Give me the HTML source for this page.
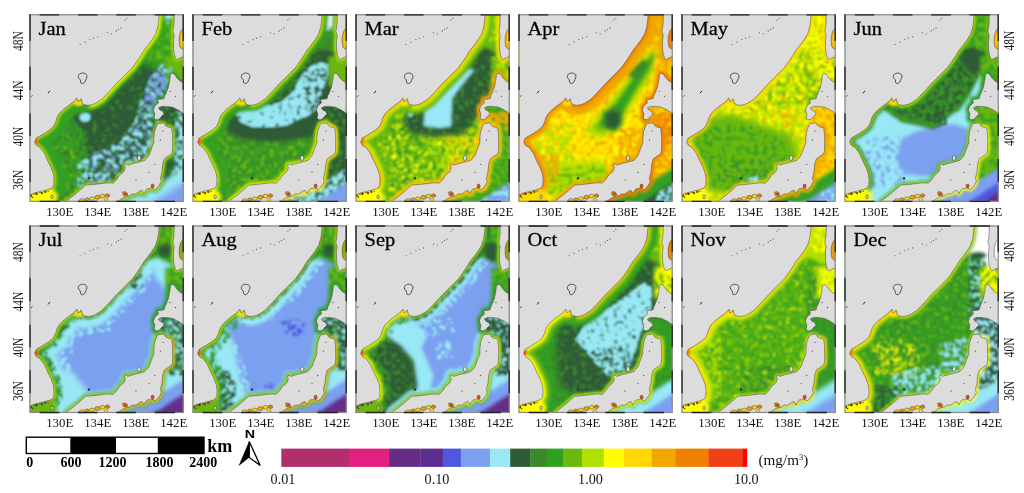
<!DOCTYPE html>
<html><head><meta charset="utf-8"><style>
html,body{margin:0;padding:0;background:#fff;}
svg{display:block;}
.ttl{font-family:"Liberation Serif",serif;font-size:19px;fill:#000;stroke:#000;stroke-width:0.25px;}
.lon{font-family:"Liberation Serif",serif;font-size:12.8px;fill:#111;text-anchor:middle;}
.lat{font-family:"Liberation Serif",serif;font-size:13px;fill:#111;text-anchor:middle;}
.cb{font-family:"Liberation Serif",serif;font-size:14.2px;fill:#111;text-anchor:middle;}
.unit{font-family:"Liberation Serif",serif;font-size:15.2px;fill:#111;}
.km{font-family:"Liberation Serif",serif;font-size:18px;font-weight:bold;fill:#000;}
.sb{font-family:"Liberation Serif",serif;font-size:14px;font-weight:bold;fill:#000;}
.nn{font-family:"Liberation Sans",sans-serif;font-size:11px;font-weight:bold;fill:#000;text-anchor:middle;}
</style></head><body>
<svg width="1024" height="493" viewBox="0 0 1024 493">
<defs><clipPath id="clp"><rect x="0" y="0" width="154.2" height="187.5"/></clipPath>
<filter id="s15_1" x="-5%" y="-5%" width="110%" height="110%"><feTurbulence type="fractalNoise" baseFrequency="0.22" numOctaves="3" seed="1" result="t"/><feColorMatrix in="t" type="matrix" values="0 0 0 0 0  0 0 0 0 0  0 0 0 0 0  14 0 0 0 -8.377" result="m"/><feComposite in="SourceGraphic" in2="m" operator="in"/></filter><filter id="s60_2" x="-5%" y="-5%" width="110%" height="110%"><feTurbulence type="fractalNoise" baseFrequency="0.22" numOctaves="3" seed="2" result="t"/><feColorMatrix in="t" type="matrix" values="0 0 0 0 0  0 0 0 0 0  0 0 0 0 0  14 0 0 0 -6.045" result="m"/><feComposite in="SourceGraphic" in2="m" operator="in"/></filter><filter id="s55_3" x="-5%" y="-5%" width="110%" height="110%"><feTurbulence type="fractalNoise" baseFrequency="0.22" numOctaves="3" seed="3" result="t"/><feColorMatrix in="t" type="matrix" values="0 0 0 0 0  0 0 0 0 0  0 0 0 0 0  14 0 0 0 -6.258" result="m"/><feComposite in="SourceGraphic" in2="m" operator="in"/></filter><filter id="s15_13" x="-5%" y="-5%" width="110%" height="110%"><feTurbulence type="fractalNoise" baseFrequency="0.22" numOctaves="3" seed="13" result="t"/><feColorMatrix in="t" type="matrix" values="0 0 0 0 0  0 0 0 0 0  0 0 0 0 0  14 0 0 0 -8.377" result="m"/><feComposite in="SourceGraphic" in2="m" operator="in"/></filter><filter id="b30" x="-20%" y="-20%" width="140%" height="140%"><feGaussianBlur stdDeviation="3"/></filter><filter id="s30_4" x="-5%" y="-5%" width="110%" height="110%"><feTurbulence type="fractalNoise" baseFrequency="0.22" numOctaves="3" seed="4" result="t"/><feColorMatrix in="t" type="matrix" values="0 0 0 0 0  0 0 0 0 0  0 0 0 0 0  14 0 0 0 -7.414" result="m"/><feComposite in="SourceGraphic" in2="m" operator="in"/></filter><filter id="s60_10" x="-5%" y="-5%" width="110%" height="110%"><feTurbulence type="fractalNoise" baseFrequency="0.22" numOctaves="3" seed="10" result="t"/><feColorMatrix in="t" type="matrix" values="0 0 0 0 0  0 0 0 0 0  0 0 0 0 0  14 0 0 0 -6.045" result="m"/><feComposite in="SourceGraphic" in2="m" operator="in"/></filter><filter id="s30_9" x="-5%" y="-5%" width="110%" height="110%"><feTurbulence type="fractalNoise" baseFrequency="0.22" numOctaves="3" seed="9" result="t"/><feColorMatrix in="t" type="matrix" values="0 0 0 0 0  0 0 0 0 0  0 0 0 0 0  14 0 0 0 -7.414" result="m"/><feComposite in="SourceGraphic" in2="m" operator="in"/></filter><filter id="b14" x="-20%" y="-20%" width="140%" height="140%"><feGaussianBlur stdDeviation="1.4"/></filter><filter id="s32_5" x="-5%" y="-5%" width="110%" height="110%"><feTurbulence type="fractalNoise" baseFrequency="0.22" numOctaves="3" seed="5" result="t"/><feColorMatrix in="t" type="matrix" values="0 0 0 0 0  0 0 0 0 0  0 0 0 0 0  14 0 0 0 -7.319" result="m"/><feComposite in="SourceGraphic" in2="m" operator="in"/></filter><filter id="s7_6" x="-5%" y="-5%" width="110%" height="110%"><feTurbulence type="fractalNoise" baseFrequency="0.22" numOctaves="3" seed="6" result="t"/><feColorMatrix in="t" type="matrix" values="0 0 0 0 0  0 0 0 0 0  0 0 0 0 0  14 0 0 0 -8.986" result="m"/><feComposite in="SourceGraphic" in2="m" operator="in"/></filter><filter id="s45_7" x="-5%" y="-5%" width="110%" height="110%"><feTurbulence type="fractalNoise" baseFrequency="0.22" numOctaves="3" seed="7" result="t"/><feColorMatrix in="t" type="matrix" values="0 0 0 0 0  0 0 0 0 0  0 0 0 0 0  14 0 0 0 -6.712" result="m"/><feComposite in="SourceGraphic" in2="m" operator="in"/></filter><filter id="s20_12" x="-5%" y="-5%" width="110%" height="110%"><feTurbulence type="fractalNoise" baseFrequency="0.22" numOctaves="3" seed="12" result="t"/><feColorMatrix in="t" type="matrix" values="0 0 0 0 0  0 0 0 0 0  0 0 0 0 0  14 0 0 0 -8.001" result="m"/><feComposite in="SourceGraphic" in2="m" operator="in"/></filter><filter id="s45_8" x="-5%" y="-5%" width="110%" height="110%"><feTurbulence type="fractalNoise" baseFrequency="0.22" numOctaves="3" seed="8" result="t"/><feColorMatrix in="t" type="matrix" values="0 0 0 0 0  0 0 0 0 0  0 0 0 0 0  14 0 0 0 -6.712" result="m"/><feComposite in="SourceGraphic" in2="m" operator="in"/></filter><filter id="b20" x="-20%" y="-20%" width="140%" height="140%"><feGaussianBlur stdDeviation="2"/></filter><filter id="b8" x="-20%" y="-20%" width="140%" height="140%"><feGaussianBlur stdDeviation="0.8"/></filter><filter id="b15" x="-20%" y="-20%" width="140%" height="140%"><feGaussianBlur stdDeviation="1.5"/></filter><filter id="s50_11" x="-5%" y="-5%" width="110%" height="110%"><feTurbulence type="fractalNoise" baseFrequency="0.22" numOctaves="3" seed="11" result="t"/><feColorMatrix in="t" type="matrix" values="0 0 0 0 0  0 0 0 0 0  0 0 0 0 0  14 0 0 0 -6.483" result="m"/><feComposite in="SourceGraphic" in2="m" operator="in"/></filter><filter id="s22_12" x="-5%" y="-5%" width="110%" height="110%"><feTurbulence type="fractalNoise" baseFrequency="0.22" numOctaves="3" seed="12" result="t"/><feColorMatrix in="t" type="matrix" values="0 0 0 0 0  0 0 0 0 0  0 0 0 0 0  14 0 0 0 -7.851" result="m"/><feComposite in="SourceGraphic" in2="m" operator="in"/></filter><filter id="s30_18" x="-5%" y="-5%" width="110%" height="110%"><feTurbulence type="fractalNoise" baseFrequency="0.22" numOctaves="3" seed="18" result="t"/><feColorMatrix in="t" type="matrix" values="0 0 0 0 0  0 0 0 0 0  0 0 0 0 0  14 0 0 0 -7.414" result="m"/><feComposite in="SourceGraphic" in2="m" operator="in"/></filter><filter id="s90_13" x="-5%" y="-5%" width="110%" height="110%"><feTurbulence type="fractalNoise" baseFrequency="0.22" numOctaves="3" seed="13" result="t"/><feColorMatrix in="t" type="matrix" values="0 0 0 0 0  0 0 0 0 0  0 0 0 0 0  14 0 0 0 -4.248" result="m"/><feComposite in="SourceGraphic" in2="m" operator="in"/></filter><filter id="s30_19" x="-5%" y="-5%" width="110%" height="110%"><feTurbulence type="fractalNoise" baseFrequency="0.22" numOctaves="3" seed="19" result="t"/><feColorMatrix in="t" type="matrix" values="0 0 0 0 0  0 0 0 0 0  0 0 0 0 0  14 0 0 0 -7.414" result="m"/><feComposite in="SourceGraphic" in2="m" operator="in"/></filter><filter id="b10" x="-20%" y="-20%" width="140%" height="140%"><feGaussianBlur stdDeviation="1"/></filter><filter id="s40_14" x="-5%" y="-5%" width="110%" height="110%"><feTurbulence type="fractalNoise" baseFrequency="0.22" numOctaves="3" seed="14" result="t"/><feColorMatrix in="t" type="matrix" values="0 0 0 0 0  0 0 0 0 0  0 0 0 0 0  14 0 0 0 -6.941" result="m"/><feComposite in="SourceGraphic" in2="m" operator="in"/></filter><filter id="s40_20" x="-5%" y="-5%" width="110%" height="110%"><feTurbulence type="fractalNoise" baseFrequency="0.22" numOctaves="3" seed="20" result="t"/><feColorMatrix in="t" type="matrix" values="0 0 0 0 0  0 0 0 0 0  0 0 0 0 0  14 0 0 0 -6.941" result="m"/><feComposite in="SourceGraphic" in2="m" operator="in"/></filter><filter id="s30_15" x="-5%" y="-5%" width="110%" height="110%"><feTurbulence type="fractalNoise" baseFrequency="0.22" numOctaves="3" seed="15" result="t"/><feColorMatrix in="t" type="matrix" values="0 0 0 0 0  0 0 0 0 0  0 0 0 0 0  14 0 0 0 -7.414" result="m"/><feComposite in="SourceGraphic" in2="m" operator="in"/></filter><filter id="s60_16" x="-5%" y="-5%" width="110%" height="110%"><feTurbulence type="fractalNoise" baseFrequency="0.22" numOctaves="3" seed="16" result="t"/><feColorMatrix in="t" type="matrix" values="0 0 0 0 0  0 0 0 0 0  0 0 0 0 0  14 0 0 0 -6.045" result="m"/><feComposite in="SourceGraphic" in2="m" operator="in"/></filter><filter id="s50_21" x="-5%" y="-5%" width="110%" height="110%"><feTurbulence type="fractalNoise" baseFrequency="0.22" numOctaves="3" seed="21" result="t"/><feColorMatrix in="t" type="matrix" values="0 0 0 0 0  0 0 0 0 0  0 0 0 0 0  14 0 0 0 -6.483" result="m"/><feComposite in="SourceGraphic" in2="m" operator="in"/></filter><filter id="s25_22" x="-5%" y="-5%" width="110%" height="110%"><feTurbulence type="fractalNoise" baseFrequency="0.22" numOctaves="3" seed="22" result="t"/><feColorMatrix in="t" type="matrix" values="0 0 0 0 0  0 0 0 0 0  0 0 0 0 0  14 0 0 0 -7.652" result="m"/><feComposite in="SourceGraphic" in2="m" operator="in"/></filter><filter id="s10_32" x="-5%" y="-5%" width="110%" height="110%"><feTurbulence type="fractalNoise" baseFrequency="0.22" numOctaves="3" seed="32" result="t"/><feColorMatrix in="t" type="matrix" values="0 0 0 0 0  0 0 0 0 0  0 0 0 0 0  14 0 0 0 -8.758" result="m"/><feComposite in="SourceGraphic" in2="m" operator="in"/></filter><filter id="s35_23" x="-5%" y="-5%" width="110%" height="110%"><feTurbulence type="fractalNoise" baseFrequency="0.22" numOctaves="3" seed="23" result="t"/><feColorMatrix in="t" type="matrix" values="0 0 0 0 0  0 0 0 0 0  0 0 0 0 0  14 0 0 0 -7.176" result="m"/><feComposite in="SourceGraphic" in2="m" operator="in"/></filter><filter id="s25_24" x="-5%" y="-5%" width="110%" height="110%"><feTurbulence type="fractalNoise" baseFrequency="0.22" numOctaves="3" seed="24" result="t"/><feColorMatrix in="t" type="matrix" values="0 0 0 0 0  0 0 0 0 0  0 0 0 0 0  14 0 0 0 -7.652" result="m"/><feComposite in="SourceGraphic" in2="m" operator="in"/></filter><filter id="b22" x="-20%" y="-20%" width="140%" height="140%"><feGaussianBlur stdDeviation="2.2"/></filter><filter id="s20_30" x="-5%" y="-5%" width="110%" height="110%"><feTurbulence type="fractalNoise" baseFrequency="0.22" numOctaves="3" seed="30" result="t"/><feColorMatrix in="t" type="matrix" values="0 0 0 0 0  0 0 0 0 0  0 0 0 0 0  14 0 0 0 -8.001" result="m"/><feComposite in="SourceGraphic" in2="m" operator="in"/></filter><filter id="s60_26" x="-5%" y="-5%" width="110%" height="110%"><feTurbulence type="fractalNoise" baseFrequency="0.22" numOctaves="3" seed="26" result="t"/><feColorMatrix in="t" type="matrix" values="0 0 0 0 0  0 0 0 0 0  0 0 0 0 0  14 0 0 0 -6.045" result="m"/><feComposite in="SourceGraphic" in2="m" operator="in"/></filter><filter id="s40_31" x="-5%" y="-5%" width="110%" height="110%"><feTurbulence type="fractalNoise" baseFrequency="0.22" numOctaves="3" seed="31" result="t"/><feColorMatrix in="t" type="matrix" values="0 0 0 0 0  0 0 0 0 0  0 0 0 0 0  14 0 0 0 -6.941" result="m"/><feComposite in="SourceGraphic" in2="m" operator="in"/></filter><filter id="s40_27" x="-5%" y="-5%" width="110%" height="110%"><feTurbulence type="fractalNoise" baseFrequency="0.22" numOctaves="3" seed="27" result="t"/><feColorMatrix in="t" type="matrix" values="0 0 0 0 0  0 0 0 0 0  0 0 0 0 0  14 0 0 0 -6.941" result="m"/><feComposite in="SourceGraphic" in2="m" operator="in"/></filter><filter id="s60_28" x="-5%" y="-5%" width="110%" height="110%"><feTurbulence type="fractalNoise" baseFrequency="0.22" numOctaves="3" seed="28" result="t"/><feColorMatrix in="t" type="matrix" values="0 0 0 0 0  0 0 0 0 0  0 0 0 0 0  14 0 0 0 -6.045" result="m"/><feComposite in="SourceGraphic" in2="m" operator="in"/></filter><filter id="s40_29" x="-5%" y="-5%" width="110%" height="110%"><feTurbulence type="fractalNoise" baseFrequency="0.22" numOctaves="3" seed="29" result="t"/><feColorMatrix in="t" type="matrix" values="0 0 0 0 0  0 0 0 0 0  0 0 0 0 0  14 0 0 0 -6.941" result="m"/><feComposite in="SourceGraphic" in2="m" operator="in"/></filter><filter id="s20_32" x="-5%" y="-5%" width="110%" height="110%"><feTurbulence type="fractalNoise" baseFrequency="0.22" numOctaves="3" seed="32" result="t"/><feColorMatrix in="t" type="matrix" values="0 0 0 0 0  0 0 0 0 0  0 0 0 0 0  14 0 0 0 -8.001" result="m"/><feComposite in="SourceGraphic" in2="m" operator="in"/></filter><filter id="s45_33" x="-5%" y="-5%" width="110%" height="110%"><feTurbulence type="fractalNoise" baseFrequency="0.22" numOctaves="3" seed="33" result="t"/><feColorMatrix in="t" type="matrix" values="0 0 0 0 0  0 0 0 0 0  0 0 0 0 0  14 0 0 0 -6.712" result="m"/><feComposite in="SourceGraphic" in2="m" operator="in"/></filter><filter id="s35_34" x="-5%" y="-5%" width="110%" height="110%"><feTurbulence type="fractalNoise" baseFrequency="0.22" numOctaves="3" seed="34" result="t"/><feColorMatrix in="t" type="matrix" values="0 0 0 0 0  0 0 0 0 0  0 0 0 0 0  14 0 0 0 -7.176" result="m"/><feComposite in="SourceGraphic" in2="m" operator="in"/></filter><filter id="s50_35" x="-5%" y="-5%" width="110%" height="110%"><feTurbulence type="fractalNoise" baseFrequency="0.22" numOctaves="3" seed="35" result="t"/><feColorMatrix in="t" type="matrix" values="0 0 0 0 0  0 0 0 0 0  0 0 0 0 0  14 0 0 0 -6.483" result="m"/><feComposite in="SourceGraphic" in2="m" operator="in"/></filter><filter id="s55_36" x="-5%" y="-5%" width="110%" height="110%"><feTurbulence type="fractalNoise" baseFrequency="0.22" numOctaves="3" seed="36" result="t"/><feColorMatrix in="t" type="matrix" values="0 0 0 0 0  0 0 0 0 0  0 0 0 0 0  14 0 0 0 -6.258" result="m"/><feComposite in="SourceGraphic" in2="m" operator="in"/></filter><filter id="b25" x="-20%" y="-20%" width="140%" height="140%"><feGaussianBlur stdDeviation="2.5"/></filter><filter id="b12" x="-20%" y="-20%" width="140%" height="140%"><feGaussianBlur stdDeviation="1.2"/></filter><filter id="s40_37" x="-5%" y="-5%" width="110%" height="110%"><feTurbulence type="fractalNoise" baseFrequency="0.22" numOctaves="3" seed="37" result="t"/><feColorMatrix in="t" type="matrix" values="0 0 0 0 0  0 0 0 0 0  0 0 0 0 0  14 0 0 0 -6.941" result="m"/><feComposite in="SourceGraphic" in2="m" operator="in"/></filter><filter id="s40_42" x="-5%" y="-5%" width="110%" height="110%"><feTurbulence type="fractalNoise" baseFrequency="0.22" numOctaves="3" seed="42" result="t"/><feColorMatrix in="t" type="matrix" values="0 0 0 0 0  0 0 0 0 0  0 0 0 0 0  14 0 0 0 -6.941" result="m"/><feComposite in="SourceGraphic" in2="m" operator="in"/></filter><filter id="s40_38" x="-5%" y="-5%" width="110%" height="110%"><feTurbulence type="fractalNoise" baseFrequency="0.22" numOctaves="3" seed="38" result="t"/><feColorMatrix in="t" type="matrix" values="0 0 0 0 0  0 0 0 0 0  0 0 0 0 0  14 0 0 0 -6.941" result="m"/><feComposite in="SourceGraphic" in2="m" operator="in"/></filter><filter id="s60_39" x="-5%" y="-5%" width="110%" height="110%"><feTurbulence type="fractalNoise" baseFrequency="0.22" numOctaves="3" seed="39" result="t"/><feColorMatrix in="t" type="matrix" values="0 0 0 0 0  0 0 0 0 0  0 0 0 0 0  14 0 0 0 -6.045" result="m"/><feComposite in="SourceGraphic" in2="m" operator="in"/></filter><filter id="s60_40" x="-5%" y="-5%" width="110%" height="110%"><feTurbulence type="fractalNoise" baseFrequency="0.22" numOctaves="3" seed="40" result="t"/><feColorMatrix in="t" type="matrix" values="0 0 0 0 0  0 0 0 0 0  0 0 0 0 0  14 0 0 0 -6.045" result="m"/><feComposite in="SourceGraphic" in2="m" operator="in"/></filter><filter id="s40_41" x="-5%" y="-5%" width="110%" height="110%"><feTurbulence type="fractalNoise" baseFrequency="0.22" numOctaves="3" seed="41" result="t"/><feColorMatrix in="t" type="matrix" values="0 0 0 0 0  0 0 0 0 0  0 0 0 0 0  14 0 0 0 -6.941" result="m"/><feComposite in="SourceGraphic" in2="m" operator="in"/></filter><filter id="s10_42" x="-5%" y="-5%" width="110%" height="110%"><feTurbulence type="fractalNoise" baseFrequency="0.22" numOctaves="3" seed="42" result="t"/><feColorMatrix in="t" type="matrix" values="0 0 0 0 0  0 0 0 0 0  0 0 0 0 0  14 0 0 0 -8.758" result="m"/><feComposite in="SourceGraphic" in2="m" operator="in"/></filter><filter id="s25_51" x="-5%" y="-5%" width="110%" height="110%"><feTurbulence type="fractalNoise" baseFrequency="0.22" numOctaves="3" seed="51" result="t"/><feColorMatrix in="t" type="matrix" values="0 0 0 0 0  0 0 0 0 0  0 0 0 0 0  14 0 0 0 -7.652" result="m"/><feComposite in="SourceGraphic" in2="m" operator="in"/></filter><filter id="s30_43" x="-5%" y="-5%" width="110%" height="110%"><feTurbulence type="fractalNoise" baseFrequency="0.22" numOctaves="3" seed="43" result="t"/><feColorMatrix in="t" type="matrix" values="0 0 0 0 0  0 0 0 0 0  0 0 0 0 0  14 0 0 0 -7.414" result="m"/><feComposite in="SourceGraphic" in2="m" operator="in"/></filter><filter id="s25_45" x="-5%" y="-5%" width="110%" height="110%"><feTurbulence type="fractalNoise" baseFrequency="0.22" numOctaves="3" seed="45" result="t"/><feColorMatrix in="t" type="matrix" values="0 0 0 0 0  0 0 0 0 0  0 0 0 0 0  14 0 0 0 -7.652" result="m"/><feComposite in="SourceGraphic" in2="m" operator="in"/></filter><filter id="s25_46" x="-5%" y="-5%" width="110%" height="110%"><feTurbulence type="fractalNoise" baseFrequency="0.22" numOctaves="3" seed="46" result="t"/><feColorMatrix in="t" type="matrix" values="0 0 0 0 0  0 0 0 0 0  0 0 0 0 0  14 0 0 0 -7.652" result="m"/><feComposite in="SourceGraphic" in2="m" operator="in"/></filter><filter id="s50_47" x="-5%" y="-5%" width="110%" height="110%"><feTurbulence type="fractalNoise" baseFrequency="0.22" numOctaves="3" seed="47" result="t"/><feColorMatrix in="t" type="matrix" values="0 0 0 0 0  0 0 0 0 0  0 0 0 0 0  14 0 0 0 -6.483" result="m"/><feComposite in="SourceGraphic" in2="m" operator="in"/></filter><filter id="s30_44" x="-5%" y="-5%" width="110%" height="110%"><feTurbulence type="fractalNoise" baseFrequency="0.22" numOctaves="3" seed="44" result="t"/><feColorMatrix in="t" type="matrix" values="0 0 0 0 0  0 0 0 0 0  0 0 0 0 0  14 0 0 0 -7.414" result="m"/><feComposite in="SourceGraphic" in2="m" operator="in"/></filter><filter id="s50_48" x="-5%" y="-5%" width="110%" height="110%"><feTurbulence type="fractalNoise" baseFrequency="0.22" numOctaves="3" seed="48" result="t"/><feColorMatrix in="t" type="matrix" values="0 0 0 0 0  0 0 0 0 0  0 0 0 0 0  14 0 0 0 -6.483" result="m"/><feComposite in="SourceGraphic" in2="m" operator="in"/></filter><filter id="s30_52" x="-5%" y="-5%" width="110%" height="110%"><feTurbulence type="fractalNoise" baseFrequency="0.22" numOctaves="3" seed="52" result="t"/><feColorMatrix in="t" type="matrix" values="0 0 0 0 0  0 0 0 0 0  0 0 0 0 0  14 0 0 0 -7.414" result="m"/><feComposite in="SourceGraphic" in2="m" operator="in"/></filter><filter id="s40_49" x="-5%" y="-5%" width="110%" height="110%"><feTurbulence type="fractalNoise" baseFrequency="0.22" numOctaves="3" seed="49" result="t"/><feColorMatrix in="t" type="matrix" values="0 0 0 0 0  0 0 0 0 0  0 0 0 0 0  14 0 0 0 -6.941" result="m"/><feComposite in="SourceGraphic" in2="m" operator="in"/></filter><filter id="s50_50" x="-5%" y="-5%" width="110%" height="110%"><feTurbulence type="fractalNoise" baseFrequency="0.22" numOctaves="3" seed="50" result="t"/><feColorMatrix in="t" type="matrix" values="0 0 0 0 0  0 0 0 0 0  0 0 0 0 0  14 0 0 0 -6.483" result="m"/><feComposite in="SourceGraphic" in2="m" operator="in"/></filter><filter id="s30_56" x="-5%" y="-5%" width="110%" height="110%"><feTurbulence type="fractalNoise" baseFrequency="0.22" numOctaves="3" seed="56" result="t"/><feColorMatrix in="t" type="matrix" values="0 0 0 0 0  0 0 0 0 0  0 0 0 0 0  14 0 0 0 -7.414" result="m"/><feComposite in="SourceGraphic" in2="m" operator="in"/></filter><filter id="s45_57" x="-5%" y="-5%" width="110%" height="110%"><feTurbulence type="fractalNoise" baseFrequency="0.22" numOctaves="3" seed="57" result="t"/><feColorMatrix in="t" type="matrix" values="0 0 0 0 0  0 0 0 0 0  0 0 0 0 0  14 0 0 0 -6.712" result="m"/><feComposite in="SourceGraphic" in2="m" operator="in"/></filter><filter id="s60_58" x="-5%" y="-5%" width="110%" height="110%"><feTurbulence type="fractalNoise" baseFrequency="0.22" numOctaves="3" seed="58" result="t"/><feColorMatrix in="t" type="matrix" values="0 0 0 0 0  0 0 0 0 0  0 0 0 0 0  14 0 0 0 -6.045" result="m"/><feComposite in="SourceGraphic" in2="m" operator="in"/></filter><filter id="s40_53" x="-5%" y="-5%" width="110%" height="110%"><feTurbulence type="fractalNoise" baseFrequency="0.22" numOctaves="3" seed="53" result="t"/><feColorMatrix in="t" type="matrix" values="0 0 0 0 0  0 0 0 0 0  0 0 0 0 0  14 0 0 0 -6.941" result="m"/><feComposite in="SourceGraphic" in2="m" operator="in"/></filter><filter id="s40_59" x="-5%" y="-5%" width="110%" height="110%"><feTurbulence type="fractalNoise" baseFrequency="0.22" numOctaves="3" seed="59" result="t"/><feColorMatrix in="t" type="matrix" values="0 0 0 0 0  0 0 0 0 0  0 0 0 0 0  14 0 0 0 -6.941" result="m"/><feComposite in="SourceGraphic" in2="m" operator="in"/></filter><filter id="s40_55" x="-5%" y="-5%" width="110%" height="110%"><feTurbulence type="fractalNoise" baseFrequency="0.22" numOctaves="3" seed="55" result="t"/><feColorMatrix in="t" type="matrix" values="0 0 0 0 0  0 0 0 0 0  0 0 0 0 0  14 0 0 0 -6.941" result="m"/><feComposite in="SourceGraphic" in2="m" operator="in"/></filter><filter id="s30_67" x="-5%" y="-5%" width="110%" height="110%"><feTurbulence type="fractalNoise" baseFrequency="0.22" numOctaves="3" seed="67" result="t"/><feColorMatrix in="t" type="matrix" values="0 0 0 0 0  0 0 0 0 0  0 0 0 0 0  14 0 0 0 -7.414" result="m"/><feComposite in="SourceGraphic" in2="m" operator="in"/></filter><filter id="s30_68" x="-5%" y="-5%" width="110%" height="110%"><feTurbulence type="fractalNoise" baseFrequency="0.22" numOctaves="3" seed="68" result="t"/><feColorMatrix in="t" type="matrix" values="0 0 0 0 0  0 0 0 0 0  0 0 0 0 0  14 0 0 0 -7.414" result="m"/><feComposite in="SourceGraphic" in2="m" operator="in"/></filter><filter id="s40_60" x="-5%" y="-5%" width="110%" height="110%"><feTurbulence type="fractalNoise" baseFrequency="0.22" numOctaves="3" seed="60" result="t"/><feColorMatrix in="t" type="matrix" values="0 0 0 0 0  0 0 0 0 0  0 0 0 0 0  14 0 0 0 -6.941" result="m"/><feComposite in="SourceGraphic" in2="m" operator="in"/></filter><filter id="s50_61" x="-5%" y="-5%" width="110%" height="110%"><feTurbulence type="fractalNoise" baseFrequency="0.22" numOctaves="3" seed="61" result="t"/><feColorMatrix in="t" type="matrix" values="0 0 0 0 0  0 0 0 0 0  0 0 0 0 0  14 0 0 0 -6.483" result="m"/><feComposite in="SourceGraphic" in2="m" operator="in"/></filter><filter id="s50_64" x="-5%" y="-5%" width="110%" height="110%"><feTurbulence type="fractalNoise" baseFrequency="0.22" numOctaves="3" seed="64" result="t"/><feColorMatrix in="t" type="matrix" values="0 0 0 0 0  0 0 0 0 0  0 0 0 0 0  14 0 0 0 -6.483" result="m"/><feComposite in="SourceGraphic" in2="m" operator="in"/></filter><filter id="s45_63" x="-5%" y="-5%" width="110%" height="110%"><feTurbulence type="fractalNoise" baseFrequency="0.22" numOctaves="3" seed="63" result="t"/><feColorMatrix in="t" type="matrix" values="0 0 0 0 0  0 0 0 0 0  0 0 0 0 0  14 0 0 0 -6.712" result="m"/><feComposite in="SourceGraphic" in2="m" operator="in"/></filter><filter id="s30_66" x="-5%" y="-5%" width="110%" height="110%"><feTurbulence type="fractalNoise" baseFrequency="0.22" numOctaves="3" seed="66" result="t"/><feColorMatrix in="t" type="matrix" values="0 0 0 0 0  0 0 0 0 0  0 0 0 0 0  14 0 0 0 -7.414" result="m"/><feComposite in="SourceGraphic" in2="m" operator="in"/></filter><filter id="s60_65" x="-5%" y="-5%" width="110%" height="110%"><feTurbulence type="fractalNoise" baseFrequency="0.22" numOctaves="3" seed="65" result="t"/><feColorMatrix in="t" type="matrix" values="0 0 0 0 0  0 0 0 0 0  0 0 0 0 0  14 0 0 0 -6.045" result="m"/><feComposite in="SourceGraphic" in2="m" operator="in"/></filter><filter id="s25_69" x="-5%" y="-5%" width="110%" height="110%"><feTurbulence type="fractalNoise" baseFrequency="0.22" numOctaves="3" seed="69" result="t"/><feColorMatrix in="t" type="matrix" values="0 0 0 0 0  0 0 0 0 0  0 0 0 0 0  14 0 0 0 -7.652" result="m"/><feComposite in="SourceGraphic" in2="m" operator="in"/></filter><filter id="s40_70" x="-5%" y="-5%" width="110%" height="110%"><feTurbulence type="fractalNoise" baseFrequency="0.22" numOctaves="3" seed="70" result="t"/><feColorMatrix in="t" type="matrix" values="0 0 0 0 0  0 0 0 0 0  0 0 0 0 0  14 0 0 0 -6.941" result="m"/><feComposite in="SourceGraphic" in2="m" operator="in"/></filter><filter id="s60_62" x="-5%" y="-5%" width="110%" height="110%"><feTurbulence type="fractalNoise" baseFrequency="0.22" numOctaves="3" seed="62" result="t"/><feColorMatrix in="t" type="matrix" values="0 0 0 0 0  0 0 0 0 0  0 0 0 0 0  14 0 0 0 -6.045" result="m"/><feComposite in="SourceGraphic" in2="m" operator="in"/></filter><filter id="s42_71" x="-5%" y="-5%" width="110%" height="110%"><feTurbulence type="fractalNoise" baseFrequency="0.22" numOctaves="3" seed="71" result="t"/><feColorMatrix in="t" type="matrix" values="0 0 0 0 0  0 0 0 0 0  0 0 0 0 0  14 0 0 0 -6.849" result="m"/><feComposite in="SourceGraphic" in2="m" operator="in"/></filter><filter id="s40_72" x="-5%" y="-5%" width="110%" height="110%"><feTurbulence type="fractalNoise" baseFrequency="0.22" numOctaves="3" seed="72" result="t"/><feColorMatrix in="t" type="matrix" values="0 0 0 0 0  0 0 0 0 0  0 0 0 0 0  14 0 0 0 -6.941" result="m"/><feComposite in="SourceGraphic" in2="m" operator="in"/></filter><filter id="s30_77" x="-5%" y="-5%" width="110%" height="110%"><feTurbulence type="fractalNoise" baseFrequency="0.22" numOctaves="3" seed="77" result="t"/><feColorMatrix in="t" type="matrix" values="0 0 0 0 0  0 0 0 0 0  0 0 0 0 0  14 0 0 0 -7.414" result="m"/><feComposite in="SourceGraphic" in2="m" operator="in"/></filter><filter id="s35_78" x="-5%" y="-5%" width="110%" height="110%"><feTurbulence type="fractalNoise" baseFrequency="0.22" numOctaves="3" seed="78" result="t"/><feColorMatrix in="t" type="matrix" values="0 0 0 0 0  0 0 0 0 0  0 0 0 0 0  14 0 0 0 -7.176" result="m"/><feComposite in="SourceGraphic" in2="m" operator="in"/></filter><filter id="s50_74" x="-5%" y="-5%" width="110%" height="110%"><feTurbulence type="fractalNoise" baseFrequency="0.22" numOctaves="3" seed="74" result="t"/><feColorMatrix in="t" type="matrix" values="0 0 0 0 0  0 0 0 0 0  0 0 0 0 0  14 0 0 0 -6.483" result="m"/><feComposite in="SourceGraphic" in2="m" operator="in"/></filter><filter id="s55_73" x="-5%" y="-5%" width="110%" height="110%"><feTurbulence type="fractalNoise" baseFrequency="0.22" numOctaves="3" seed="73" result="t"/><feColorMatrix in="t" type="matrix" values="0 0 0 0 0  0 0 0 0 0  0 0 0 0 0  14 0 0 0 -6.258" result="m"/><feComposite in="SourceGraphic" in2="m" operator="in"/></filter><filter id="s40_75" x="-5%" y="-5%" width="110%" height="110%"><feTurbulence type="fractalNoise" baseFrequency="0.22" numOctaves="3" seed="75" result="t"/><feColorMatrix in="t" type="matrix" values="0 0 0 0 0  0 0 0 0 0  0 0 0 0 0  14 0 0 0 -6.941" result="m"/><feComposite in="SourceGraphic" in2="m" operator="in"/></filter><filter id="s70_76" x="-5%" y="-5%" width="110%" height="110%"><feTurbulence type="fractalNoise" baseFrequency="0.22" numOctaves="3" seed="76" result="t"/><feColorMatrix in="t" type="matrix" values="0 0 0 0 0  0 0 0 0 0  0 0 0 0 0  14 0 0 0 -5.621" result="m"/><feComposite in="SourceGraphic" in2="m" operator="in"/></filter><filter id="s20_79" x="-5%" y="-5%" width="110%" height="110%"><feTurbulence type="fractalNoise" baseFrequency="0.22" numOctaves="3" seed="79" result="t"/><feColorMatrix in="t" type="matrix" values="0 0 0 0 0  0 0 0 0 0  0 0 0 0 0  14 0 0 0 -8.001" result="m"/><feComposite in="SourceGraphic" in2="m" operator="in"/></filter><filter id="s40_80" x="-5%" y="-5%" width="110%" height="110%"><feTurbulence type="fractalNoise" baseFrequency="0.22" numOctaves="3" seed="80" result="t"/><feColorMatrix in="t" type="matrix" values="0 0 0 0 0  0 0 0 0 0  0 0 0 0 0  14 0 0 0 -6.941" result="m"/><feComposite in="SourceGraphic" in2="m" operator="in"/></filter><filter id="s60_81" x="-5%" y="-5%" width="110%" height="110%"><feTurbulence type="fractalNoise" baseFrequency="0.22" numOctaves="3" seed="81" result="t"/><feColorMatrix in="t" type="matrix" values="0 0 0 0 0  0 0 0 0 0  0 0 0 0 0  14 0 0 0 -6.045" result="m"/><feComposite in="SourceGraphic" in2="m" operator="in"/></filter><filter id="s30_87" x="-5%" y="-5%" width="110%" height="110%"><feTurbulence type="fractalNoise" baseFrequency="0.22" numOctaves="3" seed="87" result="t"/><feColorMatrix in="t" type="matrix" values="0 0 0 0 0  0 0 0 0 0  0 0 0 0 0  14 0 0 0 -7.414" result="m"/><feComposite in="SourceGraphic" in2="m" operator="in"/></filter><filter id="b18" x="-20%" y="-20%" width="140%" height="140%"><feGaussianBlur stdDeviation="1.8"/></filter><filter id="s45_81" x="-5%" y="-5%" width="110%" height="110%"><feTurbulence type="fractalNoise" baseFrequency="0.22" numOctaves="3" seed="81" result="t"/><feColorMatrix in="t" type="matrix" values="0 0 0 0 0  0 0 0 0 0  0 0 0 0 0  14 0 0 0 -6.712" result="m"/><feComposite in="SourceGraphic" in2="m" operator="in"/></filter><filter id="s30_88" x="-5%" y="-5%" width="110%" height="110%"><feTurbulence type="fractalNoise" baseFrequency="0.22" numOctaves="3" seed="88" result="t"/><feColorMatrix in="t" type="matrix" values="0 0 0 0 0  0 0 0 0 0  0 0 0 0 0  14 0 0 0 -7.414" result="m"/><feComposite in="SourceGraphic" in2="m" operator="in"/></filter><filter id="s25_91" x="-5%" y="-5%" width="110%" height="110%"><feTurbulence type="fractalNoise" baseFrequency="0.22" numOctaves="3" seed="91" result="t"/><feColorMatrix in="t" type="matrix" values="0 0 0 0 0  0 0 0 0 0  0 0 0 0 0  14 0 0 0 -7.652" result="m"/><feComposite in="SourceGraphic" in2="m" operator="in"/></filter><filter id="s50_82" x="-5%" y="-5%" width="110%" height="110%"><feTurbulence type="fractalNoise" baseFrequency="0.22" numOctaves="3" seed="82" result="t"/><feColorMatrix in="t" type="matrix" values="0 0 0 0 0  0 0 0 0 0  0 0 0 0 0  14 0 0 0 -6.483" result="m"/><feComposite in="SourceGraphic" in2="m" operator="in"/></filter><filter id="s50_89" x="-5%" y="-5%" width="110%" height="110%"><feTurbulence type="fractalNoise" baseFrequency="0.22" numOctaves="3" seed="89" result="t"/><feColorMatrix in="t" type="matrix" values="0 0 0 0 0  0 0 0 0 0  0 0 0 0 0  14 0 0 0 -6.483" result="m"/><feComposite in="SourceGraphic" in2="m" operator="in"/></filter><filter id="s30_90" x="-5%" y="-5%" width="110%" height="110%"><feTurbulence type="fractalNoise" baseFrequency="0.22" numOctaves="3" seed="90" result="t"/><feColorMatrix in="t" type="matrix" values="0 0 0 0 0  0 0 0 0 0  0 0 0 0 0  14 0 0 0 -7.414" result="m"/><feComposite in="SourceGraphic" in2="m" operator="in"/></filter><filter id="s75_83" x="-5%" y="-5%" width="110%" height="110%"><feTurbulence type="fractalNoise" baseFrequency="0.22" numOctaves="3" seed="83" result="t"/><feColorMatrix in="t" type="matrix" values="0 0 0 0 0  0 0 0 0 0  0 0 0 0 0  14 0 0 0 -5.321" result="m"/><feComposite in="SourceGraphic" in2="m" operator="in"/></filter><filter id="s40_84" x="-5%" y="-5%" width="110%" height="110%"><feTurbulence type="fractalNoise" baseFrequency="0.22" numOctaves="3" seed="84" result="t"/><feColorMatrix in="t" type="matrix" values="0 0 0 0 0  0 0 0 0 0  0 0 0 0 0  14 0 0 0 -6.941" result="m"/><feComposite in="SourceGraphic" in2="m" operator="in"/></filter><filter id="s70_85" x="-5%" y="-5%" width="110%" height="110%"><feTurbulence type="fractalNoise" baseFrequency="0.22" numOctaves="3" seed="85" result="t"/><feColorMatrix in="t" type="matrix" values="0 0 0 0 0  0 0 0 0 0  0 0 0 0 0  14 0 0 0 -5.621" result="m"/><feComposite in="SourceGraphic" in2="m" operator="in"/></filter><filter id="s40_93" x="-5%" y="-5%" width="110%" height="110%"><feTurbulence type="fractalNoise" baseFrequency="0.22" numOctaves="3" seed="93" result="t"/><feColorMatrix in="t" type="matrix" values="0 0 0 0 0  0 0 0 0 0  0 0 0 0 0  14 0 0 0 -6.941" result="m"/><feComposite in="SourceGraphic" in2="m" operator="in"/></filter><filter id="s40_91" x="-5%" y="-5%" width="110%" height="110%"><feTurbulence type="fractalNoise" baseFrequency="0.22" numOctaves="3" seed="91" result="t"/><feColorMatrix in="t" type="matrix" values="0 0 0 0 0  0 0 0 0 0  0 0 0 0 0  14 0 0 0 -6.941" result="m"/><feComposite in="SourceGraphic" in2="m" operator="in"/></filter><filter id="s20_94" x="-5%" y="-5%" width="110%" height="110%"><feTurbulence type="fractalNoise" baseFrequency="0.22" numOctaves="3" seed="94" result="t"/><feColorMatrix in="t" type="matrix" values="0 0 0 0 0  0 0 0 0 0  0 0 0 0 0  14 0 0 0 -8.001" result="m"/><feComposite in="SourceGraphic" in2="m" operator="in"/></filter><filter id="s94_92" x="-5%" y="-5%" width="110%" height="110%"><feTurbulence type="fractalNoise" baseFrequency="0.22" numOctaves="3" seed="92" result="t"/><feColorMatrix in="t" type="matrix" values="0 0 0 0 0  0 0 0 0 0  0 0 0 0 0  14 0 0 0 -4.200" result="m"/><feComposite in="SourceGraphic" in2="m" operator="in"/></filter><filter id="s35_95" x="-5%" y="-5%" width="110%" height="110%"><feTurbulence type="fractalNoise" baseFrequency="0.22" numOctaves="3" seed="95" result="t"/><feColorMatrix in="t" type="matrix" values="0 0 0 0 0  0 0 0 0 0  0 0 0 0 0  14 0 0 0 -7.176" result="m"/><feComposite in="SourceGraphic" in2="m" operator="in"/></filter><filter id="s30_96" x="-5%" y="-5%" width="110%" height="110%"><feTurbulence type="fractalNoise" baseFrequency="0.22" numOctaves="3" seed="96" result="t"/><feColorMatrix in="t" type="matrix" values="0 0 0 0 0  0 0 0 0 0  0 0 0 0 0  14 0 0 0 -7.414" result="m"/><feComposite in="SourceGraphic" in2="m" operator="in"/></filter><filter id="s40_97" x="-5%" y="-5%" width="110%" height="110%"><feTurbulence type="fractalNoise" baseFrequency="0.22" numOctaves="3" seed="97" result="t"/><feColorMatrix in="t" type="matrix" values="0 0 0 0 0  0 0 0 0 0  0 0 0 0 0  14 0 0 0 -6.941" result="m"/><feComposite in="SourceGraphic" in2="m" operator="in"/></filter><filter id="s30_98" x="-5%" y="-5%" width="110%" height="110%"><feTurbulence type="fractalNoise" baseFrequency="0.22" numOctaves="3" seed="98" result="t"/><feColorMatrix in="t" type="matrix" values="0 0 0 0 0  0 0 0 0 0  0 0 0 0 0  14 0 0 0 -7.414" result="m"/><feComposite in="SourceGraphic" in2="m" operator="in"/></filter><filter id="s35_101" x="-5%" y="-5%" width="110%" height="110%"><feTurbulence type="fractalNoise" baseFrequency="0.22" numOctaves="3" seed="101" result="t"/><feColorMatrix in="t" type="matrix" values="0 0 0 0 0  0 0 0 0 0  0 0 0 0 0  14 0 0 0 -7.176" result="m"/><feComposite in="SourceGraphic" in2="m" operator="in"/></filter><filter id="s8_102" x="-5%" y="-5%" width="110%" height="110%"><feTurbulence type="fractalNoise" baseFrequency="0.22" numOctaves="3" seed="102" result="t"/><feColorMatrix in="t" type="matrix" values="0 0 0 0 0  0 0 0 0 0  0 0 0 0 0  14 0 0 0 -8.910" result="m"/><feComposite in="SourceGraphic" in2="m" operator="in"/></filter><filter id="s40_103" x="-5%" y="-5%" width="110%" height="110%"><feTurbulence type="fractalNoise" baseFrequency="0.22" numOctaves="3" seed="103" result="t"/><feColorMatrix in="t" type="matrix" values="0 0 0 0 0  0 0 0 0 0  0 0 0 0 0  14 0 0 0 -6.941" result="m"/><feComposite in="SourceGraphic" in2="m" operator="in"/></filter><filter id="s35_104" x="-5%" y="-5%" width="110%" height="110%"><feTurbulence type="fractalNoise" baseFrequency="0.22" numOctaves="3" seed="104" result="t"/><feColorMatrix in="t" type="matrix" values="0 0 0 0 0  0 0 0 0 0  0 0 0 0 0  14 0 0 0 -7.176" result="m"/><feComposite in="SourceGraphic" in2="m" operator="in"/></filter><filter id="s40_105" x="-5%" y="-5%" width="110%" height="110%"><feTurbulence type="fractalNoise" baseFrequency="0.22" numOctaves="3" seed="105" result="t"/><feColorMatrix in="t" type="matrix" values="0 0 0 0 0  0 0 0 0 0  0 0 0 0 0  14 0 0 0 -6.941" result="m"/><feComposite in="SourceGraphic" in2="m" operator="in"/></filter><filter id="s50_106" x="-5%" y="-5%" width="110%" height="110%"><feTurbulence type="fractalNoise" baseFrequency="0.22" numOctaves="3" seed="106" result="t"/><feColorMatrix in="t" type="matrix" values="0 0 0 0 0  0 0 0 0 0  0 0 0 0 0  14 0 0 0 -6.483" result="m"/><feComposite in="SourceGraphic" in2="m" operator="in"/></filter><filter id="s40_107" x="-5%" y="-5%" width="110%" height="110%"><feTurbulence type="fractalNoise" baseFrequency="0.22" numOctaves="3" seed="107" result="t"/><feColorMatrix in="t" type="matrix" values="0 0 0 0 0  0 0 0 0 0  0 0 0 0 0  14 0 0 0 -6.941" result="m"/><feComposite in="SourceGraphic" in2="m" operator="in"/></filter><filter id="s30_108" x="-5%" y="-5%" width="110%" height="110%"><feTurbulence type="fractalNoise" baseFrequency="0.22" numOctaves="3" seed="108" result="t"/><feColorMatrix in="t" type="matrix" values="0 0 0 0 0  0 0 0 0 0  0 0 0 0 0  14 0 0 0 -7.414" result="m"/><feComposite in="SourceGraphic" in2="m" operator="in"/></filter><filter id="s35_111" x="-5%" y="-5%" width="110%" height="110%"><feTurbulence type="fractalNoise" baseFrequency="0.22" numOctaves="3" seed="111" result="t"/><feColorMatrix in="t" type="matrix" values="0 0 0 0 0  0 0 0 0 0  0 0 0 0 0  14 0 0 0 -7.176" result="m"/><feComposite in="SourceGraphic" in2="m" operator="in"/></filter><filter id="s15_112" x="-5%" y="-5%" width="110%" height="110%"><feTurbulence type="fractalNoise" baseFrequency="0.22" numOctaves="3" seed="112" result="t"/><feColorMatrix in="t" type="matrix" values="0 0 0 0 0  0 0 0 0 0  0 0 0 0 0  14 0 0 0 -8.377" result="m"/><feComposite in="SourceGraphic" in2="m" operator="in"/></filter><filter id="s25_113" x="-5%" y="-5%" width="110%" height="110%"><feTurbulence type="fractalNoise" baseFrequency="0.22" numOctaves="3" seed="113" result="t"/><feColorMatrix in="t" type="matrix" values="0 0 0 0 0  0 0 0 0 0  0 0 0 0 0  14 0 0 0 -7.652" result="m"/><feComposite in="SourceGraphic" in2="m" operator="in"/></filter><filter id="s7_121" x="-5%" y="-5%" width="110%" height="110%"><feTurbulence type="fractalNoise" baseFrequency="0.22" numOctaves="3" seed="121" result="t"/><feColorMatrix in="t" type="matrix" values="0 0 0 0 0  0 0 0 0 0  0 0 0 0 0  14 0 0 0 -8.986" result="m"/><feComposite in="SourceGraphic" in2="m" operator="in"/></filter><filter id="s4_114" x="-5%" y="-5%" width="110%" height="110%"><feTurbulence type="fractalNoise" baseFrequency="0.22" numOctaves="3" seed="114" result="t"/><feColorMatrix in="t" type="matrix" values="0 0 0 0 0  0 0 0 0 0  0 0 0 0 0  14 0 0 0 -9.504" result="m"/><feComposite in="SourceGraphic" in2="m" operator="in"/></filter><filter id="s42_115" x="-5%" y="-5%" width="110%" height="110%"><feTurbulence type="fractalNoise" baseFrequency="0.22" numOctaves="3" seed="115" result="t"/><feColorMatrix in="t" type="matrix" values="0 0 0 0 0  0 0 0 0 0  0 0 0 0 0  14 0 0 0 -6.849" result="m"/><feComposite in="SourceGraphic" in2="m" operator="in"/></filter><filter id="s35_116" x="-5%" y="-5%" width="110%" height="110%"><feTurbulence type="fractalNoise" baseFrequency="0.22" numOctaves="3" seed="116" result="t"/><feColorMatrix in="t" type="matrix" values="0 0 0 0 0  0 0 0 0 0  0 0 0 0 0  14 0 0 0 -7.176" result="m"/><feComposite in="SourceGraphic" in2="m" operator="in"/></filter><filter id="s55_117" x="-5%" y="-5%" width="110%" height="110%"><feTurbulence type="fractalNoise" baseFrequency="0.22" numOctaves="3" seed="117" result="t"/><feColorMatrix in="t" type="matrix" values="0 0 0 0 0  0 0 0 0 0  0 0 0 0 0  14 0 0 0 -6.258" result="m"/><feComposite in="SourceGraphic" in2="m" operator="in"/></filter><filter id="s35_118" x="-5%" y="-5%" width="110%" height="110%"><feTurbulence type="fractalNoise" baseFrequency="0.22" numOctaves="3" seed="118" result="t"/><feColorMatrix in="t" type="matrix" values="0 0 0 0 0  0 0 0 0 0  0 0 0 0 0  14 0 0 0 -7.176" result="m"/><feComposite in="SourceGraphic" in2="m" operator="in"/></filter><filter id="s40_119" x="-5%" y="-5%" width="110%" height="110%"><feTurbulence type="fractalNoise" baseFrequency="0.22" numOctaves="3" seed="119" result="t"/><feColorMatrix in="t" type="matrix" values="0 0 0 0 0  0 0 0 0 0  0 0 0 0 0  14 0 0 0 -6.941" result="m"/><feComposite in="SourceGraphic" in2="m" operator="in"/></filter><filter id="s40_122" x="-5%" y="-5%" width="110%" height="110%"><feTurbulence type="fractalNoise" baseFrequency="0.22" numOctaves="3" seed="122" result="t"/><feColorMatrix in="t" type="matrix" values="0 0 0 0 0  0 0 0 0 0  0 0 0 0 0  14 0 0 0 -6.941" result="m"/><feComposite in="SourceGraphic" in2="m" operator="in"/></filter><filter id="s40_120" x="-5%" y="-5%" width="110%" height="110%"><feTurbulence type="fractalNoise" baseFrequency="0.22" numOctaves="3" seed="120" result="t"/><feColorMatrix in="t" type="matrix" values="0 0 0 0 0  0 0 0 0 0  0 0 0 0 0  14 0 0 0 -6.941" result="m"/><feComposite in="SourceGraphic" in2="m" operator="in"/></filter><filter id="soft" x="0" y="0" width="100%" height="100%"><feGaussianBlur stdDeviation="0.9"/></filter></defs>
<rect width="1024" height="493" fill="#fff"/>
<g transform="translate(29.50,14.30)">
<g clip-path="url(#clp)">
<g filter="url(#soft)">
<path d="M-5.0,-5.0 L160.0,-5.0 L160.0,195.0 L-5.0,195.0 Z" fill="#2e5a35"/>
<path d="M-5.0,-5.0 L160.0,-5.0 L160.0,195.0 L-5.0,195.0 Z" fill="#3a8a2a" filter="url(#s15_1)"/>
<path d="M-5.0,110.0 L40.0,100.0 L55.0,120.0 L60.0,150.0 L50.0,195.0 L-5.0,195.0 Z" fill="#3a8a2a" filter="url(#s60_2)"/>
<path d="M-5.0,110.0 L40.0,100.0 L55.0,120.0 L60.0,150.0 L50.0,195.0 L-5.0,195.0 Z" fill="#30a020" filter="url(#s55_3)"/>
<path d="M-5.0,120.0 L35.0,115.0 L50.0,130.0 L52.0,160.0 L45.0,195.0 L-5.0,195.0 Z" fill="#6ab810" filter="url(#s15_13)"/>
<path d="M110.0,-3.0 L147.0,-3.0 L147.0,52.0 L132.0,56.0 L108.0,48.0 Z" fill="#30a020" filter="url(#b30)"/>
<path d="M110.0,-3.0 L147.0,-3.0 L147.0,45.0 L132.0,50.0 L108.0,42.0 Z" fill="#6ab810" filter="url(#s30_4)"/>
<path d="M128.0,-3.0 L146.0,-3.0 L145.0,7.0 L131.0,7.0 Z" fill="#f2f6f6" filter="url(#s60_10)"/>
<path d="M128.0,-3.0 L146.0,-3.0 L145.0,9.0 L131.0,9.0 Z" fill="#98e8f5" filter="url(#s30_9)"/>
<path d="M147.0,8.0 L160.0,8.0 L160.0,38.0 L147.0,38.0 Z" fill="#ffd800" filter="url(#b14)"/>
<path d="M136.0,42.0 L160.0,42.0 L160.0,72.0 L136.0,72.0 Z" fill="#6ab810" filter="url(#b14)"/>
<path d="M48.0,150.0 L60.0,140.0 L90.0,128.0 L105.0,108.0 L112.0,85.0 L120.0,65.0 L132.0,50.0 L142.0,50.0 L142.0,100.0 L128.0,112.0 L124.0,150.0 L110.0,170.0 L80.0,175.0 L48.0,172.0 Z" fill="#98e8f5" filter="url(#s32_5)"/>
<path d="M48.0,150.0 L60.0,140.0 L90.0,128.0 L105.0,108.0 L112.0,85.0 L120.0,65.0 L132.0,50.0 L142.0,50.0 L142.0,100.0 L128.0,112.0 L124.0,150.0 L110.0,170.0 L80.0,175.0 L48.0,172.0 Z" fill="#7ba0f0" filter="url(#s7_6)"/>
<path d="M120.0,62.0 L134.0,58.0 L140.0,80.0 L130.0,100.0 L118.0,104.0 L115.0,85.0 Z" fill="#7ba0f0" filter="url(#s45_7)"/>
<ellipse cx="55.5" cy="103" rx="5.5" ry="4.5" fill="#98e8f5"/>
<path d="M128.0,91.0 L160.0,91.0 L160.0,195.0 L85.0,195.0 L95.0,182.0 L112.0,176.0 L126.0,168.0 L129.0,150.0 L131.0,130.0 L130.0,112.0 L129.0,104.0 Z" fill="#2e5a35" filter="url(#b14)"/>
<path d="M128.0,91.0 L160.0,91.0 L160.0,195.0 L85.0,195.0 L95.0,182.0 L112.0,176.0 L126.0,168.0 L129.0,150.0 L131.0,130.0 L130.0,112.0 L129.0,104.0 Z" fill="#30a020" filter="url(#s20_12)"/>
<path d="M146.0,98.0 L160.0,98.0 L160.0,195.0 L130.0,195.0 L140.0,170.0 L145.0,150.0 Z" fill="#98e8f5" filter="url(#s45_8)"/>
<path d="M85.0,195.0 L95.0,184.0 L110.0,178.0 L125.0,174.0 L135.0,166.0 L160.0,150.0 L160.0,195.0 Z" fill="#98e8f5" filter="url(#b20)"/>
<path d="M110.0,195.0 L130.0,184.0 L145.0,174.0 L160.0,165.0 L160.0,195.0 Z" fill="#7ba0f0" filter="url(#b30)"/>
<path d="M129.7,-10.0 L129.7,0.2 L129.0,7.0 L128.3,12.7 L126.1,19.8 L122.6,25.5 L118.3,31.2 L114.1,36.5 L111.5,41.0 L108.5,45.5 L103.0,53.3 L94.8,61.5 L86.7,69.5 L79.5,77.5 L72.6,84.8 L66.1,88.9 L63.0,90.2 L58.9,91.0 L55.5,90.6 L53.0,89.5 L52.4,86.8 L51.6,84.4 L50.2,86.2 L48.8,87.6" fill="none" stroke="#30a020" stroke-width="12" stroke-linejoin="round" stroke-linecap="round" filter="url(#b8)"/>
<path d="M129.7,-10.0 L129.7,0.2 L129.0,7.0 L128.3,12.7 L126.1,19.8 L122.6,25.5 L118.3,31.2 L114.1,36.5 L111.5,41.0 L108.5,45.5 L103.0,53.3 L94.8,61.5 L86.7,69.5 L79.5,77.5 L72.6,84.8 L66.1,88.9 L63.0,90.2 L58.9,91.0 L55.5,90.6 L53.0,89.5 L52.4,86.8 L51.6,84.4 L50.2,86.2 L48.8,87.6" fill="none" stroke="#b0e000" stroke-width="6.4" stroke-linejoin="round" stroke-linecap="round" filter="url(#b8)"/>
<path d="M129.7,-10.0 L129.7,0.2 L129.0,7.0 L128.3,12.7 L126.1,19.8 L122.6,25.5 L118.3,31.2 L114.1,36.5 L111.5,41.0 L108.5,45.5 L103.0,53.3 L94.8,61.5 L86.7,69.5 L79.5,77.5 L72.6,84.8 L66.1,88.9 L63.0,90.2 L58.9,91.0 L55.5,90.6 L53.0,89.5 L52.4,86.8 L51.6,84.4 L50.2,86.2 L48.8,87.6" fill="none" stroke="#ffff00" stroke-width="2.2" stroke-linejoin="round" stroke-linecap="round" filter="url(#b8)"/>
<path d="M48.8,87.6 L48.2,85.5 L47.2,83.6 L45.5,86.2 L42.5,88.6 L37.7,92.1 L33.6,95.4 L29.5,99.4 L27.1,104.0 L26.3,107.5 L23.8,112.4 L19.0,116.4 L12.5,120.5 L6.8,123.7 L5.2,127.8 L6.8,131.0 L10.8,133.4 L14.9,139.1 L18.1,146.4 L21.4,152.9 L23.8,159.4 L24.6,165.8 L24.2,171.0 L22.2,174.0 L17.3,175.6 L10.8,177.2 L4.4,178.8 L1.1,180.4 L-10.0,181.0" fill="none" stroke="#30a020" stroke-width="24" stroke-linejoin="round" stroke-linecap="round" filter="url(#b15)"/>
<path d="M48.8,87.6 L48.2,85.5 L47.2,83.6 L45.5,86.2 L42.5,88.6 L37.7,92.1 L33.6,95.4 L29.5,99.4 L27.1,104.0 L26.3,107.5 L23.8,112.4 L19.0,116.4 L12.5,120.5 L6.8,123.7 L5.2,127.8 L6.8,131.0 L10.8,133.4 L14.9,139.1 L18.1,146.4 L21.4,152.9 L23.8,159.4 L24.6,165.8 L24.2,171.0 L22.2,174.0 L17.3,175.6 L10.8,177.2 L4.4,178.8 L1.1,180.4 L-10.0,181.0" fill="none" stroke="#6ab810" stroke-width="6" stroke-linejoin="round" stroke-linecap="round" filter="url(#b8)"/>
<path d="M48.8,87.6 L48.2,85.5 L47.2,83.6 L45.5,86.2 L42.5,88.6 L37.7,92.1 L33.6,95.4 L29.5,99.4 L27.1,104.0 L26.3,107.5 L23.8,112.4 L19.0,116.4 L12.5,120.5 L6.8,123.7 L5.2,127.8 L6.8,131.0 L10.8,133.4 L14.9,139.1 L18.1,146.4 L21.4,152.9 L23.8,159.4 L24.6,165.8 L24.2,171.0 L22.2,174.0 L17.3,175.6 L10.8,177.2 L4.4,178.8 L1.1,180.4 L-10.0,181.0" fill="none" stroke="#ffff00" stroke-width="1.6" stroke-linejoin="round" stroke-linecap="round" filter="url(#b8)"/>
<ellipse cx="6" cy="127" rx="2.5" ry="4" fill="#f08000"/>
<ellipse cx="5.5" cy="127" rx="1.2" ry="2.5" fill="#f04018"/>
<path d="M144.7,-5.0 L144.7,7.0 L144.0,14.1 L143.3,17.0 L144.7,21.2 L144.0,26.9 L144.0,34.0 L144.7,39.7 L146.1,44.0 L147.5,45.4 L149.7,44.0 L151.8,43.2 L153.2,42.5 L160.0,42.5" fill="none" stroke="#6ab810" stroke-width="5.0" stroke-linejoin="round" stroke-linecap="round" filter="url(#b8)"/>
<path d="M144.7,-5.0 L144.7,7.0 L144.0,14.1 L143.3,17.0 L144.7,21.2 L144.0,26.9 L144.0,34.0 L144.7,39.7 L146.1,44.0 L147.5,45.4 L149.7,44.0 L151.8,43.2 L153.2,42.5 L160.0,42.5" fill="none" stroke="#ffff00" stroke-width="1.6" stroke-linejoin="round" stroke-linecap="round" filter="url(#b8)"/>
<path d="M160.0,14.1 L153.2,14.1 L151.1,17.0 L149.7,22.6 L149.7,28.3 L150.4,32.6 L152.5,34.7 L160.0,35.4" fill="none" stroke="#f08000" stroke-width="2" stroke-linejoin="round" stroke-linecap="round" filter="url(#b8)"/>
<path d="M160.0,68.1 L153.2,68.1 L150.4,66.7 L147.5,63.8 L144.7,59.6 L142.6,58.9 L141.0,60.2 L140.3,65.9 L138.9,73.0 L136.7,78.6 L135.3,81.5 L134.6,84.3 L131.0,85.0 L128.2,85.0 L128.9,88.6 L125.4,91.4 L123.9,95.7 L125.4,100.0 L124.6,104.2 L127.5,105.6" fill="none" stroke="#30a020" stroke-width="4" stroke-linejoin="round" stroke-linecap="round" filter="url(#b8)"/>
<path d="M138.1,112.5 L136.0,111.3 L134.6,108.5 L128.9,109.2 L127.7,110.3 L125.2,116.8 L124.4,123.3 L124.4,128.2 L121.9,134.7 L119.5,141.2 L115.4,146.1 L109.7,147.7 L103.2,149.3 L98.4,150.9 L97.2,150.0 L95.6,149.8 L95.0,151.6 L95.9,153.4 L94.3,157.4 L90.2,160.7 L87.0,165.6 L83.7,168.8 L78.5,168.5 L72.9,169.1 L64.0,170.2 L56.2,170.8 L50.6,175.8 L43.9,181.4 L37.2,186.4 L36.0,192.0" fill="none" stroke="#6ab810" stroke-width="3.0" stroke-linejoin="round" stroke-linecap="round" filter="url(#b8)"/>
<path d="M138.1,112.5 L136.0,111.3 L134.6,108.5 L128.9,109.2 L127.7,110.3 L125.2,116.8 L124.4,123.3 L124.4,128.2 L121.9,134.7 L119.5,141.2 L115.4,146.1 L109.7,147.7 L103.2,149.3 L98.4,150.9 L97.2,150.0 L95.6,149.8 L95.0,151.6 L95.9,153.4 L94.3,157.4 L90.2,160.7 L87.0,165.6 L83.7,168.8 L78.5,168.5 L72.9,169.1 L64.0,170.2 L56.2,170.8 L50.6,175.8 L43.9,181.4 L37.2,186.4 L36.0,192.0" fill="none" stroke="#ffff00" stroke-width="1.4" stroke-linejoin="round" stroke-linecap="round" filter="url(#b8)"/>
<path d="M138.1,112.5 L142.2,113.6 L143.0,120.1 L143.2,128.0 L143.0,136.3 L142.2,139.5 L137.3,142.8 L134.9,144.4 L133.3,149.3 L132.5,157.4 L130.9,163.9 L131.8,167.1 L130.5,169.8 L128.7,172.5 L126.0,175.1 L123.3,174.2 L122.4,172.5 L120.6,174.2 L118.0,174.2 L116.2,176.0 L114.4,179.6 L112.6,176.0 L109.9,176.9 L106.4,179.6 L102.8,179.6 L100.1,181.4 L96.6,182.3 L93.9,183.2 L91.2,185.0 L88.5,186.8 L88.0,192.0" fill="none" stroke="#30a020" stroke-width="6" stroke-linejoin="round" stroke-linecap="round" filter="url(#b8)"/>
<path d="M138.1,112.5 L142.2,113.6 L143.0,120.1 L143.2,128.0 L143.0,136.3 L142.2,139.5 L137.3,142.8 L134.9,144.4 L133.3,149.3 L132.5,157.4 L130.9,163.9 L131.8,167.1 L130.5,169.8 L128.7,172.5 L126.0,175.1 L123.3,174.2 L122.4,172.5 L120.6,174.2 L118.0,174.2 L116.2,176.0 L114.4,179.6 L112.6,176.0 L109.9,176.9 L106.4,179.6 L102.8,179.6 L100.1,181.4 L96.6,182.3 L93.9,183.2 L91.2,185.0 L88.5,186.8 L88.0,192.0" fill="none" stroke="#ffff00" stroke-width="2.4" stroke-linejoin="round" stroke-linecap="round" filter="url(#b8)"/>
<path d="M-5.0,177.0 L10.0,176.0 L22.0,174.0 L28.0,180.0 L26.0,195.0 L-5.0,195.0 Z" fill="#ffff00" filter="url(#b14)"/>
<path d="M44,89.5 L47.2,83 L49,88.5 L51.6,83.8 L53.8,90.5 L48,91.5 Z" fill="#ffe000"/>
<path d="M46.5,86 L47.2,83 L48.2,86 Z M51,86 L51.6,83.8 L52.5,86.5 Z" fill="#f08000"/>
</g>
<path d="M-10.0,-10.0 L129.7,-10.0 L129.7,0.2 L129.0,7.0 L128.3,12.7 L126.1,19.8 L122.6,25.5 L118.3,31.2 L114.1,36.5 L111.5,41.0 L108.5,45.5 L103.0,53.3 L94.8,61.5 L86.7,69.5 L79.5,77.5 L72.6,84.8 L66.1,88.9 L63.0,90.2 L58.9,91.0 L55.5,90.6 L53.0,89.5 L52.4,86.8 L51.6,84.4 L50.2,86.2 L48.8,87.6 L48.2,85.5 L47.2,83.6 L45.5,86.2 L42.5,88.6 L37.7,92.1 L33.6,95.4 L29.5,99.4 L27.1,104.0 L26.3,107.5 L23.8,112.4 L19.0,116.4 L12.5,120.5 L6.8,123.7 L5.2,127.8 L6.8,131.0 L10.8,133.4 L14.9,139.1 L18.1,146.4 L21.4,152.9 L23.8,159.4 L24.6,165.8 L24.2,171.0 L22.2,174.0 L17.3,175.6 L10.8,177.2 L4.4,178.8 L1.1,180.4 L-10.0,181.0 Z M144.7,-10.0 L164.0,-10.0 L164.0,14.1 L153.2,14.1 L151.1,17.0 L149.7,22.6 L149.7,28.3 L150.4,32.6 L152.5,34.7 L164.0,35.4 L164.0,42.5 L153.2,42.5 L151.8,43.2 L149.7,44.0 L147.5,45.4 L146.1,44.0 L144.7,39.7 L144.0,34.0 L144.0,26.9 L144.7,21.2 L143.3,17.0 L144.0,14.1 L144.7,7.0 Z M141.0,60.2 L142.6,58.9 L144.7,59.6 L147.5,63.8 L150.4,66.7 L153.2,68.1 L164.0,68.1 L164.0,98.5 L153.0,98.5 L148.8,95.7 L143.1,92.9 L137.4,92.1 L131.8,92.1 L128.9,93.6 L130.3,95.7 L133.2,97.1 L134.6,100.0 L132.5,101.4 L130.3,104.2 L127.5,105.6 L124.6,104.2 L125.4,100.0 L123.9,95.7 L125.4,91.4 L128.9,88.6 L128.2,85.0 L131.0,85.0 L134.6,84.3 L135.3,81.5 L136.7,78.6 L138.9,73.0 L140.3,65.9 Z M127.7,110.3 L128.9,109.2 L134.6,108.5 L136.0,111.3 L138.1,112.5 L142.2,113.6 L143.0,120.1 L143.2,128.0 L143.0,136.3 L142.2,139.5 L137.3,142.8 L134.9,144.4 L133.3,149.3 L132.5,157.4 L130.9,163.9 L131.8,167.1 L130.5,169.8 L128.7,172.5 L126.0,175.1 L123.3,174.2 L122.4,172.5 L120.6,174.2 L118.0,174.2 L116.2,176.0 L114.4,179.6 L112.6,176.0 L109.9,176.9 L106.4,179.6 L102.8,179.6 L100.1,181.4 L96.6,182.3 L93.9,183.2 L91.2,185.0 L88.5,186.8 L88.0,197.0 L36.0,197.0 L37.2,186.4 L43.9,181.4 L50.6,175.8 L56.2,170.8 L64.0,170.2 L72.9,169.1 L78.5,168.5 L83.7,168.8 L87.0,165.6 L90.2,160.7 L94.3,157.4 L95.9,153.4 L95.0,151.6 L95.6,149.8 L97.2,150.0 L98.4,150.9 L103.2,149.3 L109.7,147.7 L115.4,146.1 L119.5,141.2 L121.9,134.7 L124.4,128.2 L124.4,123.3 L125.2,116.8 Z" fill="#dcdcdc" stroke="#444" stroke-width="0.5"/>
<ellipse cx="52.5" cy="186" rx="2.6" ry="1.6" fill="#ffd800" stroke="#3a2a20" stroke-width="0.45"/>
<ellipse cx="57.5" cy="185" rx="2" ry="1.4" fill="#f0a800" stroke="#3a2a20" stroke-width="0.45"/>
<ellipse cx="62.5" cy="184.3" rx="2.4" ry="1.7" fill="#ffe000" stroke="#3a2a20" stroke-width="0.45"/>
<ellipse cx="68" cy="183" rx="2.6" ry="2" fill="#f0a800" stroke="#3a2a20" stroke-width="0.45"/>
<ellipse cx="73" cy="181.8" rx="2.4" ry="1.9" fill="#ffd800" stroke="#3a2a20" stroke-width="0.45"/>
<ellipse cx="78" cy="181.3" rx="2.2" ry="1.7" fill="#f08000" stroke="#3a2a20" stroke-width="0.45"/>
<ellipse cx="76.5" cy="185.6" rx="1.8" ry="1.4" fill="#ffff00" stroke="#3a2a20" stroke-width="0.45"/>
<path d="M93,177.8 L95.5,177.2 L97.8,178.8 L98.2,181.2 L95.8,181.8 L93.6,181 Z" fill="#f08000" stroke="#3a2a20" stroke-width="0.4"/>
<ellipse cx="95.8" cy="179.6" rx="1.1" ry="0.9" fill="#652d88"/>
<path d="M121.6,170.4 L123.8,169.6 L124.8,172 L123.4,174 L122,173.2 Z" fill="#f04018" stroke="#3a2a20" stroke-width="0.4"/>
<path d="M50,59.8 C52,58.2 56,58.4 57.2,60.8 C58.2,63 56.2,64.8 55.8,66.6 C55.3,68.6 53.2,69.8 51.6,68.8 C50.4,67.8 51.6,65.6 50,64.6 C48.4,63.4 48.4,61 50,59.8 Z" fill="#dcdcdc" stroke="#222" stroke-width="0.75"/>
<ellipse cx="109.6" cy="143.7" rx="1.8" ry="2.6" fill="#dcdcdc" stroke="#333" stroke-width="0.5"/>
<circle cx="59.5" cy="164" r="1.2" fill="#333"/>
<ellipse cx="22.6" cy="182.5" rx="1.3" ry="2" fill="#cfcfcf" stroke="#333" stroke-width="0.5"/>
<circle cx="1.5" cy="181.5" r="1.2" fill="#5a3a2a"/>
<circle cx="4.5" cy="179.8" r="0.9" fill="#c04020"/>
<circle cx="7" cy="179.5" r="1.3" fill="#4a3a30"/>
<circle cx="10.5" cy="178.2" r="0.8" fill="#7a4a3a"/>
<circle cx="12.5" cy="178.8" r="1.1" fill="#4a3a30"/>
<circle cx="15.8" cy="177.4" r="1.2" fill="#5a4a40"/>
<circle cx="18.6" cy="177" r="0.8" fill="#c05030"/>
<circle cx="3" cy="183" r="0.8" fill="#4a3a30"/>
<path d="M18.5,79 L20.5,76.5" stroke="#222" stroke-width="1"/>
<path d="M1.5,82.5 L3,81" stroke="#222" stroke-width="0.8"/>
<circle cx="133.5" cy="116.8" r="0.65" fill="#555"/>
<circle cx="130.9" cy="125.7" r="0.65" fill="#555"/>
<circle cx="125.2" cy="150" r="0.65" fill="#555"/>
<circle cx="119.5" cy="158.1" r="0.65" fill="#555"/>
<circle cx="106.5" cy="165.5" r="0.65" fill="#555"/>
<circle cx="140.5" cy="77" r="0.65" fill="#555"/>
<circle cx="146" cy="82" r="0.65" fill="#555"/>
<circle cx="50.6" cy="30.2" r="0.55" fill="#444"/>
<circle cx="55.5" cy="27.8" r="0.55" fill="#444"/>
<circle cx="60.4" cy="25.3" r="0.55" fill="#444"/>
<circle cx="64" cy="23.8" r="0.55" fill="#444"/>
<circle cx="68.2" cy="22.4" r="0.55" fill="#444"/>
<circle cx="77.9" cy="18.5" r="0.55" fill="#444"/>
<circle cx="81.8" cy="19.5" r="0.55" fill="#444"/>
<circle cx="86.7" cy="16.6" r="0.55" fill="#444"/>
<circle cx="89" cy="15" r="0.55" fill="#444"/>
<circle cx="91.5" cy="13.6" r="0.55" fill="#444"/>
<circle cx="95.4" cy="5.8" r="0.55" fill="#444"/>
<circle cx="97.4" cy="3.9" r="0.55" fill="#444"/>
</g>
<rect x="0.5" y="0.5" width="153.2" height="186.5" fill="none" stroke="#8a8a8a" stroke-width="1.2"/>
<path d="M10.2,0.5 H29.8 M10.2,187.0 H29.8" stroke="#222" stroke-width="1.3"/>
<path d="M48.5,0.5 H68 M48.5,187.0 H68" stroke="#222" stroke-width="1.3"/>
<path d="M86.8,0.5 H106.3 M86.8,187.0 H106.3" stroke="#222" stroke-width="1.3"/>
<path d="M125.1,0.5 H145.4 M125.1,187.0 H145.4" stroke="#222" stroke-width="1.3"/>
<path d="M0.5,0 V26.7 M153.7,0 V26.7" stroke="#222" stroke-width="1.3"/>
<path d="M0.5,52.2 V75.7 M153.7,52.2 V75.7" stroke="#222" stroke-width="1.3"/>
<path d="M0.5,99.2 V121.7 M153.7,99.2 V121.7" stroke="#222" stroke-width="1.3"/>
<path d="M0.5,144.7 V167.7 M153.7,144.7 V167.7" stroke="#222" stroke-width="1.3"/>
<text transform="translate(9.0,20.4) scale(1.078,1)" class="ttl">Jan</text>
<text x="30.2" y="201.5" class="lon">130E</text>
<text x="68.2" y="201.5" class="lon">134E</text>
<text x="106.2" y="201.5" class="lon">138E</text>
<text x="144.2" y="201.5" class="lon">142E</text>
</g><g transform="translate(192.50,14.30)">
<g clip-path="url(#clp)">
<g filter="url(#soft)">
<path d="M-5.0,-5.0 L160.0,-5.0 L160.0,195.0 L-5.0,195.0 Z" fill="#3a8a2a"/>
<path d="M-5.0,-5.0 L160.0,-5.0 L160.0,195.0 L-5.0,195.0 Z" fill="#30a020" filter="url(#s50_11)"/>
<path d="M-5.0,-5.0 L160.0,-5.0 L160.0,195.0 L-5.0,195.0 Z" fill="#6ab810" filter="url(#s22_12)"/>
<path d="M32.0,98.0 L55.0,88.0 L75.0,80.0 L95.0,65.0 L110.0,45.0 L125.0,35.0 L140.0,30.0 L146.0,30.0 L146.0,60.0 L135.0,95.0 L125.0,122.0 L90.0,128.0 L50.0,126.0 L30.0,115.0 Z" fill="#2e5a35" filter="url(#b20)"/>
<path d="M60.0,70.0 L100.0,50.0 L120.0,35.0 L135.0,30.0 L120.0,60.0 L90.0,85.0 L60.0,90.0 Z" fill="#3a8a2a" filter="url(#s30_18)"/>
<path d="M43.0,100.0 L48.0,95.0 L60.0,92.0 L75.0,91.0 L88.0,88.0 L98.0,80.0 L104.0,70.0 L110.0,60.0 L118.0,52.0 L128.0,48.0 L136.0,50.0 L136.0,60.0 L132.0,70.0 L128.0,82.0 L124.0,95.0 L115.0,102.0 L104.0,106.0 L96.0,111.0 L80.0,113.0 L60.0,113.0 L48.0,108.0 Z" fill="#98e8f5" filter="url(#s90_13)"/>
<path d="M110.0,62.0 L134.0,50.0 L134.0,68.0 L125.0,95.0 L110.0,100.0 Z" fill="#2e5a35" filter="url(#s30_19)"/>
<path d="M124.0,-3.0 L147.0,-3.0 L147.0,40.0 L140.0,38.0 L128.0,32.0 L115.0,36.0 Z" fill="#3a8a2a" filter="url(#b10)"/>
<path d="M124.0,-3.0 L147.0,-3.0 L147.0,40.0 L140.0,38.0 L128.0,32.0 L115.0,36.0 Z" fill="#30a020" filter="url(#s40_14)"/>
<path d="M129.0,-3.0 L141.0,-3.0 L140.0,14.0 L131.0,14.0 Z" fill="#f2f6f6" filter="url(#b14)"/>
<path d="M129.0,-3.0 L141.0,-3.0 L140.0,16.0 L131.0,16.0 Z" fill="#98e8f5" filter="url(#s40_20)"/>
<path d="M147.0,8.0 L160.0,8.0 L160.0,38.0 L147.0,38.0 Z" fill="#ffd800" filter="url(#b14)"/>
<path d="M136.0,42.0 L160.0,42.0 L160.0,72.0 L136.0,72.0 Z" fill="#6ab810" filter="url(#b14)"/>
<path d="M128.0,91.0 L160.0,91.0 L160.0,195.0 L85.0,195.0 L95.0,182.0 L112.0,176.0 L126.0,168.0 L129.0,150.0 L131.0,130.0 L130.0,112.0 L129.0,104.0 Z" fill="#2e5a35" filter="url(#b14)"/>
<path d="M128.0,91.0 L160.0,91.0 L160.0,195.0 L85.0,195.0 L95.0,182.0 L112.0,176.0 L126.0,168.0 L129.0,150.0 L131.0,130.0 L130.0,112.0 L129.0,104.0 Z" fill="#3a8a2a" filter="url(#s30_15)"/>
<path d="M85.0,195.0 L95.0,184.0 L110.0,178.0 L125.0,174.0 L135.0,166.0 L160.0,150.0 L160.0,195.0 Z" fill="#98e8f5" filter="url(#s60_16)"/>
<path d="M110.0,195.0 L130.0,184.0 L145.0,174.0 L160.0,165.0 L160.0,195.0 Z" fill="#7ba0f0" filter="url(#b14)"/>
<path d="M129.7,-10.0 L129.7,0.2 L129.0,7.0 L128.3,12.7 L126.1,19.8 L122.6,25.5 L118.3,31.2 L114.1,36.5 L111.5,41.0 L108.5,45.5 L103.0,53.3 L94.8,61.5 L86.7,69.5 L79.5,77.5 L72.6,84.8 L66.1,88.9 L63.0,90.2 L58.9,91.0 L55.5,90.6 L53.0,89.5 L52.4,86.8 L51.6,84.4 L50.2,86.2 L48.8,87.6" fill="none" stroke="#30a020" stroke-width="12" stroke-linejoin="round" stroke-linecap="round" filter="url(#b8)"/>
<path d="M129.7,-10.0 L129.7,0.2 L129.0,7.0 L128.3,12.7 L126.1,19.8 L122.6,25.5 L118.3,31.2 L114.1,36.5 L111.5,41.0 L108.5,45.5 L103.0,53.3 L94.8,61.5 L86.7,69.5 L79.5,77.5 L72.6,84.8 L66.1,88.9 L63.0,90.2 L58.9,91.0 L55.5,90.6 L53.0,89.5 L52.4,86.8 L51.6,84.4 L50.2,86.2 L48.8,87.6" fill="none" stroke="#6ab810" stroke-width="6" stroke-linejoin="round" stroke-linecap="round" filter="url(#b8)"/>
<path d="M129.7,-10.0 L129.7,0.2 L129.0,7.0 L128.3,12.7 L126.1,19.8 L122.6,25.5 L118.3,31.2 L114.1,36.5 L111.5,41.0 L108.5,45.5 L103.0,53.3 L94.8,61.5 L86.7,69.5 L79.5,77.5 L72.6,84.8 L66.1,88.9 L63.0,90.2 L58.9,91.0 L55.5,90.6 L53.0,89.5 L52.4,86.8 L51.6,84.4 L50.2,86.2 L48.8,87.6" fill="none" stroke="#ffff00" stroke-width="2" stroke-linejoin="round" stroke-linecap="round" filter="url(#b8)"/>
<path d="M48.8,87.6 L48.2,85.5 L47.2,83.6 L45.5,86.2 L42.5,88.6 L37.7,92.1 L33.6,95.4 L29.5,99.4 L27.1,104.0 L26.3,107.5 L23.8,112.4 L19.0,116.4 L12.5,120.5 L6.8,123.7 L5.2,127.8 L6.8,131.0 L10.8,133.4 L14.9,139.1 L18.1,146.4 L21.4,152.9 L23.8,159.4 L24.6,165.8 L24.2,171.0 L22.2,174.0 L17.3,175.6 L10.8,177.2 L4.4,178.8 L1.1,180.4 L-10.0,181.0" fill="none" stroke="#30a020" stroke-width="20" stroke-linejoin="round" stroke-linecap="round" filter="url(#b8)"/>
<path d="M48.8,87.6 L48.2,85.5 L47.2,83.6 L45.5,86.2 L42.5,88.6 L37.7,92.1 L33.6,95.4 L29.5,99.4 L27.1,104.0 L26.3,107.5 L23.8,112.4 L19.0,116.4 L12.5,120.5 L6.8,123.7 L5.2,127.8 L6.8,131.0 L10.8,133.4 L14.9,139.1 L18.1,146.4 L21.4,152.9 L23.8,159.4 L24.6,165.8 L24.2,171.0 L22.2,174.0 L17.3,175.6 L10.8,177.2 L4.4,178.8 L1.1,180.4 L-10.0,181.0" fill="none" stroke="#6ab810" stroke-width="7.0" stroke-linejoin="round" stroke-linecap="round" filter="url(#b8)"/>
<path d="M48.8,87.6 L48.2,85.5 L47.2,83.6 L45.5,86.2 L42.5,88.6 L37.7,92.1 L33.6,95.4 L29.5,99.4 L27.1,104.0 L26.3,107.5 L23.8,112.4 L19.0,116.4 L12.5,120.5 L6.8,123.7 L5.2,127.8 L6.8,131.0 L10.8,133.4 L14.9,139.1 L18.1,146.4 L21.4,152.9 L23.8,159.4 L24.6,165.8 L24.2,171.0 L22.2,174.0 L17.3,175.6 L10.8,177.2 L4.4,178.8 L1.1,180.4 L-10.0,181.0" fill="none" stroke="#ffff00" stroke-width="2.4" stroke-linejoin="round" stroke-linecap="round" filter="url(#b8)"/>
<ellipse cx="6" cy="127" rx="3" ry="5" fill="#f08000"/>
<ellipse cx="5.5" cy="127" rx="1.5" ry="3" fill="#f04018"/>
<path d="M144.7,-5.0 L144.7,7.0 L144.0,14.1 L143.3,17.0 L144.7,21.2 L144.0,26.9 L144.0,34.0 L144.7,39.7 L146.1,44.0 L147.5,45.4 L149.7,44.0 L151.8,43.2 L153.2,42.5 L160.0,42.5" fill="none" stroke="#6ab810" stroke-width="6" stroke-linejoin="round" stroke-linecap="round" filter="url(#b8)"/>
<path d="M144.7,-5.0 L144.7,7.0 L144.0,14.1 L143.3,17.0 L144.7,21.2 L144.0,26.9 L144.0,34.0 L144.7,39.7 L146.1,44.0 L147.5,45.4 L149.7,44.0 L151.8,43.2 L153.2,42.5 L160.0,42.5" fill="none" stroke="#ffff00" stroke-width="2" stroke-linejoin="round" stroke-linecap="round" filter="url(#b8)"/>
<path d="M160.0,14.1 L153.2,14.1 L151.1,17.0 L149.7,22.6 L149.7,28.3 L150.4,32.6 L152.5,34.7 L160.0,35.4" fill="none" stroke="#f08000" stroke-width="2" stroke-linejoin="round" stroke-linecap="round" filter="url(#b8)"/>
<path d="M138.1,112.5 L136.0,111.3 L134.6,108.5 L128.9,109.2 L127.7,110.3 L125.2,116.8 L124.4,123.3 L124.4,128.2 L121.9,134.7 L119.5,141.2 L115.4,146.1 L109.7,147.7 L103.2,149.3 L98.4,150.9 L97.2,150.0 L95.6,149.8 L95.0,151.6 L95.9,153.4 L94.3,157.4 L90.2,160.7 L87.0,165.6 L83.7,168.8 L78.5,168.5 L72.9,169.1 L64.0,170.2 L56.2,170.8 L50.6,175.8 L43.9,181.4 L37.2,186.4 L36.0,192.0" fill="none" stroke="#6ab810" stroke-width="6" stroke-linejoin="round" stroke-linecap="round" filter="url(#b8)"/>
<path d="M138.1,112.5 L136.0,111.3 L134.6,108.5 L128.9,109.2 L127.7,110.3 L125.2,116.8 L124.4,123.3 L124.4,128.2 L121.9,134.7 L119.5,141.2 L115.4,146.1 L109.7,147.7 L103.2,149.3 L98.4,150.9 L97.2,150.0 L95.6,149.8 L95.0,151.6 L95.9,153.4 L94.3,157.4 L90.2,160.7 L87.0,165.6 L83.7,168.8 L78.5,168.5 L72.9,169.1 L64.0,170.2 L56.2,170.8 L50.6,175.8 L43.9,181.4 L37.2,186.4 L36.0,192.0" fill="none" stroke="#ffff00" stroke-width="3.0" stroke-linejoin="round" stroke-linecap="round" filter="url(#b8)"/>
<path d="M138.1,112.5 L142.2,113.6 L143.0,120.1 L143.2,128.0 L143.0,136.3 L142.2,139.5 L137.3,142.8 L134.9,144.4 L133.3,149.3 L132.5,157.4 L130.9,163.9 L131.8,167.1 L130.5,169.8 L128.7,172.5 L126.0,175.1 L123.3,174.2 L122.4,172.5 L120.6,174.2 L118.0,174.2 L116.2,176.0 L114.4,179.6 L112.6,176.0 L109.9,176.9 L106.4,179.6 L102.8,179.6 L100.1,181.4 L96.6,182.3 L93.9,183.2 L91.2,185.0 L88.5,186.8 L88.0,192.0" fill="none" stroke="#ffff00" stroke-width="4" stroke-linejoin="round" stroke-linecap="round" filter="url(#b8)"/>
<path d="M138.1,112.5 L142.2,113.6 L143.0,120.1 L143.2,128.0 L143.0,136.3 L142.2,139.5 L137.3,142.8 L134.9,144.4 L133.3,149.3 L132.5,157.4 L130.9,163.9 L131.8,167.1 L130.5,169.8 L128.7,172.5 L126.0,175.1 L123.3,174.2 L122.4,172.5 L120.6,174.2 L118.0,174.2 L116.2,176.0 L114.4,179.6 L112.6,176.0 L109.9,176.9 L106.4,179.6 L102.8,179.6 L100.1,181.4 L96.6,182.3 L93.9,183.2 L91.2,185.0 L88.5,186.8 L88.0,192.0" fill="none" stroke="#ffd800" stroke-width="2" stroke-linejoin="round" stroke-linecap="round" filter="url(#b8)"/>
<path d="M-5.0,177.0 L10.0,176.0 L22.0,174.0 L28.0,180.0 L26.0,195.0 L-5.0,195.0 Z" fill="#ffff00" filter="url(#b14)"/>
<path d="M44,89.5 L47.2,83 L49,88.5 L51.6,83.8 L53.8,90.5 L48,91.5 Z" fill="#ffe000"/>
<path d="M46.5,86 L47.2,83 L48.2,86 Z M51,86 L51.6,83.8 L52.5,86.5 Z" fill="#f08000"/>
</g>
<path d="M-10.0,-10.0 L129.7,-10.0 L129.7,0.2 L129.0,7.0 L128.3,12.7 L126.1,19.8 L122.6,25.5 L118.3,31.2 L114.1,36.5 L111.5,41.0 L108.5,45.5 L103.0,53.3 L94.8,61.5 L86.7,69.5 L79.5,77.5 L72.6,84.8 L66.1,88.9 L63.0,90.2 L58.9,91.0 L55.5,90.6 L53.0,89.5 L52.4,86.8 L51.6,84.4 L50.2,86.2 L48.8,87.6 L48.2,85.5 L47.2,83.6 L45.5,86.2 L42.5,88.6 L37.7,92.1 L33.6,95.4 L29.5,99.4 L27.1,104.0 L26.3,107.5 L23.8,112.4 L19.0,116.4 L12.5,120.5 L6.8,123.7 L5.2,127.8 L6.8,131.0 L10.8,133.4 L14.9,139.1 L18.1,146.4 L21.4,152.9 L23.8,159.4 L24.6,165.8 L24.2,171.0 L22.2,174.0 L17.3,175.6 L10.8,177.2 L4.4,178.8 L1.1,180.4 L-10.0,181.0 Z M144.7,-10.0 L164.0,-10.0 L164.0,14.1 L153.2,14.1 L151.1,17.0 L149.7,22.6 L149.7,28.3 L150.4,32.6 L152.5,34.7 L164.0,35.4 L164.0,42.5 L153.2,42.5 L151.8,43.2 L149.7,44.0 L147.5,45.4 L146.1,44.0 L144.7,39.7 L144.0,34.0 L144.0,26.9 L144.7,21.2 L143.3,17.0 L144.0,14.1 L144.7,7.0 Z M141.0,60.2 L142.6,58.9 L144.7,59.6 L147.5,63.8 L150.4,66.7 L153.2,68.1 L164.0,68.1 L164.0,98.5 L153.0,98.5 L148.8,95.7 L143.1,92.9 L137.4,92.1 L131.8,92.1 L128.9,93.6 L130.3,95.7 L133.2,97.1 L134.6,100.0 L132.5,101.4 L130.3,104.2 L127.5,105.6 L124.6,104.2 L125.4,100.0 L123.9,95.7 L125.4,91.4 L128.9,88.6 L128.2,85.0 L131.0,85.0 L134.6,84.3 L135.3,81.5 L136.7,78.6 L138.9,73.0 L140.3,65.9 Z M127.7,110.3 L128.9,109.2 L134.6,108.5 L136.0,111.3 L138.1,112.5 L142.2,113.6 L143.0,120.1 L143.2,128.0 L143.0,136.3 L142.2,139.5 L137.3,142.8 L134.9,144.4 L133.3,149.3 L132.5,157.4 L130.9,163.9 L131.8,167.1 L130.5,169.8 L128.7,172.5 L126.0,175.1 L123.3,174.2 L122.4,172.5 L120.6,174.2 L118.0,174.2 L116.2,176.0 L114.4,179.6 L112.6,176.0 L109.9,176.9 L106.4,179.6 L102.8,179.6 L100.1,181.4 L96.6,182.3 L93.9,183.2 L91.2,185.0 L88.5,186.8 L88.0,197.0 L36.0,197.0 L37.2,186.4 L43.9,181.4 L50.6,175.8 L56.2,170.8 L64.0,170.2 L72.9,169.1 L78.5,168.5 L83.7,168.8 L87.0,165.6 L90.2,160.7 L94.3,157.4 L95.9,153.4 L95.0,151.6 L95.6,149.8 L97.2,150.0 L98.4,150.9 L103.2,149.3 L109.7,147.7 L115.4,146.1 L119.5,141.2 L121.9,134.7 L124.4,128.2 L124.4,123.3 L125.2,116.8 Z" fill="#dcdcdc" stroke="#444" stroke-width="0.5"/>
<ellipse cx="52.5" cy="186" rx="2.6" ry="1.6" fill="#ffd800" stroke="#3a2a20" stroke-width="0.45"/>
<ellipse cx="57.5" cy="185" rx="2" ry="1.4" fill="#f0a800" stroke="#3a2a20" stroke-width="0.45"/>
<ellipse cx="62.5" cy="184.3" rx="2.4" ry="1.7" fill="#ffe000" stroke="#3a2a20" stroke-width="0.45"/>
<ellipse cx="68" cy="183" rx="2.6" ry="2" fill="#f0a800" stroke="#3a2a20" stroke-width="0.45"/>
<ellipse cx="73" cy="181.8" rx="2.4" ry="1.9" fill="#ffd800" stroke="#3a2a20" stroke-width="0.45"/>
<ellipse cx="78" cy="181.3" rx="2.2" ry="1.7" fill="#f08000" stroke="#3a2a20" stroke-width="0.45"/>
<ellipse cx="76.5" cy="185.6" rx="1.8" ry="1.4" fill="#ffff00" stroke="#3a2a20" stroke-width="0.45"/>
<path d="M93,177.8 L95.5,177.2 L97.8,178.8 L98.2,181.2 L95.8,181.8 L93.6,181 Z" fill="#f08000" stroke="#3a2a20" stroke-width="0.4"/>
<ellipse cx="95.8" cy="179.6" rx="1.1" ry="0.9" fill="#652d88"/>
<path d="M121.6,170.4 L123.8,169.6 L124.8,172 L123.4,174 L122,173.2 Z" fill="#f04018" stroke="#3a2a20" stroke-width="0.4"/>
<path d="M50,59.8 C52,58.2 56,58.4 57.2,60.8 C58.2,63 56.2,64.8 55.8,66.6 C55.3,68.6 53.2,69.8 51.6,68.8 C50.4,67.8 51.6,65.6 50,64.6 C48.4,63.4 48.4,61 50,59.8 Z" fill="#dcdcdc" stroke="#222" stroke-width="0.75"/>
<ellipse cx="109.6" cy="143.7" rx="1.8" ry="2.6" fill="#dcdcdc" stroke="#333" stroke-width="0.5"/>
<circle cx="59.5" cy="164" r="1.2" fill="#333"/>
<ellipse cx="22.6" cy="182.5" rx="1.3" ry="2" fill="#cfcfcf" stroke="#333" stroke-width="0.5"/>
<circle cx="1.5" cy="181.5" r="1.2" fill="#5a3a2a"/>
<circle cx="4.5" cy="179.8" r="0.9" fill="#c04020"/>
<circle cx="7" cy="179.5" r="1.3" fill="#4a3a30"/>
<circle cx="10.5" cy="178.2" r="0.8" fill="#7a4a3a"/>
<circle cx="12.5" cy="178.8" r="1.1" fill="#4a3a30"/>
<circle cx="15.8" cy="177.4" r="1.2" fill="#5a4a40"/>
<circle cx="18.6" cy="177" r="0.8" fill="#c05030"/>
<circle cx="3" cy="183" r="0.8" fill="#4a3a30"/>
<path d="M18.5,79 L20.5,76.5" stroke="#222" stroke-width="1"/>
<path d="M1.5,82.5 L3,81" stroke="#222" stroke-width="0.8"/>
<circle cx="133.5" cy="116.8" r="0.65" fill="#555"/>
<circle cx="130.9" cy="125.7" r="0.65" fill="#555"/>
<circle cx="125.2" cy="150" r="0.65" fill="#555"/>
<circle cx="119.5" cy="158.1" r="0.65" fill="#555"/>
<circle cx="106.5" cy="165.5" r="0.65" fill="#555"/>
<circle cx="140.5" cy="77" r="0.65" fill="#555"/>
<circle cx="146" cy="82" r="0.65" fill="#555"/>
<circle cx="50.6" cy="30.2" r="0.55" fill="#444"/>
<circle cx="55.5" cy="27.8" r="0.55" fill="#444"/>
<circle cx="60.4" cy="25.3" r="0.55" fill="#444"/>
<circle cx="64" cy="23.8" r="0.55" fill="#444"/>
<circle cx="68.2" cy="22.4" r="0.55" fill="#444"/>
<circle cx="77.9" cy="18.5" r="0.55" fill="#444"/>
<circle cx="81.8" cy="19.5" r="0.55" fill="#444"/>
<circle cx="86.7" cy="16.6" r="0.55" fill="#444"/>
<circle cx="89" cy="15" r="0.55" fill="#444"/>
<circle cx="91.5" cy="13.6" r="0.55" fill="#444"/>
<circle cx="95.4" cy="5.8" r="0.55" fill="#444"/>
<circle cx="97.4" cy="3.9" r="0.55" fill="#444"/>
</g>
<rect x="0.5" y="0.5" width="153.2" height="186.5" fill="none" stroke="#8a8a8a" stroke-width="1.2"/>
<path d="M10.2,0.5 H29.8 M10.2,187.0 H29.8" stroke="#222" stroke-width="1.3"/>
<path d="M48.5,0.5 H68 M48.5,187.0 H68" stroke="#222" stroke-width="1.3"/>
<path d="M86.8,0.5 H106.3 M86.8,187.0 H106.3" stroke="#222" stroke-width="1.3"/>
<path d="M125.1,0.5 H145.4 M125.1,187.0 H145.4" stroke="#222" stroke-width="1.3"/>
<path d="M0.5,0 V26.7 M153.7,0 V26.7" stroke="#222" stroke-width="1.3"/>
<path d="M0.5,52.2 V75.7 M153.7,52.2 V75.7" stroke="#222" stroke-width="1.3"/>
<path d="M0.5,99.2 V121.7 M153.7,99.2 V121.7" stroke="#222" stroke-width="1.3"/>
<path d="M0.5,144.7 V167.7 M153.7,144.7 V167.7" stroke="#222" stroke-width="1.3"/>
<text transform="translate(9.0,20.4) scale(1.078,1)" class="ttl">Feb</text>
<text x="30.2" y="201.5" class="lon">130E</text>
<text x="68.2" y="201.5" class="lon">134E</text>
<text x="106.2" y="201.5" class="lon">138E</text>
<text x="144.2" y="201.5" class="lon">142E</text>
</g><g transform="translate(355.50,14.30)">
<g clip-path="url(#clp)">
<g filter="url(#soft)">
<path d="M-5.0,-5.0 L160.0,-5.0 L160.0,195.0 L-5.0,195.0 Z" fill="#30a020"/>
<path d="M-5.0,-5.0 L160.0,-5.0 L160.0,195.0 L-5.0,195.0 Z" fill="#6ab810" filter="url(#s50_21)"/>
<path d="M-5.0,-5.0 L160.0,-5.0 L160.0,195.0 L-5.0,195.0 Z" fill="#b0e000" filter="url(#s25_22)"/>
<path d="M-5.0,-5.0 L160.0,-5.0 L160.0,195.0 L-5.0,195.0 Z" fill="#ffff00" filter="url(#s10_32)"/>
<path d="M60.0,120.0 L100.0,100.0 L125.0,110.0 L125.0,160.0 L95.0,165.0 Z" fill="#b0e000" filter="url(#s35_23)"/>
<path d="M85.0,115.0 L110.0,110.0 L122.0,125.0 L118.0,155.0 L100.0,160.0 Z" fill="#ffd800" filter="url(#s25_24)"/>
<path d="M50.0,95.0 L70.0,88.0 L85.0,84.0 L95.0,75.0 L100.0,62.0 L108.0,46.0 L118.0,35.0 L132.0,30.0 L140.0,35.0 L142.0,60.0 L136.0,90.0 L120.0,105.0 L108.0,120.0 L80.0,123.0 L55.0,120.0 L48.0,108.0 Z" fill="#2e5a35" filter="url(#b22)"/>
<path d="M50.0,95.0 L70.0,88.0 L85.0,84.0 L95.0,75.0 L100.0,62.0 L108.0,46.0 L118.0,35.0 L132.0,30.0 L140.0,35.0 L142.0,60.0 L136.0,90.0 L120.0,105.0 L108.0,120.0 L80.0,123.0 L55.0,120.0 L48.0,108.0 Z" fill="#3a8a2a" filter="url(#s20_30)"/>
<path d="M68.0,112.0 L69.0,96.0 L74.0,88.0 L82.0,84.0 L90.0,78.0 L98.0,68.0 L106.0,60.0 L114.0,54.0 L119.0,56.0 L112.0,64.0 L104.0,74.0 L97.0,84.0 L96.0,100.0 L96.0,112.0 L85.0,114.0 Z" fill="#98e8f5" filter="url(#b8)"/>
<ellipse cx="55" cy="100.5" rx="2.5" ry="2" fill="#98e8f5"/>
<path d="M124.0,-3.0 L147.0,-3.0 L147.0,40.0 L140.0,38.0 L128.0,32.0 L115.0,36.0 Z" fill="#6ab810" filter="url(#b14)"/>
<path d="M127.0,-3.0 L147.0,-3.0 L146.0,22.0 L138.0,30.0 L126.0,22.0 Z" fill="#b0e000" filter="url(#s60_26)"/>
<path d="M147.0,8.0 L160.0,8.0 L160.0,38.0 L147.0,38.0 Z" fill="#ffd800" filter="url(#b14)"/>
<path d="M136.0,42.0 L160.0,42.0 L160.0,72.0 L136.0,72.0 Z" fill="#6ab810" filter="url(#b14)"/>
<path d="M136.0,42.0 L160.0,42.0 L160.0,72.0 L136.0,72.0 Z" fill="#b0e000" filter="url(#s40_31)"/>
<path d="M128.0,91.0 L160.0,91.0 L160.0,195.0 L85.0,195.0 L95.0,182.0 L112.0,176.0 L126.0,168.0 L129.0,150.0 L131.0,130.0 L130.0,112.0 L129.0,104.0 Z" fill="#30a020" filter="url(#b14)"/>
<path d="M128.0,91.0 L160.0,91.0 L160.0,195.0 L85.0,195.0 L95.0,182.0 L112.0,176.0 L126.0,168.0 L129.0,150.0 L131.0,130.0 L130.0,112.0 L129.0,104.0 Z" fill="#6ab810" filter="url(#s40_27)"/>
<path d="M126.0,98.0 L155.0,98.0 L155.0,115.0 L130.0,115.0 Z" fill="#f0a800" filter="url(#s60_28)"/>
<path d="M110.0,195.0 L130.0,184.0 L145.0,174.0 L160.0,165.0 L160.0,195.0 Z" fill="#7ba0f0" filter="url(#b14)"/>
<path d="M110.0,195.0 L130.0,184.0 L145.0,174.0 L160.0,165.0 L160.0,195.0 Z" fill="#98e8f5" filter="url(#s40_29)"/>
<path d="M129.7,-10.0 L129.7,0.2 L129.0,7.0 L128.3,12.7 L126.1,19.8 L122.6,25.5 L118.3,31.2 L114.1,36.5 L111.5,41.0 L108.5,45.5 L103.0,53.3 L94.8,61.5 L86.7,69.5 L79.5,77.5 L72.6,84.8 L66.1,88.9 L63.0,90.2 L58.9,91.0 L55.5,90.6 L53.0,89.5 L52.4,86.8 L51.6,84.4 L50.2,86.2 L48.8,87.6" fill="none" stroke="#6ab810" stroke-width="18" stroke-linejoin="round" stroke-linecap="round" filter="url(#b8)"/>
<path d="M129.7,-10.0 L129.7,0.2 L129.0,7.0 L128.3,12.7 L126.1,19.8 L122.6,25.5 L118.3,31.2 L114.1,36.5 L111.5,41.0 L108.5,45.5 L103.0,53.3 L94.8,61.5 L86.7,69.5 L79.5,77.5 L72.6,84.8 L66.1,88.9 L63.0,90.2 L58.9,91.0 L55.5,90.6 L53.0,89.5 L52.4,86.8 L51.6,84.4 L50.2,86.2 L48.8,87.6" fill="none" stroke="#b0e000" stroke-width="10" stroke-linejoin="round" stroke-linecap="round" filter="url(#b8)"/>
<path d="M129.7,-10.0 L129.7,0.2 L129.0,7.0 L128.3,12.7 L126.1,19.8 L122.6,25.5 L118.3,31.2 L114.1,36.5 L111.5,41.0 L108.5,45.5 L103.0,53.3 L94.8,61.5 L86.7,69.5 L79.5,77.5 L72.6,84.8 L66.1,88.9 L63.0,90.2 L58.9,91.0 L55.5,90.6 L53.0,89.5 L52.4,86.8 L51.6,84.4 L50.2,86.2 L48.8,87.6" fill="none" stroke="#ffff00" stroke-width="4" stroke-linejoin="round" stroke-linecap="round" filter="url(#b8)"/>
<path d="M129.7,-10.0 L129.7,0.2 L129.0,7.0 L128.3,12.7 L126.1,19.8 L122.6,25.5 L118.3,31.2 L114.1,36.5 L111.5,41.0 L108.5,45.5 L103.0,53.3 L94.8,61.5 L86.7,69.5 L79.5,77.5 L72.6,84.8 L66.1,88.9 L63.0,90.2 L58.9,91.0 L55.5,90.6 L53.0,89.5 L52.4,86.8 L51.6,84.4 L50.2,86.2 L48.8,87.6" fill="none" stroke="#f08000" stroke-width="1.6" stroke-linejoin="round" stroke-linecap="round" filter="url(#b8)"/>
<path d="M48.8,87.6 L48.2,85.5 L47.2,83.6 L45.5,86.2 L42.5,88.6 L37.7,92.1 L33.6,95.4 L29.5,99.4 L27.1,104.0 L26.3,107.5 L23.8,112.4 L19.0,116.4 L12.5,120.5 L6.8,123.7 L5.2,127.8 L6.8,131.0 L10.8,133.4 L14.9,139.1 L18.1,146.4 L21.4,152.9 L23.8,159.4 L24.6,165.8 L24.2,171.0 L22.2,174.0 L17.3,175.6 L10.8,177.2 L4.4,178.8 L1.1,180.4 L-10.0,181.0" fill="none" stroke="#6ab810" stroke-width="18" stroke-linejoin="round" stroke-linecap="round" filter="url(#b8)"/>
<path d="M48.8,87.6 L48.2,85.5 L47.2,83.6 L45.5,86.2 L42.5,88.6 L37.7,92.1 L33.6,95.4 L29.5,99.4 L27.1,104.0 L26.3,107.5 L23.8,112.4 L19.0,116.4 L12.5,120.5 L6.8,123.7 L5.2,127.8 L6.8,131.0 L10.8,133.4 L14.9,139.1 L18.1,146.4 L21.4,152.9 L23.8,159.4 L24.6,165.8 L24.2,171.0 L22.2,174.0 L17.3,175.6 L10.8,177.2 L4.4,178.8 L1.1,180.4 L-10.0,181.0" fill="none" stroke="#b0e000" stroke-width="10" stroke-linejoin="round" stroke-linecap="round" filter="url(#b8)"/>
<path d="M48.8,87.6 L48.2,85.5 L47.2,83.6 L45.5,86.2 L42.5,88.6 L37.7,92.1 L33.6,95.4 L29.5,99.4 L27.1,104.0 L26.3,107.5 L23.8,112.4 L19.0,116.4 L12.5,120.5 L6.8,123.7 L5.2,127.8 L6.8,131.0 L10.8,133.4 L14.9,139.1 L18.1,146.4 L21.4,152.9 L23.8,159.4 L24.6,165.8 L24.2,171.0 L22.2,174.0 L17.3,175.6 L10.8,177.2 L4.4,178.8 L1.1,180.4 L-10.0,181.0" fill="none" stroke="#ffff00" stroke-width="5.0" stroke-linejoin="round" stroke-linecap="round" filter="url(#b8)"/>
<path d="M48.8,87.6 L48.2,85.5 L47.2,83.6 L45.5,86.2 L42.5,88.6 L37.7,92.1 L33.6,95.4 L29.5,99.4 L27.1,104.0 L26.3,107.5 L23.8,112.4 L19.0,116.4 L12.5,120.5 L6.8,123.7 L5.2,127.8 L6.8,131.0 L10.8,133.4 L14.9,139.1 L18.1,146.4 L21.4,152.9 L23.8,159.4 L24.6,165.8 L24.2,171.0 L22.2,174.0 L17.3,175.6 L10.8,177.2 L4.4,178.8 L1.1,180.4 L-10.0,181.0" fill="none" stroke="#f08000" stroke-width="2" stroke-linejoin="round" stroke-linecap="round" filter="url(#b8)"/>
<ellipse cx="6" cy="127" rx="3" ry="5" fill="#f08000"/>
<path d="M144.7,-5.0 L144.7,7.0 L144.0,14.1 L143.3,17.0 L144.7,21.2 L144.0,26.9 L144.0,34.0 L144.7,39.7 L146.1,44.0 L147.5,45.4 L149.7,44.0 L151.8,43.2 L153.2,42.5 L160.0,42.5" fill="none" stroke="#ffff00" stroke-width="6" stroke-linejoin="round" stroke-linecap="round" filter="url(#b8)"/>
<path d="M144.7,-5.0 L144.7,7.0 L144.0,14.1 L143.3,17.0 L144.7,21.2 L144.0,26.9 L144.0,34.0 L144.7,39.7 L146.1,44.0 L147.5,45.4 L149.7,44.0 L151.8,43.2 L153.2,42.5 L160.0,42.5" fill="none" stroke="#f0a800" stroke-width="2" stroke-linejoin="round" stroke-linecap="round" filter="url(#b8)"/>
<path d="M160.0,14.1 L153.2,14.1 L151.1,17.0 L149.7,22.6 L149.7,28.3 L150.4,32.6 L152.5,34.7 L160.0,35.4" fill="none" stroke="#f08000" stroke-width="2" stroke-linejoin="round" stroke-linecap="round" filter="url(#b8)"/>
<path d="M138.1,112.5 L136.0,111.3 L134.6,108.5 L128.9,109.2 L127.7,110.3 L125.2,116.8 L124.4,123.3 L124.4,128.2 L121.9,134.7 L119.5,141.2 L115.4,146.1 L109.7,147.7 L103.2,149.3 L98.4,150.9 L97.2,150.0 L95.6,149.8 L95.0,151.6 L95.9,153.4 L94.3,157.4 L90.2,160.7 L87.0,165.6 L83.7,168.8 L78.5,168.5 L72.9,169.1 L64.0,170.2 L56.2,170.8 L50.6,175.8 L43.9,181.4 L37.2,186.4 L36.0,192.0" fill="none" stroke="#ffd800" stroke-width="6" stroke-linejoin="round" stroke-linecap="round" filter="url(#b8)"/>
<path d="M138.1,112.5 L136.0,111.3 L134.6,108.5 L128.9,109.2 L127.7,110.3 L125.2,116.8 L124.4,123.3 L124.4,128.2 L121.9,134.7 L119.5,141.2 L115.4,146.1 L109.7,147.7 L103.2,149.3 L98.4,150.9 L97.2,150.0 L95.6,149.8 L95.0,151.6 L95.9,153.4 L94.3,157.4 L90.2,160.7 L87.0,165.6 L83.7,168.8 L78.5,168.5 L72.9,169.1 L64.0,170.2 L56.2,170.8 L50.6,175.8 L43.9,181.4 L37.2,186.4 L36.0,192.0" fill="none" stroke="#f0a800" stroke-width="2.4" stroke-linejoin="round" stroke-linecap="round" filter="url(#b8)"/>
<path d="M138.1,112.5 L142.2,113.6 L143.0,120.1 L143.2,128.0 L143.0,136.3 L142.2,139.5 L137.3,142.8 L134.9,144.4 L133.3,149.3 L132.5,157.4 L130.9,163.9 L131.8,167.1 L130.5,169.8 L128.7,172.5 L126.0,175.1 L123.3,174.2 L122.4,172.5 L120.6,174.2 L118.0,174.2 L116.2,176.0 L114.4,179.6 L112.6,176.0 L109.9,176.9 L106.4,179.6 L102.8,179.6 L100.1,181.4 L96.6,182.3 L93.9,183.2 L91.2,185.0 L88.5,186.8 L88.0,192.0" fill="none" stroke="#ffd800" stroke-width="6" stroke-linejoin="round" stroke-linecap="round" filter="url(#b8)"/>
<path d="M138.1,112.5 L142.2,113.6 L143.0,120.1 L143.2,128.0 L143.0,136.3 L142.2,139.5 L137.3,142.8 L134.9,144.4 L133.3,149.3 L132.5,157.4 L130.9,163.9 L131.8,167.1 L130.5,169.8 L128.7,172.5 L126.0,175.1 L123.3,174.2 L122.4,172.5 L120.6,174.2 L118.0,174.2 L116.2,176.0 L114.4,179.6 L112.6,176.0 L109.9,176.9 L106.4,179.6 L102.8,179.6 L100.1,181.4 L96.6,182.3 L93.9,183.2 L91.2,185.0 L88.5,186.8 L88.0,192.0" fill="none" stroke="#f0a800" stroke-width="2.4" stroke-linejoin="round" stroke-linecap="round" filter="url(#b8)"/>
<path d="M160.0,68.1 L153.2,68.1 L150.4,66.7 L147.5,63.8 L144.7,59.6 L142.6,58.9 L141.0,60.2 L140.3,65.9 L138.9,73.0 L136.7,78.6 L135.3,81.5 L134.6,84.3 L131.0,85.0 L128.2,85.0 L128.9,88.6 L125.4,91.4 L123.9,95.7 L125.4,100.0 L124.6,104.2 L127.5,105.6" fill="none" stroke="#f0a800" stroke-width="6" stroke-linejoin="round" stroke-linecap="round" filter="url(#b8)"/>
<path d="M-5.0,177.0 L10.0,176.0 L22.0,174.0 L28.0,180.0 L26.0,195.0 L-5.0,195.0 Z" fill="#ffff00" filter="url(#b14)"/>
<path d="M44,89.5 L47.2,83 L49,88.5 L51.6,83.8 L53.8,90.5 L48,91.5 Z" fill="#ffe000"/>
<path d="M46.5,86 L47.2,83 L48.2,86 Z M51,86 L51.6,83.8 L52.5,86.5 Z" fill="#f08000"/>
</g>
<path d="M-10.0,-10.0 L129.7,-10.0 L129.7,0.2 L129.0,7.0 L128.3,12.7 L126.1,19.8 L122.6,25.5 L118.3,31.2 L114.1,36.5 L111.5,41.0 L108.5,45.5 L103.0,53.3 L94.8,61.5 L86.7,69.5 L79.5,77.5 L72.6,84.8 L66.1,88.9 L63.0,90.2 L58.9,91.0 L55.5,90.6 L53.0,89.5 L52.4,86.8 L51.6,84.4 L50.2,86.2 L48.8,87.6 L48.2,85.5 L47.2,83.6 L45.5,86.2 L42.5,88.6 L37.7,92.1 L33.6,95.4 L29.5,99.4 L27.1,104.0 L26.3,107.5 L23.8,112.4 L19.0,116.4 L12.5,120.5 L6.8,123.7 L5.2,127.8 L6.8,131.0 L10.8,133.4 L14.9,139.1 L18.1,146.4 L21.4,152.9 L23.8,159.4 L24.6,165.8 L24.2,171.0 L22.2,174.0 L17.3,175.6 L10.8,177.2 L4.4,178.8 L1.1,180.4 L-10.0,181.0 Z M144.7,-10.0 L164.0,-10.0 L164.0,14.1 L153.2,14.1 L151.1,17.0 L149.7,22.6 L149.7,28.3 L150.4,32.6 L152.5,34.7 L164.0,35.4 L164.0,42.5 L153.2,42.5 L151.8,43.2 L149.7,44.0 L147.5,45.4 L146.1,44.0 L144.7,39.7 L144.0,34.0 L144.0,26.9 L144.7,21.2 L143.3,17.0 L144.0,14.1 L144.7,7.0 Z M141.0,60.2 L142.6,58.9 L144.7,59.6 L147.5,63.8 L150.4,66.7 L153.2,68.1 L164.0,68.1 L164.0,98.5 L153.0,98.5 L148.8,95.7 L143.1,92.9 L137.4,92.1 L131.8,92.1 L128.9,93.6 L130.3,95.7 L133.2,97.1 L134.6,100.0 L132.5,101.4 L130.3,104.2 L127.5,105.6 L124.6,104.2 L125.4,100.0 L123.9,95.7 L125.4,91.4 L128.9,88.6 L128.2,85.0 L131.0,85.0 L134.6,84.3 L135.3,81.5 L136.7,78.6 L138.9,73.0 L140.3,65.9 Z M127.7,110.3 L128.9,109.2 L134.6,108.5 L136.0,111.3 L138.1,112.5 L142.2,113.6 L143.0,120.1 L143.2,128.0 L143.0,136.3 L142.2,139.5 L137.3,142.8 L134.9,144.4 L133.3,149.3 L132.5,157.4 L130.9,163.9 L131.8,167.1 L130.5,169.8 L128.7,172.5 L126.0,175.1 L123.3,174.2 L122.4,172.5 L120.6,174.2 L118.0,174.2 L116.2,176.0 L114.4,179.6 L112.6,176.0 L109.9,176.9 L106.4,179.6 L102.8,179.6 L100.1,181.4 L96.6,182.3 L93.9,183.2 L91.2,185.0 L88.5,186.8 L88.0,197.0 L36.0,197.0 L37.2,186.4 L43.9,181.4 L50.6,175.8 L56.2,170.8 L64.0,170.2 L72.9,169.1 L78.5,168.5 L83.7,168.8 L87.0,165.6 L90.2,160.7 L94.3,157.4 L95.9,153.4 L95.0,151.6 L95.6,149.8 L97.2,150.0 L98.4,150.9 L103.2,149.3 L109.7,147.7 L115.4,146.1 L119.5,141.2 L121.9,134.7 L124.4,128.2 L124.4,123.3 L125.2,116.8 Z" fill="#dcdcdc" stroke="#444" stroke-width="0.5"/>
<ellipse cx="52.5" cy="186" rx="2.6" ry="1.6" fill="#ffd800" stroke="#3a2a20" stroke-width="0.45"/>
<ellipse cx="57.5" cy="185" rx="2" ry="1.4" fill="#f0a800" stroke="#3a2a20" stroke-width="0.45"/>
<ellipse cx="62.5" cy="184.3" rx="2.4" ry="1.7" fill="#ffe000" stroke="#3a2a20" stroke-width="0.45"/>
<ellipse cx="68" cy="183" rx="2.6" ry="2" fill="#f0a800" stroke="#3a2a20" stroke-width="0.45"/>
<ellipse cx="73" cy="181.8" rx="2.4" ry="1.9" fill="#ffd800" stroke="#3a2a20" stroke-width="0.45"/>
<ellipse cx="78" cy="181.3" rx="2.2" ry="1.7" fill="#f08000" stroke="#3a2a20" stroke-width="0.45"/>
<ellipse cx="76.5" cy="185.6" rx="1.8" ry="1.4" fill="#ffff00" stroke="#3a2a20" stroke-width="0.45"/>
<path d="M93,177.8 L95.5,177.2 L97.8,178.8 L98.2,181.2 L95.8,181.8 L93.6,181 Z" fill="#f08000" stroke="#3a2a20" stroke-width="0.4"/>
<ellipse cx="95.8" cy="179.6" rx="1.1" ry="0.9" fill="#652d88"/>
<path d="M121.6,170.4 L123.8,169.6 L124.8,172 L123.4,174 L122,173.2 Z" fill="#f04018" stroke="#3a2a20" stroke-width="0.4"/>
<path d="M50,59.8 C52,58.2 56,58.4 57.2,60.8 C58.2,63 56.2,64.8 55.8,66.6 C55.3,68.6 53.2,69.8 51.6,68.8 C50.4,67.8 51.6,65.6 50,64.6 C48.4,63.4 48.4,61 50,59.8 Z" fill="#dcdcdc" stroke="#222" stroke-width="0.75"/>
<ellipse cx="109.6" cy="143.7" rx="1.8" ry="2.6" fill="#dcdcdc" stroke="#333" stroke-width="0.5"/>
<circle cx="59.5" cy="164" r="1.2" fill="#333"/>
<ellipse cx="22.6" cy="182.5" rx="1.3" ry="2" fill="#cfcfcf" stroke="#333" stroke-width="0.5"/>
<circle cx="1.5" cy="181.5" r="1.2" fill="#5a3a2a"/>
<circle cx="4.5" cy="179.8" r="0.9" fill="#c04020"/>
<circle cx="7" cy="179.5" r="1.3" fill="#4a3a30"/>
<circle cx="10.5" cy="178.2" r="0.8" fill="#7a4a3a"/>
<circle cx="12.5" cy="178.8" r="1.1" fill="#4a3a30"/>
<circle cx="15.8" cy="177.4" r="1.2" fill="#5a4a40"/>
<circle cx="18.6" cy="177" r="0.8" fill="#c05030"/>
<circle cx="3" cy="183" r="0.8" fill="#4a3a30"/>
<path d="M18.5,79 L20.5,76.5" stroke="#222" stroke-width="1"/>
<path d="M1.5,82.5 L3,81" stroke="#222" stroke-width="0.8"/>
<circle cx="133.5" cy="116.8" r="0.65" fill="#555"/>
<circle cx="130.9" cy="125.7" r="0.65" fill="#555"/>
<circle cx="125.2" cy="150" r="0.65" fill="#555"/>
<circle cx="119.5" cy="158.1" r="0.65" fill="#555"/>
<circle cx="106.5" cy="165.5" r="0.65" fill="#555"/>
<circle cx="140.5" cy="77" r="0.65" fill="#555"/>
<circle cx="146" cy="82" r="0.65" fill="#555"/>
<circle cx="50.6" cy="30.2" r="0.55" fill="#444"/>
<circle cx="55.5" cy="27.8" r="0.55" fill="#444"/>
<circle cx="60.4" cy="25.3" r="0.55" fill="#444"/>
<circle cx="64" cy="23.8" r="0.55" fill="#444"/>
<circle cx="68.2" cy="22.4" r="0.55" fill="#444"/>
<circle cx="77.9" cy="18.5" r="0.55" fill="#444"/>
<circle cx="81.8" cy="19.5" r="0.55" fill="#444"/>
<circle cx="86.7" cy="16.6" r="0.55" fill="#444"/>
<circle cx="89" cy="15" r="0.55" fill="#444"/>
<circle cx="91.5" cy="13.6" r="0.55" fill="#444"/>
<circle cx="95.4" cy="5.8" r="0.55" fill="#444"/>
<circle cx="97.4" cy="3.9" r="0.55" fill="#444"/>
</g>
<rect x="0.5" y="0.5" width="153.2" height="186.5" fill="none" stroke="#8a8a8a" stroke-width="1.2"/>
<path d="M10.2,0.5 H29.8 M10.2,187.0 H29.8" stroke="#222" stroke-width="1.3"/>
<path d="M48.5,0.5 H68 M48.5,187.0 H68" stroke="#222" stroke-width="1.3"/>
<path d="M86.8,0.5 H106.3 M86.8,187.0 H106.3" stroke="#222" stroke-width="1.3"/>
<path d="M125.1,0.5 H145.4 M125.1,187.0 H145.4" stroke="#222" stroke-width="1.3"/>
<path d="M0.5,0 V26.7 M153.7,0 V26.7" stroke="#222" stroke-width="1.3"/>
<path d="M0.5,52.2 V75.7 M153.7,52.2 V75.7" stroke="#222" stroke-width="1.3"/>
<path d="M0.5,99.2 V121.7 M153.7,99.2 V121.7" stroke="#222" stroke-width="1.3"/>
<path d="M0.5,144.7 V167.7 M153.7,144.7 V167.7" stroke="#222" stroke-width="1.3"/>
<text transform="translate(9.0,20.4) scale(1.078,1)" class="ttl">Mar</text>
<text x="30.2" y="201.5" class="lon">130E</text>
<text x="68.2" y="201.5" class="lon">134E</text>
<text x="106.2" y="201.5" class="lon">138E</text>
<text x="144.2" y="201.5" class="lon">142E</text>
</g><g transform="translate(518.50,14.30)">
<g clip-path="url(#clp)">
<g filter="url(#soft)">
<path d="M-5.0,-5.0 L160.0,-5.0 L160.0,195.0 L-5.0,195.0 Z" fill="#ffd800"/>
<path d="M-5.0,-5.0 L160.0,-5.0 L160.0,195.0 L-5.0,195.0 Z" fill="#ffff00" filter="url(#s40_31)"/>
<path d="M-5.0,-5.0 L160.0,-5.0 L160.0,195.0 L-5.0,195.0 Z" fill="#f0a800" filter="url(#s20_32)"/>
<path d="M10.0,110.0 L55.0,110.0 L55.0,150.0 L10.0,150.0 Z" fill="#b0e000" filter="url(#s45_33)"/>
<path d="M25.0,150.0 L85.0,146.0 L95.0,175.0 L30.0,182.0 Z" fill="#b0e000" filter="url(#b30)"/>
<path d="M25.0,155.0 L85.0,150.0 L95.0,175.0 L30.0,180.0 Z" fill="#6ab810" filter="url(#s35_34)"/>
<path d="M15.0,140.0 L40.0,140.0 L40.0,170.0 L20.0,170.0 Z" fill="#f0a800" filter="url(#s50_35)"/>
<path d="M100.0,115.0 L122.0,115.0 L122.0,150.0 L100.0,150.0 Z" fill="#f0a800" filter="url(#s55_36)"/>
<path d="M66.0,118.0 L76.0,106.0 L88.0,92.0 L102.0,74.0 L116.0,56.0 L128.0,42.0 L138.0,34.0 L142.0,42.0 L134.0,60.0 L120.0,80.0 L108.0,100.0 L98.0,116.0 L80.0,124.0 Z" fill="#b0e000" filter="url(#b25)"/>
<path d="M74.0,114.0 L84.0,104.0 L96.0,88.0 L110.0,70.0 L122.0,52.0 L134.0,38.0 L139.0,42.0 L130.0,58.0 L118.0,76.0 L106.0,96.0 L98.0,112.0 L86.0,118.0 Z" fill="#6ab810" filter="url(#b20)"/>
<path d="M80.0,110.0 L90.0,100.0 L102.0,84.0 L114.0,66.0 L126.0,50.0 L135.0,42.0 L128.0,58.0 L116.0,76.0 L104.0,98.0 L96.0,112.0 Z" fill="#30a020" filter="url(#b15)"/>
<path d="M84.0,98.0 L96.0,92.0 L104.0,96.0 L104.0,110.0 L96.0,118.0 L84.0,112.0 Z" fill="#3a8a2a" filter="url(#b15)"/>
<path d="M87.0,101.0 L93.0,97.0 L100.0,98.0 L101.0,107.0 L97.0,114.0 L89.0,113.0 Z" fill="#2e5a35" filter="url(#b12)"/>
<path d="M108.0,60.0 L124.0,45.0 L130.0,48.0 L118.0,66.0 Z" fill="#3a8a2a" filter="url(#b15)"/>
<path d="M124.0,-3.0 L147.0,-3.0 L147.0,40.0 L140.0,38.0 L128.0,32.0 L115.0,36.0 Z" fill="#f0a800" filter="url(#b14)"/>
<path d="M124.0,-3.0 L147.0,-3.0 L147.0,40.0 L140.0,38.0 L128.0,32.0 L115.0,36.0 Z" fill="#ffd800" filter="url(#s40_37)"/>
<path d="M147.0,8.0 L160.0,8.0 L160.0,38.0 L147.0,38.0 Z" fill="#f08000" filter="url(#b14)"/>
<path d="M136.0,42.0 L160.0,42.0 L160.0,72.0 L136.0,72.0 Z" fill="#f0a800" filter="url(#b14)"/>
<path d="M136.0,42.0 L160.0,42.0 L160.0,72.0 L136.0,72.0 Z" fill="#ffd800" filter="url(#s40_42)"/>
<path d="M128.0,91.0 L160.0,91.0 L160.0,195.0 L85.0,195.0 L95.0,182.0 L112.0,176.0 L126.0,168.0 L129.0,150.0 L131.0,130.0 L130.0,112.0 L129.0,104.0 Z" fill="#f0a800" filter="url(#b14)"/>
<path d="M128.0,91.0 L160.0,91.0 L160.0,195.0 L85.0,195.0 L95.0,182.0 L112.0,176.0 L126.0,168.0 L129.0,150.0 L131.0,130.0 L130.0,112.0 L129.0,104.0 Z" fill="#ffd800" filter="url(#s40_38)"/>
<path d="M85.0,195.0 L95.0,184.0 L110.0,178.0 L125.0,174.0 L135.0,166.0 L160.0,150.0 L160.0,195.0 Z" fill="#30a020" filter="url(#b14)"/>
<path d="M110.0,195.0 L130.0,184.0 L145.0,174.0 L160.0,165.0 L160.0,195.0 Z" fill="#2e5a35" filter="url(#b14)"/>
<path d="M140.0,178.0 L160.0,168.0 L160.0,195.0 L135.0,195.0 Z" fill="#98e8f5" filter="url(#s60_39)"/>
<path d="M126.0,98.0 L155.0,98.0 L155.0,130.0 L138.0,130.0 Z" fill="#f08000" filter="url(#s60_40)"/>
<path d="M129.7,-10.0 L129.7,0.2 L129.0,7.0 L128.3,12.7 L126.1,19.8 L122.6,25.5 L118.3,31.2 L114.1,36.5 L111.5,41.0 L108.5,45.5 L103.0,53.3 L94.8,61.5 L86.7,69.5 L79.5,77.5 L72.6,84.8 L66.1,88.9 L63.0,90.2 L58.9,91.0 L55.5,90.6 L53.0,89.5 L52.4,86.8 L51.6,84.4 L50.2,86.2 L48.8,87.6" fill="none" stroke="#f0a800" stroke-width="20" stroke-linejoin="round" stroke-linecap="round" filter="url(#b8)"/>
<path d="M129.7,-10.0 L129.7,0.2 L129.0,7.0 L128.3,12.7 L126.1,19.8 L122.6,25.5 L118.3,31.2 L114.1,36.5 L111.5,41.0 L108.5,45.5 L103.0,53.3 L94.8,61.5 L86.7,69.5 L79.5,77.5 L72.6,84.8 L66.1,88.9 L63.0,90.2 L58.9,91.0 L55.5,90.6 L53.0,89.5 L52.4,86.8 L51.6,84.4 L50.2,86.2 L48.8,87.6" fill="none" stroke="#f08000" stroke-width="5.0" stroke-linejoin="round" stroke-linecap="round" filter="url(#b8)"/>
<path d="M48.8,87.6 L48.2,85.5 L47.2,83.6 L45.5,86.2 L42.5,88.6 L37.7,92.1 L33.6,95.4 L29.5,99.4 L27.1,104.0 L26.3,107.5 L23.8,112.4 L19.0,116.4 L12.5,120.5 L6.8,123.7 L5.2,127.8 L6.8,131.0 L10.8,133.4 L14.9,139.1 L18.1,146.4 L21.4,152.9 L23.8,159.4 L24.6,165.8 L24.2,171.0 L22.2,174.0 L17.3,175.6 L10.8,177.2 L4.4,178.8 L1.1,180.4 L-10.0,181.0" fill="none" stroke="#f0a800" stroke-width="10" stroke-linejoin="round" stroke-linecap="round" filter="url(#b8)"/>
<path d="M48.8,87.6 L48.2,85.5 L47.2,83.6 L45.5,86.2 L42.5,88.6 L37.7,92.1 L33.6,95.4 L29.5,99.4 L27.1,104.0 L26.3,107.5 L23.8,112.4 L19.0,116.4 L12.5,120.5 L6.8,123.7 L5.2,127.8 L6.8,131.0 L10.8,133.4 L14.9,139.1 L18.1,146.4 L21.4,152.9 L23.8,159.4 L24.6,165.8 L24.2,171.0 L22.2,174.0 L17.3,175.6 L10.8,177.2 L4.4,178.8 L1.1,180.4 L-10.0,181.0" fill="none" stroke="#f08000" stroke-width="3.0" stroke-linejoin="round" stroke-linecap="round" filter="url(#b8)"/>
<path d="M144.7,-5.0 L144.7,7.0 L144.0,14.1 L143.3,17.0 L144.7,21.2 L144.0,26.9 L144.0,34.0 L144.7,39.7 L146.1,44.0 L147.5,45.4 L149.7,44.0 L151.8,43.2 L153.2,42.5 L160.0,42.5" fill="none" stroke="#f0a800" stroke-width="8" stroke-linejoin="round" stroke-linecap="round" filter="url(#b8)"/>
<path d="M160.0,14.1 L153.2,14.1 L151.1,17.0 L149.7,22.6 L149.7,28.3 L150.4,32.6 L152.5,34.7 L160.0,35.4" fill="none" stroke="#f08000" stroke-width="3.0" stroke-linejoin="round" stroke-linecap="round" filter="url(#b8)"/>
<path d="M138.1,112.5 L136.0,111.3 L134.6,108.5 L128.9,109.2 L127.7,110.3 L125.2,116.8 L124.4,123.3 L124.4,128.2 L121.9,134.7 L119.5,141.2 L115.4,146.1 L109.7,147.7 L103.2,149.3 L98.4,150.9 L97.2,150.0 L95.6,149.8 L95.0,151.6 L95.9,153.4 L94.3,157.4 L90.2,160.7 L87.0,165.6 L83.7,168.8 L78.5,168.5 L72.9,169.1 L64.0,170.2 L56.2,170.8 L50.6,175.8 L43.9,181.4 L37.2,186.4 L36.0,192.0" fill="none" stroke="#f0a800" stroke-width="6" stroke-linejoin="round" stroke-linecap="round" filter="url(#b8)"/>
<path d="M138.1,112.5 L142.2,113.6 L143.0,120.1 L143.2,128.0 L143.0,136.3 L142.2,139.5 L137.3,142.8 L134.9,144.4 L133.3,149.3 L132.5,157.4 L130.9,163.9 L131.8,167.1 L130.5,169.8 L128.7,172.5 L126.0,175.1 L123.3,174.2 L122.4,172.5 L120.6,174.2 L118.0,174.2 L116.2,176.0 L114.4,179.6 L112.6,176.0 L109.9,176.9 L106.4,179.6 L102.8,179.6 L100.1,181.4 L96.6,182.3 L93.9,183.2 L91.2,185.0 L88.5,186.8 L88.0,192.0" fill="none" stroke="#f08000" stroke-width="6" stroke-linejoin="round" stroke-linecap="round" filter="url(#b8)"/>
<path d="M160.0,68.1 L153.2,68.1 L150.4,66.7 L147.5,63.8 L144.7,59.6 L142.6,58.9 L141.0,60.2 L140.3,65.9 L138.9,73.0 L136.7,78.6 L135.3,81.5 L134.6,84.3 L131.0,85.0 L128.2,85.0 L128.9,88.6 L125.4,91.4 L123.9,95.7 L125.4,100.0 L124.6,104.2 L127.5,105.6" fill="none" stroke="#f08000" stroke-width="6" stroke-linejoin="round" stroke-linecap="round" filter="url(#b8)"/>
<path d="M-5.0,177.0 L10.0,176.0 L22.0,174.0 L28.0,180.0 L26.0,195.0 L-5.0,195.0 Z" fill="#ffd800" filter="url(#b14)"/>
<path d="M44,89.5 L47.2,83 L49,88.5 L51.6,83.8 L53.8,90.5 L48,91.5 Z" fill="#ffe000"/>
<path d="M46.5,86 L47.2,83 L48.2,86 Z M51,86 L51.6,83.8 L52.5,86.5 Z" fill="#f08000"/>
</g>
<path d="M-10.0,-10.0 L129.7,-10.0 L129.7,0.2 L129.0,7.0 L128.3,12.7 L126.1,19.8 L122.6,25.5 L118.3,31.2 L114.1,36.5 L111.5,41.0 L108.5,45.5 L103.0,53.3 L94.8,61.5 L86.7,69.5 L79.5,77.5 L72.6,84.8 L66.1,88.9 L63.0,90.2 L58.9,91.0 L55.5,90.6 L53.0,89.5 L52.4,86.8 L51.6,84.4 L50.2,86.2 L48.8,87.6 L48.2,85.5 L47.2,83.6 L45.5,86.2 L42.5,88.6 L37.7,92.1 L33.6,95.4 L29.5,99.4 L27.1,104.0 L26.3,107.5 L23.8,112.4 L19.0,116.4 L12.5,120.5 L6.8,123.7 L5.2,127.8 L6.8,131.0 L10.8,133.4 L14.9,139.1 L18.1,146.4 L21.4,152.9 L23.8,159.4 L24.6,165.8 L24.2,171.0 L22.2,174.0 L17.3,175.6 L10.8,177.2 L4.4,178.8 L1.1,180.4 L-10.0,181.0 Z M144.7,-10.0 L164.0,-10.0 L164.0,14.1 L153.2,14.1 L151.1,17.0 L149.7,22.6 L149.7,28.3 L150.4,32.6 L152.5,34.7 L164.0,35.4 L164.0,42.5 L153.2,42.5 L151.8,43.2 L149.7,44.0 L147.5,45.4 L146.1,44.0 L144.7,39.7 L144.0,34.0 L144.0,26.9 L144.7,21.2 L143.3,17.0 L144.0,14.1 L144.7,7.0 Z M141.0,60.2 L142.6,58.9 L144.7,59.6 L147.5,63.8 L150.4,66.7 L153.2,68.1 L164.0,68.1 L164.0,98.5 L153.0,98.5 L148.8,95.7 L143.1,92.9 L137.4,92.1 L131.8,92.1 L128.9,93.6 L130.3,95.7 L133.2,97.1 L134.6,100.0 L132.5,101.4 L130.3,104.2 L127.5,105.6 L124.6,104.2 L125.4,100.0 L123.9,95.7 L125.4,91.4 L128.9,88.6 L128.2,85.0 L131.0,85.0 L134.6,84.3 L135.3,81.5 L136.7,78.6 L138.9,73.0 L140.3,65.9 Z M127.7,110.3 L128.9,109.2 L134.6,108.5 L136.0,111.3 L138.1,112.5 L142.2,113.6 L143.0,120.1 L143.2,128.0 L143.0,136.3 L142.2,139.5 L137.3,142.8 L134.9,144.4 L133.3,149.3 L132.5,157.4 L130.9,163.9 L131.8,167.1 L130.5,169.8 L128.7,172.5 L126.0,175.1 L123.3,174.2 L122.4,172.5 L120.6,174.2 L118.0,174.2 L116.2,176.0 L114.4,179.6 L112.6,176.0 L109.9,176.9 L106.4,179.6 L102.8,179.6 L100.1,181.4 L96.6,182.3 L93.9,183.2 L91.2,185.0 L88.5,186.8 L88.0,197.0 L36.0,197.0 L37.2,186.4 L43.9,181.4 L50.6,175.8 L56.2,170.8 L64.0,170.2 L72.9,169.1 L78.5,168.5 L83.7,168.8 L87.0,165.6 L90.2,160.7 L94.3,157.4 L95.9,153.4 L95.0,151.6 L95.6,149.8 L97.2,150.0 L98.4,150.9 L103.2,149.3 L109.7,147.7 L115.4,146.1 L119.5,141.2 L121.9,134.7 L124.4,128.2 L124.4,123.3 L125.2,116.8 Z" fill="#dcdcdc" stroke="#444" stroke-width="0.5"/>
<ellipse cx="52.5" cy="186" rx="2.6" ry="1.6" fill="#ffd800" stroke="#3a2a20" stroke-width="0.45"/>
<ellipse cx="57.5" cy="185" rx="2" ry="1.4" fill="#f0a800" stroke="#3a2a20" stroke-width="0.45"/>
<ellipse cx="62.5" cy="184.3" rx="2.4" ry="1.7" fill="#ffe000" stroke="#3a2a20" stroke-width="0.45"/>
<ellipse cx="68" cy="183" rx="2.6" ry="2" fill="#f0a800" stroke="#3a2a20" stroke-width="0.45"/>
<ellipse cx="73" cy="181.8" rx="2.4" ry="1.9" fill="#ffd800" stroke="#3a2a20" stroke-width="0.45"/>
<ellipse cx="78" cy="181.3" rx="2.2" ry="1.7" fill="#f08000" stroke="#3a2a20" stroke-width="0.45"/>
<ellipse cx="76.5" cy="185.6" rx="1.8" ry="1.4" fill="#ffff00" stroke="#3a2a20" stroke-width="0.45"/>
<path d="M93,177.8 L95.5,177.2 L97.8,178.8 L98.2,181.2 L95.8,181.8 L93.6,181 Z" fill="#f08000" stroke="#3a2a20" stroke-width="0.4"/>
<ellipse cx="95.8" cy="179.6" rx="1.1" ry="0.9" fill="#652d88"/>
<path d="M121.6,170.4 L123.8,169.6 L124.8,172 L123.4,174 L122,173.2 Z" fill="#f04018" stroke="#3a2a20" stroke-width="0.4"/>
<path d="M50,59.8 C52,58.2 56,58.4 57.2,60.8 C58.2,63 56.2,64.8 55.8,66.6 C55.3,68.6 53.2,69.8 51.6,68.8 C50.4,67.8 51.6,65.6 50,64.6 C48.4,63.4 48.4,61 50,59.8 Z" fill="#dcdcdc" stroke="#222" stroke-width="0.75"/>
<ellipse cx="109.6" cy="143.7" rx="1.8" ry="2.6" fill="#dcdcdc" stroke="#333" stroke-width="0.5"/>
<circle cx="59.5" cy="164" r="1.2" fill="#333"/>
<ellipse cx="22.6" cy="182.5" rx="1.3" ry="2" fill="#cfcfcf" stroke="#333" stroke-width="0.5"/>
<circle cx="1.5" cy="181.5" r="1.2" fill="#5a3a2a"/>
<circle cx="4.5" cy="179.8" r="0.9" fill="#c04020"/>
<circle cx="7" cy="179.5" r="1.3" fill="#4a3a30"/>
<circle cx="10.5" cy="178.2" r="0.8" fill="#7a4a3a"/>
<circle cx="12.5" cy="178.8" r="1.1" fill="#4a3a30"/>
<circle cx="15.8" cy="177.4" r="1.2" fill="#5a4a40"/>
<circle cx="18.6" cy="177" r="0.8" fill="#c05030"/>
<circle cx="3" cy="183" r="0.8" fill="#4a3a30"/>
<path d="M18.5,79 L20.5,76.5" stroke="#222" stroke-width="1"/>
<path d="M1.5,82.5 L3,81" stroke="#222" stroke-width="0.8"/>
<circle cx="133.5" cy="116.8" r="0.65" fill="#555"/>
<circle cx="130.9" cy="125.7" r="0.65" fill="#555"/>
<circle cx="125.2" cy="150" r="0.65" fill="#555"/>
<circle cx="119.5" cy="158.1" r="0.65" fill="#555"/>
<circle cx="106.5" cy="165.5" r="0.65" fill="#555"/>
<circle cx="140.5" cy="77" r="0.65" fill="#555"/>
<circle cx="146" cy="82" r="0.65" fill="#555"/>
<circle cx="50.6" cy="30.2" r="0.55" fill="#444"/>
<circle cx="55.5" cy="27.8" r="0.55" fill="#444"/>
<circle cx="60.4" cy="25.3" r="0.55" fill="#444"/>
<circle cx="64" cy="23.8" r="0.55" fill="#444"/>
<circle cx="68.2" cy="22.4" r="0.55" fill="#444"/>
<circle cx="77.9" cy="18.5" r="0.55" fill="#444"/>
<circle cx="81.8" cy="19.5" r="0.55" fill="#444"/>
<circle cx="86.7" cy="16.6" r="0.55" fill="#444"/>
<circle cx="89" cy="15" r="0.55" fill="#444"/>
<circle cx="91.5" cy="13.6" r="0.55" fill="#444"/>
<circle cx="95.4" cy="5.8" r="0.55" fill="#444"/>
<circle cx="97.4" cy="3.9" r="0.55" fill="#444"/>
</g>
<rect x="0.5" y="0.5" width="153.2" height="186.5" fill="none" stroke="#8a8a8a" stroke-width="1.2"/>
<path d="M10.2,0.5 H29.8 M10.2,187.0 H29.8" stroke="#222" stroke-width="1.3"/>
<path d="M48.5,0.5 H68 M48.5,187.0 H68" stroke="#222" stroke-width="1.3"/>
<path d="M86.8,0.5 H106.3 M86.8,187.0 H106.3" stroke="#222" stroke-width="1.3"/>
<path d="M125.1,0.5 H145.4 M125.1,187.0 H145.4" stroke="#222" stroke-width="1.3"/>
<path d="M0.5,0 V26.7 M153.7,0 V26.7" stroke="#222" stroke-width="1.3"/>
<path d="M0.5,52.2 V75.7 M153.7,52.2 V75.7" stroke="#222" stroke-width="1.3"/>
<path d="M0.5,99.2 V121.7 M153.7,99.2 V121.7" stroke="#222" stroke-width="1.3"/>
<path d="M0.5,144.7 V167.7 M153.7,144.7 V167.7" stroke="#222" stroke-width="1.3"/>
<text transform="translate(9.0,20.4) scale(1.078,1)" class="ttl">Apr</text>
<text x="30.2" y="201.5" class="lon">130E</text>
<text x="68.2" y="201.5" class="lon">134E</text>
<text x="106.2" y="201.5" class="lon">138E</text>
<text x="144.2" y="201.5" class="lon">142E</text>
</g><g transform="translate(681.50,14.30)">
<g clip-path="url(#clp)">
<g filter="url(#soft)">
<path d="M-5.0,-5.0 L160.0,-5.0 L160.0,195.0 L-5.0,195.0 Z" fill="#b0e000"/>
<path d="M-5.0,-5.0 L160.0,-5.0 L160.0,195.0 L-5.0,195.0 Z" fill="#ffff00" filter="url(#s40_41)"/>
<path d="M-5.0,-5.0 L160.0,-5.0 L160.0,195.0 L-5.0,195.0 Z" fill="#f0a800" filter="url(#s10_42)"/>
<path d="M60.0,60.0 L110.0,40.0 L130.0,30.0 L130.0,90.0 L60.0,100.0 Z" fill="#6ab810" filter="url(#s25_51)"/>
<path d="M5.0,105.0 L50.0,100.0 L80.0,110.0 L110.0,120.0 L120.0,150.0 L100.0,172.0 L50.0,180.0 L20.0,175.0 Z" fill="#6ab810" filter="url(#b30)"/>
<path d="M10.0,115.0 L60.0,108.0 L100.0,125.0 L110.0,150.0 L95.0,170.0 L50.0,178.0 L20.0,170.0 Z" fill="#30a020" filter="url(#s30_43)"/>
<path d="M40.0,150.0 L95.0,140.0 L100.0,170.0 L45.0,175.0 Z" fill="#3a8a2a" filter="url(#s25_45)"/>
<path d="M60.0,162.0 L85.0,160.0 L85.0,172.0 L60.0,172.0 Z" fill="#98e8f5" filter="url(#s25_46)"/>
<path d="M125.0,55.0 L140.0,55.0 L140.0,92.0 L125.0,92.0 Z" fill="#6ab810" filter="url(#s50_47)"/>
<path d="M100.0,95.0 L115.0,95.0 L115.0,110.0 L100.0,110.0 Z" fill="#f0a800" filter="url(#s30_44)"/>
<path d="M124.0,-3.0 L147.0,-3.0 L147.0,40.0 L140.0,38.0 L128.0,32.0 L115.0,36.0 Z" fill="#ffff00" filter="url(#s50_48)"/>
<path d="M147.0,8.0 L160.0,8.0 L160.0,38.0 L147.0,38.0 Z" fill="#ffd800" filter="url(#b14)"/>
<path d="M136.0,42.0 L160.0,42.0 L160.0,72.0 L136.0,72.0 Z" fill="#ffff00" filter="url(#b14)"/>
<path d="M136.0,42.0 L160.0,42.0 L160.0,72.0 L136.0,72.0 Z" fill="#6ab810" filter="url(#s30_52)"/>
<path d="M128.0,91.0 L160.0,91.0 L160.0,195.0 L85.0,195.0 L95.0,182.0 L112.0,176.0 L126.0,168.0 L129.0,150.0 L131.0,130.0 L130.0,112.0 L129.0,104.0 Z" fill="#ffd800" filter="url(#b14)"/>
<path d="M128.0,91.0 L160.0,91.0 L160.0,195.0 L85.0,195.0 L95.0,182.0 L112.0,176.0 L126.0,168.0 L129.0,150.0 L131.0,130.0 L130.0,112.0 L129.0,104.0 Z" fill="#f0a800" filter="url(#s40_49)"/>
<path d="M85.0,195.0 L95.0,184.0 L110.0,178.0 L125.0,174.0 L135.0,166.0 L160.0,150.0 L160.0,195.0 Z" fill="#30a020" filter="url(#b14)"/>
<path d="M110.0,195.0 L130.0,184.0 L145.0,174.0 L160.0,165.0 L160.0,195.0 Z" fill="#7ba0f0" filter="url(#b14)"/>
<path d="M140.0,178.0 L160.0,170.0 L160.0,195.0 L135.0,195.0 Z" fill="#98e8f5" filter="url(#s50_50)"/>
<path d="M129.7,-10.0 L129.7,0.2 L129.0,7.0 L128.3,12.7 L126.1,19.8 L122.6,25.5 L118.3,31.2 L114.1,36.5 L111.5,41.0 L108.5,45.5 L103.0,53.3 L94.8,61.5 L86.7,69.5 L79.5,77.5 L72.6,84.8 L66.1,88.9 L63.0,90.2 L58.9,91.0 L55.5,90.6 L53.0,89.5 L52.4,86.8 L51.6,84.4 L50.2,86.2 L48.8,87.6" fill="none" stroke="#ffff00" stroke-width="6" stroke-linejoin="round" stroke-linecap="round" filter="url(#b8)"/>
<path d="M129.7,-10.0 L129.7,0.2 L129.0,7.0 L128.3,12.7 L126.1,19.8 L122.6,25.5 L118.3,31.2 L114.1,36.5 L111.5,41.0 L108.5,45.5 L103.0,53.3 L94.8,61.5 L86.7,69.5 L79.5,77.5 L72.6,84.8 L66.1,88.9 L63.0,90.2 L58.9,91.0 L55.5,90.6 L53.0,89.5 L52.4,86.8 L51.6,84.4 L50.2,86.2 L48.8,87.6" fill="none" stroke="#f0a800" stroke-width="2" stroke-linejoin="round" stroke-linecap="round" filter="url(#b8)"/>
<path d="M48.8,87.6 L48.2,85.5 L47.2,83.6 L45.5,86.2 L42.5,88.6 L37.7,92.1 L33.6,95.4 L29.5,99.4 L27.1,104.0 L26.3,107.5 L23.8,112.4 L19.0,116.4 L12.5,120.5 L6.8,123.7 L5.2,127.8 L6.8,131.0 L10.8,133.4 L14.9,139.1 L18.1,146.4 L21.4,152.9 L23.8,159.4 L24.6,165.8 L24.2,171.0 L22.2,174.0 L17.3,175.6 L10.8,177.2 L4.4,178.8 L1.1,180.4 L-10.0,181.0" fill="none" stroke="#ffff00" stroke-width="4" stroke-linejoin="round" stroke-linecap="round" filter="url(#b8)"/>
<path d="M48.8,87.6 L48.2,85.5 L47.2,83.6 L45.5,86.2 L42.5,88.6 L37.7,92.1 L33.6,95.4 L29.5,99.4 L27.1,104.0 L26.3,107.5 L23.8,112.4 L19.0,116.4 L12.5,120.5 L6.8,123.7 L5.2,127.8 L6.8,131.0 L10.8,133.4 L14.9,139.1 L18.1,146.4 L21.4,152.9 L23.8,159.4 L24.6,165.8 L24.2,171.0 L22.2,174.0 L17.3,175.6 L10.8,177.2 L4.4,178.8 L1.1,180.4 L-10.0,181.0" fill="none" stroke="#f08000" stroke-width="1.6" stroke-linejoin="round" stroke-linecap="round" filter="url(#b8)"/>
<path d="M144.7,-5.0 L144.7,7.0 L144.0,14.1 L143.3,17.0 L144.7,21.2 L144.0,26.9 L144.0,34.0 L144.7,39.7 L146.1,44.0 L147.5,45.4 L149.7,44.0 L151.8,43.2 L153.2,42.5 L160.0,42.5" fill="none" stroke="#ffd800" stroke-width="5.0" stroke-linejoin="round" stroke-linecap="round" filter="url(#b8)"/>
<path d="M160.0,14.1 L153.2,14.1 L151.1,17.0 L149.7,22.6 L149.7,28.3 L150.4,32.6 L152.5,34.7 L160.0,35.4" fill="none" stroke="#f08000" stroke-width="2" stroke-linejoin="round" stroke-linecap="round" filter="url(#b8)"/>
<path d="M138.1,112.5 L136.0,111.3 L134.6,108.5 L128.9,109.2 L127.7,110.3 L125.2,116.8 L124.4,123.3 L124.4,128.2 L121.9,134.7 L119.5,141.2 L115.4,146.1 L109.7,147.7 L103.2,149.3 L98.4,150.9 L97.2,150.0 L95.6,149.8 L95.0,151.6 L95.9,153.4 L94.3,157.4 L90.2,160.7 L87.0,165.6 L83.7,168.8 L78.5,168.5 L72.9,169.1 L64.0,170.2 L56.2,170.8 L50.6,175.8 L43.9,181.4 L37.2,186.4 L36.0,192.0" fill="none" stroke="#ffff00" stroke-width="3.0" stroke-linejoin="round" stroke-linecap="round" filter="url(#b8)"/>
<path d="M138.1,112.5 L136.0,111.3 L134.6,108.5 L128.9,109.2 L127.7,110.3 L125.2,116.8 L124.4,123.3 L124.4,128.2 L121.9,134.7 L119.5,141.2 L115.4,146.1 L109.7,147.7 L103.2,149.3 L98.4,150.9 L97.2,150.0 L95.6,149.8 L95.0,151.6 L95.9,153.4 L94.3,157.4 L90.2,160.7 L87.0,165.6 L83.7,168.8 L78.5,168.5 L72.9,169.1 L64.0,170.2 L56.2,170.8 L50.6,175.8 L43.9,181.4 L37.2,186.4 L36.0,192.0" fill="none" stroke="#f0a800" stroke-width="1.6" stroke-linejoin="round" stroke-linecap="round" filter="url(#b8)"/>
<path d="M138.1,112.5 L142.2,113.6 L143.0,120.1 L143.2,128.0 L143.0,136.3 L142.2,139.5 L137.3,142.8 L134.9,144.4 L133.3,149.3 L132.5,157.4 L130.9,163.9 L131.8,167.1 L130.5,169.8 L128.7,172.5 L126.0,175.1 L123.3,174.2 L122.4,172.5 L120.6,174.2 L118.0,174.2 L116.2,176.0 L114.4,179.6 L112.6,176.0 L109.9,176.9 L106.4,179.6 L102.8,179.6 L100.1,181.4 L96.6,182.3 L93.9,183.2 L91.2,185.0 L88.5,186.8 L88.0,192.0" fill="none" stroke="#f0a800" stroke-width="6" stroke-linejoin="round" stroke-linecap="round" filter="url(#b8)"/>
<path d="M-5.0,177.0 L10.0,176.0 L22.0,174.0 L28.0,180.0 L26.0,195.0 L-5.0,195.0 Z" fill="#ffff00" filter="url(#b14)"/>
<path d="M44,89.5 L47.2,83 L49,88.5 L51.6,83.8 L53.8,90.5 L48,91.5 Z" fill="#ffe000"/>
<path d="M46.5,86 L47.2,83 L48.2,86 Z M51,86 L51.6,83.8 L52.5,86.5 Z" fill="#f08000"/>
</g>
<path d="M-10.0,-10.0 L129.7,-10.0 L129.7,0.2 L129.0,7.0 L128.3,12.7 L126.1,19.8 L122.6,25.5 L118.3,31.2 L114.1,36.5 L111.5,41.0 L108.5,45.5 L103.0,53.3 L94.8,61.5 L86.7,69.5 L79.5,77.5 L72.6,84.8 L66.1,88.9 L63.0,90.2 L58.9,91.0 L55.5,90.6 L53.0,89.5 L52.4,86.8 L51.6,84.4 L50.2,86.2 L48.8,87.6 L48.2,85.5 L47.2,83.6 L45.5,86.2 L42.5,88.6 L37.7,92.1 L33.6,95.4 L29.5,99.4 L27.1,104.0 L26.3,107.5 L23.8,112.4 L19.0,116.4 L12.5,120.5 L6.8,123.7 L5.2,127.8 L6.8,131.0 L10.8,133.4 L14.9,139.1 L18.1,146.4 L21.4,152.9 L23.8,159.4 L24.6,165.8 L24.2,171.0 L22.2,174.0 L17.3,175.6 L10.8,177.2 L4.4,178.8 L1.1,180.4 L-10.0,181.0 Z M144.7,-10.0 L164.0,-10.0 L164.0,14.1 L153.2,14.1 L151.1,17.0 L149.7,22.6 L149.7,28.3 L150.4,32.6 L152.5,34.7 L164.0,35.4 L164.0,42.5 L153.2,42.5 L151.8,43.2 L149.7,44.0 L147.5,45.4 L146.1,44.0 L144.7,39.7 L144.0,34.0 L144.0,26.9 L144.7,21.2 L143.3,17.0 L144.0,14.1 L144.7,7.0 Z M141.0,60.2 L142.6,58.9 L144.7,59.6 L147.5,63.8 L150.4,66.7 L153.2,68.1 L164.0,68.1 L164.0,98.5 L153.0,98.5 L148.8,95.7 L143.1,92.9 L137.4,92.1 L131.8,92.1 L128.9,93.6 L130.3,95.7 L133.2,97.1 L134.6,100.0 L132.5,101.4 L130.3,104.2 L127.5,105.6 L124.6,104.2 L125.4,100.0 L123.9,95.7 L125.4,91.4 L128.9,88.6 L128.2,85.0 L131.0,85.0 L134.6,84.3 L135.3,81.5 L136.7,78.6 L138.9,73.0 L140.3,65.9 Z M127.7,110.3 L128.9,109.2 L134.6,108.5 L136.0,111.3 L138.1,112.5 L142.2,113.6 L143.0,120.1 L143.2,128.0 L143.0,136.3 L142.2,139.5 L137.3,142.8 L134.9,144.4 L133.3,149.3 L132.5,157.4 L130.9,163.9 L131.8,167.1 L130.5,169.8 L128.7,172.5 L126.0,175.1 L123.3,174.2 L122.4,172.5 L120.6,174.2 L118.0,174.2 L116.2,176.0 L114.4,179.6 L112.6,176.0 L109.9,176.9 L106.4,179.6 L102.8,179.6 L100.1,181.4 L96.6,182.3 L93.9,183.2 L91.2,185.0 L88.5,186.8 L88.0,197.0 L36.0,197.0 L37.2,186.4 L43.9,181.4 L50.6,175.8 L56.2,170.8 L64.0,170.2 L72.9,169.1 L78.5,168.5 L83.7,168.8 L87.0,165.6 L90.2,160.7 L94.3,157.4 L95.9,153.4 L95.0,151.6 L95.6,149.8 L97.2,150.0 L98.4,150.9 L103.2,149.3 L109.7,147.7 L115.4,146.1 L119.5,141.2 L121.9,134.7 L124.4,128.2 L124.4,123.3 L125.2,116.8 Z" fill="#dcdcdc" stroke="#444" stroke-width="0.5"/>
<ellipse cx="52.5" cy="186" rx="2.6" ry="1.6" fill="#ffd800" stroke="#3a2a20" stroke-width="0.45"/>
<ellipse cx="57.5" cy="185" rx="2" ry="1.4" fill="#f0a800" stroke="#3a2a20" stroke-width="0.45"/>
<ellipse cx="62.5" cy="184.3" rx="2.4" ry="1.7" fill="#ffe000" stroke="#3a2a20" stroke-width="0.45"/>
<ellipse cx="68" cy="183" rx="2.6" ry="2" fill="#f0a800" stroke="#3a2a20" stroke-width="0.45"/>
<ellipse cx="73" cy="181.8" rx="2.4" ry="1.9" fill="#ffd800" stroke="#3a2a20" stroke-width="0.45"/>
<ellipse cx="78" cy="181.3" rx="2.2" ry="1.7" fill="#f08000" stroke="#3a2a20" stroke-width="0.45"/>
<ellipse cx="76.5" cy="185.6" rx="1.8" ry="1.4" fill="#ffff00" stroke="#3a2a20" stroke-width="0.45"/>
<path d="M93,177.8 L95.5,177.2 L97.8,178.8 L98.2,181.2 L95.8,181.8 L93.6,181 Z" fill="#f08000" stroke="#3a2a20" stroke-width="0.4"/>
<ellipse cx="95.8" cy="179.6" rx="1.1" ry="0.9" fill="#652d88"/>
<path d="M121.6,170.4 L123.8,169.6 L124.8,172 L123.4,174 L122,173.2 Z" fill="#f04018" stroke="#3a2a20" stroke-width="0.4"/>
<path d="M50,59.8 C52,58.2 56,58.4 57.2,60.8 C58.2,63 56.2,64.8 55.8,66.6 C55.3,68.6 53.2,69.8 51.6,68.8 C50.4,67.8 51.6,65.6 50,64.6 C48.4,63.4 48.4,61 50,59.8 Z" fill="#dcdcdc" stroke="#222" stroke-width="0.75"/>
<ellipse cx="109.6" cy="143.7" rx="1.8" ry="2.6" fill="#dcdcdc" stroke="#333" stroke-width="0.5"/>
<circle cx="59.5" cy="164" r="1.2" fill="#333"/>
<ellipse cx="22.6" cy="182.5" rx="1.3" ry="2" fill="#cfcfcf" stroke="#333" stroke-width="0.5"/>
<circle cx="1.5" cy="181.5" r="1.2" fill="#5a3a2a"/>
<circle cx="4.5" cy="179.8" r="0.9" fill="#c04020"/>
<circle cx="7" cy="179.5" r="1.3" fill="#4a3a30"/>
<circle cx="10.5" cy="178.2" r="0.8" fill="#7a4a3a"/>
<circle cx="12.5" cy="178.8" r="1.1" fill="#4a3a30"/>
<circle cx="15.8" cy="177.4" r="1.2" fill="#5a4a40"/>
<circle cx="18.6" cy="177" r="0.8" fill="#c05030"/>
<circle cx="3" cy="183" r="0.8" fill="#4a3a30"/>
<path d="M18.5,79 L20.5,76.5" stroke="#222" stroke-width="1"/>
<path d="M1.5,82.5 L3,81" stroke="#222" stroke-width="0.8"/>
<circle cx="133.5" cy="116.8" r="0.65" fill="#555"/>
<circle cx="130.9" cy="125.7" r="0.65" fill="#555"/>
<circle cx="125.2" cy="150" r="0.65" fill="#555"/>
<circle cx="119.5" cy="158.1" r="0.65" fill="#555"/>
<circle cx="106.5" cy="165.5" r="0.65" fill="#555"/>
<circle cx="140.5" cy="77" r="0.65" fill="#555"/>
<circle cx="146" cy="82" r="0.65" fill="#555"/>
<circle cx="50.6" cy="30.2" r="0.55" fill="#444"/>
<circle cx="55.5" cy="27.8" r="0.55" fill="#444"/>
<circle cx="60.4" cy="25.3" r="0.55" fill="#444"/>
<circle cx="64" cy="23.8" r="0.55" fill="#444"/>
<circle cx="68.2" cy="22.4" r="0.55" fill="#444"/>
<circle cx="77.9" cy="18.5" r="0.55" fill="#444"/>
<circle cx="81.8" cy="19.5" r="0.55" fill="#444"/>
<circle cx="86.7" cy="16.6" r="0.55" fill="#444"/>
<circle cx="89" cy="15" r="0.55" fill="#444"/>
<circle cx="91.5" cy="13.6" r="0.55" fill="#444"/>
<circle cx="95.4" cy="5.8" r="0.55" fill="#444"/>
<circle cx="97.4" cy="3.9" r="0.55" fill="#444"/>
</g>
<rect x="0.5" y="0.5" width="153.2" height="186.5" fill="none" stroke="#8a8a8a" stroke-width="1.2"/>
<path d="M10.2,0.5 H29.8 M10.2,187.0 H29.8" stroke="#222" stroke-width="1.3"/>
<path d="M48.5,0.5 H68 M48.5,187.0 H68" stroke="#222" stroke-width="1.3"/>
<path d="M86.8,0.5 H106.3 M86.8,187.0 H106.3" stroke="#222" stroke-width="1.3"/>
<path d="M125.1,0.5 H145.4 M125.1,187.0 H145.4" stroke="#222" stroke-width="1.3"/>
<path d="M0.5,0 V26.7 M153.7,0 V26.7" stroke="#222" stroke-width="1.3"/>
<path d="M0.5,52.2 V75.7 M153.7,52.2 V75.7" stroke="#222" stroke-width="1.3"/>
<path d="M0.5,99.2 V121.7 M153.7,99.2 V121.7" stroke="#222" stroke-width="1.3"/>
<path d="M0.5,144.7 V167.7 M153.7,144.7 V167.7" stroke="#222" stroke-width="1.3"/>
<text transform="translate(9.0,20.4) scale(1.078,1)" class="ttl">May</text>
<text x="30.2" y="201.5" class="lon">130E</text>
<text x="68.2" y="201.5" class="lon">134E</text>
<text x="106.2" y="201.5" class="lon">138E</text>
<text x="144.2" y="201.5" class="lon">142E</text>
</g><g transform="translate(844.50,14.30)">
<g clip-path="url(#clp)">
<g filter="url(#soft)">
<path d="M-5.0,-5.0 L160.0,-5.0 L160.0,195.0 L-5.0,195.0 Z" fill="#98e8f5"/>
<path d="M20.0,125.0 L60.0,120.0 L60.0,170.0 L25.0,175.0 Z" fill="#7ba0f0" filter="url(#s30_56)"/>
<path d="M57.0,125.0 L70.0,118.0 L90.0,112.0 L110.0,110.0 L122.0,114.0 L124.0,135.0 L118.0,150.0 L100.0,160.0 L80.0,162.0 L60.0,160.0 L52.0,145.0 Z" fill="#7ba0f0" filter="url(#b15)"/>
<path d="M10.0,95.0 L25.0,92.0 L40.0,96.0 L57.0,108.0 L75.0,112.0 L88.0,115.0 L99.5,107.0 L108.0,100.0 L115.0,96.0 L122.0,86.0 L126.0,80.0 L132.0,68.0 L136.0,58.0 L146.0,50.0 L146.0,-3.0 L120.0,-3.0 L80.0,40.0 L30.0,85.0 Z" fill="#3a8a2a" filter="url(#b12)"/>
<path d="M10.0,95.0 L25.0,92.0 L40.0,96.0 L57.0,108.0 L75.0,112.0 L88.0,115.0 L99.5,107.0 L108.0,100.0 L115.0,96.0 L122.0,86.0 L126.0,80.0 L132.0,68.0 L136.0,58.0 L146.0,50.0 L146.0,-3.0 L120.0,-3.0 L80.0,40.0 L30.0,85.0 Z" fill="#30a020" filter="url(#s30_52)"/>
<path d="M50.0,97.0 L80.0,85.0 L105.0,58.0 L120.0,30.0 L140.0,25.0 L140.0,55.0 L125.0,75.0 L110.0,95.0 L95.0,108.0 L70.0,106.0 Z" fill="#2e5a35" filter="url(#s45_57)"/>
<path d="M117.0,31.0 L140.0,28.0 L140.0,58.0 L125.0,58.0 L115.0,45.0 Z" fill="#2e5a35" filter="url(#b15)"/>
<path d="M84.0,100.0 L100.0,96.0 L103.0,110.0 L88.0,115.0 Z" fill="#2e5a35" filter="url(#s60_58)"/>
<path d="M124.0,-3.0 L147.0,-3.0 L147.0,40.0 L140.0,38.0 L128.0,32.0 L115.0,36.0 Z" fill="#30a020" filter="url(#b14)"/>
<path d="M124.0,-3.0 L147.0,-3.0 L147.0,40.0 L140.0,38.0 L128.0,32.0 L115.0,36.0 Z" fill="#6ab810" filter="url(#s40_53)"/>
<path d="M147.0,8.0 L160.0,8.0 L160.0,38.0 L147.0,38.0 Z" fill="#ffd800" filter="url(#b14)"/>
<path d="M136.0,42.0 L160.0,42.0 L160.0,72.0 L136.0,72.0 Z" fill="#6ab810" filter="url(#b14)"/>
<path d="M136.0,42.0 L160.0,42.0 L160.0,72.0 L136.0,72.0 Z" fill="#30a020" filter="url(#s40_59)"/>
<path d="M128.0,91.0 L160.0,91.0 L160.0,195.0 L85.0,195.0 L95.0,182.0 L112.0,176.0 L126.0,168.0 L129.0,150.0 L131.0,130.0 L130.0,112.0 L129.0,104.0 Z" fill="#6ab810" filter="url(#b14)"/>
<path d="M128.0,91.0 L160.0,91.0 L160.0,195.0 L85.0,195.0 L95.0,182.0 L112.0,176.0 L126.0,168.0 L129.0,150.0 L131.0,130.0 L130.0,112.0 L129.0,104.0 Z" fill="#30a020" filter="url(#s40_55)"/>
<path d="M85.0,195.0 L95.0,184.0 L110.0,178.0 L125.0,174.0 L135.0,166.0 L160.0,150.0 L160.0,195.0 Z" fill="#7ba0f0" filter="url(#b14)"/>
<path d="M110.0,195.0 L130.0,184.0 L145.0,174.0 L160.0,165.0 L160.0,195.0 Z" fill="#5058e0" filter="url(#b14)"/>
<path d="M145.0,182.0 L160.0,176.0 L160.0,195.0 L140.0,195.0 Z" fill="#652d88" filter="url(#b14)"/>
<path d="M129.7,-10.0 L129.7,0.2 L129.0,7.0 L128.3,12.7 L126.1,19.8 L122.6,25.5 L118.3,31.2 L114.1,36.5 L111.5,41.0 L108.5,45.5 L103.0,53.3 L94.8,61.5 L86.7,69.5 L79.5,77.5 L72.6,84.8 L66.1,88.9 L63.0,90.2 L58.9,91.0 L55.5,90.6 L53.0,89.5 L52.4,86.8 L51.6,84.4 L50.2,86.2 L48.8,87.6" fill="none" stroke="#30a020" stroke-width="8" stroke-linejoin="round" stroke-linecap="round" filter="url(#b8)"/>
<path d="M129.7,-10.0 L129.7,0.2 L129.0,7.0 L128.3,12.7 L126.1,19.8 L122.6,25.5 L118.3,31.2 L114.1,36.5 L111.5,41.0 L108.5,45.5 L103.0,53.3 L94.8,61.5 L86.7,69.5 L79.5,77.5 L72.6,84.8 L66.1,88.9 L63.0,90.2 L58.9,91.0 L55.5,90.6 L53.0,89.5 L52.4,86.8 L51.6,84.4 L50.2,86.2 L48.8,87.6" fill="none" stroke="#6ab810" stroke-width="4" stroke-linejoin="round" stroke-linecap="round" filter="url(#b8)"/>
<path d="M129.7,-10.0 L129.7,0.2 L129.0,7.0 L128.3,12.7 L126.1,19.8 L122.6,25.5 L118.3,31.2 L114.1,36.5 L111.5,41.0 L108.5,45.5 L103.0,53.3 L94.8,61.5 L86.7,69.5 L79.5,77.5 L72.6,84.8 L66.1,88.9 L63.0,90.2 L58.9,91.0 L55.5,90.6 L53.0,89.5 L52.4,86.8 L51.6,84.4 L50.2,86.2 L48.8,87.6" fill="none" stroke="#ffff00" stroke-width="1.6" stroke-linejoin="round" stroke-linecap="round" filter="url(#b8)"/>
<path d="M48.8,87.6 L48.2,85.5 L47.2,83.6 L45.5,86.2 L42.5,88.6 L37.7,92.1 L33.6,95.4 L29.5,99.4 L27.1,104.0 L26.3,107.5 L23.8,112.4 L19.0,116.4 L12.5,120.5 L6.8,123.7 L5.2,127.8 L6.8,131.0 L10.8,133.4 L14.9,139.1 L18.1,146.4 L21.4,152.9 L23.8,159.4 L24.6,165.8 L24.2,171.0 L22.2,174.0 L17.3,175.6 L10.8,177.2 L4.4,178.8 L1.1,180.4 L-10.0,181.0" fill="none" stroke="#3a8a2a" stroke-width="8" stroke-linejoin="round" stroke-linecap="round" filter="url(#b8)"/>
<path d="M48.8,87.6 L48.2,85.5 L47.2,83.6 L45.5,86.2 L42.5,88.6 L37.7,92.1 L33.6,95.4 L29.5,99.4 L27.1,104.0 L26.3,107.5 L23.8,112.4 L19.0,116.4 L12.5,120.5 L6.8,123.7 L5.2,127.8 L6.8,131.0 L10.8,133.4 L14.9,139.1 L18.1,146.4 L21.4,152.9 L23.8,159.4 L24.6,165.8 L24.2,171.0 L22.2,174.0 L17.3,175.6 L10.8,177.2 L4.4,178.8 L1.1,180.4 L-10.0,181.0" fill="none" stroke="#30a020" stroke-width="4" stroke-linejoin="round" stroke-linecap="round" filter="url(#b8)"/>
<path d="M48.8,87.6 L48.2,85.5 L47.2,83.6 L45.5,86.2 L42.5,88.6 L37.7,92.1 L33.6,95.4 L29.5,99.4 L27.1,104.0 L26.3,107.5 L23.8,112.4 L19.0,116.4 L12.5,120.5 L6.8,123.7 L5.2,127.8 L6.8,131.0 L10.8,133.4 L14.9,139.1 L18.1,146.4 L21.4,152.9 L23.8,159.4 L24.6,165.8 L24.2,171.0 L22.2,174.0 L17.3,175.6 L10.8,177.2 L4.4,178.8 L1.1,180.4 L-10.0,181.0" fill="none" stroke="#ffff00" stroke-width="1.6" stroke-linejoin="round" stroke-linecap="round" filter="url(#b8)"/>
<path d="M144.7,-5.0 L144.7,7.0 L144.0,14.1 L143.3,17.0 L144.7,21.2 L144.0,26.9 L144.0,34.0 L144.7,39.7 L146.1,44.0 L147.5,45.4 L149.7,44.0 L151.8,43.2 L153.2,42.5 L160.0,42.5" fill="none" stroke="#6ab810" stroke-width="5.0" stroke-linejoin="round" stroke-linecap="round" filter="url(#b8)"/>
<path d="M160.0,14.1 L153.2,14.1 L151.1,17.0 L149.7,22.6 L149.7,28.3 L150.4,32.6 L152.5,34.7 L160.0,35.4" fill="none" stroke="#f08000" stroke-width="2" stroke-linejoin="round" stroke-linecap="round" filter="url(#b8)"/>
<path d="M138.1,112.5 L136.0,111.3 L134.6,108.5 L128.9,109.2 L127.7,110.3 L125.2,116.8 L124.4,123.3 L124.4,128.2 L121.9,134.7 L119.5,141.2 L115.4,146.1 L109.7,147.7 L103.2,149.3 L98.4,150.9 L97.2,150.0 L95.6,149.8 L95.0,151.6 L95.9,153.4 L94.3,157.4 L90.2,160.7 L87.0,165.6 L83.7,168.8 L78.5,168.5 L72.9,169.1 L64.0,170.2 L56.2,170.8 L50.6,175.8 L43.9,181.4 L37.2,186.4 L36.0,192.0" fill="none" stroke="#30a020" stroke-width="5.0" stroke-linejoin="round" stroke-linecap="round" filter="url(#b8)"/>
<path d="M138.1,112.5 L136.0,111.3 L134.6,108.5 L128.9,109.2 L127.7,110.3 L125.2,116.8 L124.4,123.3 L124.4,128.2 L121.9,134.7 L119.5,141.2 L115.4,146.1 L109.7,147.7 L103.2,149.3 L98.4,150.9 L97.2,150.0 L95.6,149.8 L95.0,151.6 L95.9,153.4 L94.3,157.4 L90.2,160.7 L87.0,165.6 L83.7,168.8 L78.5,168.5 L72.9,169.1 L64.0,170.2 L56.2,170.8 L50.6,175.8 L43.9,181.4 L37.2,186.4 L36.0,192.0" fill="none" stroke="#ffff00" stroke-width="1.6" stroke-linejoin="round" stroke-linecap="round" filter="url(#b8)"/>
<path d="M138.1,112.5 L142.2,113.6 L143.0,120.1 L143.2,128.0 L143.0,136.3 L142.2,139.5 L137.3,142.8 L134.9,144.4 L133.3,149.3 L132.5,157.4 L130.9,163.9 L131.8,167.1 L130.5,169.8 L128.7,172.5 L126.0,175.1 L123.3,174.2 L122.4,172.5 L120.6,174.2 L118.0,174.2 L116.2,176.0 L114.4,179.6 L112.6,176.0 L109.9,176.9 L106.4,179.6 L102.8,179.6 L100.1,181.4 L96.6,182.3 L93.9,183.2 L91.2,185.0 L88.5,186.8 L88.0,192.0" fill="none" stroke="#ffff00" stroke-width="4" stroke-linejoin="round" stroke-linecap="round" filter="url(#b8)"/>
<path d="M160.0,68.1 L153.2,68.1 L150.4,66.7 L147.5,63.8 L144.7,59.6 L142.6,58.9 L141.0,60.2 L140.3,65.9 L138.9,73.0 L136.7,78.6 L135.3,81.5 L134.6,84.3 L131.0,85.0 L128.2,85.0 L128.9,88.6 L125.4,91.4 L123.9,95.7 L125.4,100.0 L124.6,104.2 L127.5,105.6" fill="none" stroke="#30a020" stroke-width="6" stroke-linejoin="round" stroke-linecap="round" filter="url(#b8)"/>
<path d="M-5.0,177.0 L10.0,176.0 L22.0,174.0 L28.0,180.0 L26.0,195.0 L-5.0,195.0 Z" fill="#ffff00" filter="url(#b14)"/>
<path d="M44,89.5 L47.2,83 L49,88.5 L51.6,83.8 L53.8,90.5 L48,91.5 Z" fill="#ffe000"/>
<path d="M46.5,86 L47.2,83 L48.2,86 Z M51,86 L51.6,83.8 L52.5,86.5 Z" fill="#f08000"/>
</g>
<path d="M-10.0,-10.0 L129.7,-10.0 L129.7,0.2 L129.0,7.0 L128.3,12.7 L126.1,19.8 L122.6,25.5 L118.3,31.2 L114.1,36.5 L111.5,41.0 L108.5,45.5 L103.0,53.3 L94.8,61.5 L86.7,69.5 L79.5,77.5 L72.6,84.8 L66.1,88.9 L63.0,90.2 L58.9,91.0 L55.5,90.6 L53.0,89.5 L52.4,86.8 L51.6,84.4 L50.2,86.2 L48.8,87.6 L48.2,85.5 L47.2,83.6 L45.5,86.2 L42.5,88.6 L37.7,92.1 L33.6,95.4 L29.5,99.4 L27.1,104.0 L26.3,107.5 L23.8,112.4 L19.0,116.4 L12.5,120.5 L6.8,123.7 L5.2,127.8 L6.8,131.0 L10.8,133.4 L14.9,139.1 L18.1,146.4 L21.4,152.9 L23.8,159.4 L24.6,165.8 L24.2,171.0 L22.2,174.0 L17.3,175.6 L10.8,177.2 L4.4,178.8 L1.1,180.4 L-10.0,181.0 Z M144.7,-10.0 L164.0,-10.0 L164.0,14.1 L153.2,14.1 L151.1,17.0 L149.7,22.6 L149.7,28.3 L150.4,32.6 L152.5,34.7 L164.0,35.4 L164.0,42.5 L153.2,42.5 L151.8,43.2 L149.7,44.0 L147.5,45.4 L146.1,44.0 L144.7,39.7 L144.0,34.0 L144.0,26.9 L144.7,21.2 L143.3,17.0 L144.0,14.1 L144.7,7.0 Z M141.0,60.2 L142.6,58.9 L144.7,59.6 L147.5,63.8 L150.4,66.7 L153.2,68.1 L164.0,68.1 L164.0,98.5 L153.0,98.5 L148.8,95.7 L143.1,92.9 L137.4,92.1 L131.8,92.1 L128.9,93.6 L130.3,95.7 L133.2,97.1 L134.6,100.0 L132.5,101.4 L130.3,104.2 L127.5,105.6 L124.6,104.2 L125.4,100.0 L123.9,95.7 L125.4,91.4 L128.9,88.6 L128.2,85.0 L131.0,85.0 L134.6,84.3 L135.3,81.5 L136.7,78.6 L138.9,73.0 L140.3,65.9 Z M127.7,110.3 L128.9,109.2 L134.6,108.5 L136.0,111.3 L138.1,112.5 L142.2,113.6 L143.0,120.1 L143.2,128.0 L143.0,136.3 L142.2,139.5 L137.3,142.8 L134.9,144.4 L133.3,149.3 L132.5,157.4 L130.9,163.9 L131.8,167.1 L130.5,169.8 L128.7,172.5 L126.0,175.1 L123.3,174.2 L122.4,172.5 L120.6,174.2 L118.0,174.2 L116.2,176.0 L114.4,179.6 L112.6,176.0 L109.9,176.9 L106.4,179.6 L102.8,179.6 L100.1,181.4 L96.6,182.3 L93.9,183.2 L91.2,185.0 L88.5,186.8 L88.0,197.0 L36.0,197.0 L37.2,186.4 L43.9,181.4 L50.6,175.8 L56.2,170.8 L64.0,170.2 L72.9,169.1 L78.5,168.5 L83.7,168.8 L87.0,165.6 L90.2,160.7 L94.3,157.4 L95.9,153.4 L95.0,151.6 L95.6,149.8 L97.2,150.0 L98.4,150.9 L103.2,149.3 L109.7,147.7 L115.4,146.1 L119.5,141.2 L121.9,134.7 L124.4,128.2 L124.4,123.3 L125.2,116.8 Z" fill="#dcdcdc" stroke="#444" stroke-width="0.5"/>
<ellipse cx="52.5" cy="186" rx="2.6" ry="1.6" fill="#ffd800" stroke="#3a2a20" stroke-width="0.45"/>
<ellipse cx="57.5" cy="185" rx="2" ry="1.4" fill="#f0a800" stroke="#3a2a20" stroke-width="0.45"/>
<ellipse cx="62.5" cy="184.3" rx="2.4" ry="1.7" fill="#ffe000" stroke="#3a2a20" stroke-width="0.45"/>
<ellipse cx="68" cy="183" rx="2.6" ry="2" fill="#f0a800" stroke="#3a2a20" stroke-width="0.45"/>
<ellipse cx="73" cy="181.8" rx="2.4" ry="1.9" fill="#ffd800" stroke="#3a2a20" stroke-width="0.45"/>
<ellipse cx="78" cy="181.3" rx="2.2" ry="1.7" fill="#f08000" stroke="#3a2a20" stroke-width="0.45"/>
<ellipse cx="76.5" cy="185.6" rx="1.8" ry="1.4" fill="#ffff00" stroke="#3a2a20" stroke-width="0.45"/>
<path d="M93,177.8 L95.5,177.2 L97.8,178.8 L98.2,181.2 L95.8,181.8 L93.6,181 Z" fill="#f08000" stroke="#3a2a20" stroke-width="0.4"/>
<ellipse cx="95.8" cy="179.6" rx="1.1" ry="0.9" fill="#652d88"/>
<path d="M121.6,170.4 L123.8,169.6 L124.8,172 L123.4,174 L122,173.2 Z" fill="#f04018" stroke="#3a2a20" stroke-width="0.4"/>
<path d="M50,59.8 C52,58.2 56,58.4 57.2,60.8 C58.2,63 56.2,64.8 55.8,66.6 C55.3,68.6 53.2,69.8 51.6,68.8 C50.4,67.8 51.6,65.6 50,64.6 C48.4,63.4 48.4,61 50,59.8 Z" fill="#dcdcdc" stroke="#222" stroke-width="0.75"/>
<ellipse cx="109.6" cy="143.7" rx="1.8" ry="2.6" fill="#dcdcdc" stroke="#333" stroke-width="0.5"/>
<circle cx="59.5" cy="164" r="1.2" fill="#333"/>
<ellipse cx="22.6" cy="182.5" rx="1.3" ry="2" fill="#cfcfcf" stroke="#333" stroke-width="0.5"/>
<circle cx="1.5" cy="181.5" r="1.2" fill="#5a3a2a"/>
<circle cx="4.5" cy="179.8" r="0.9" fill="#c04020"/>
<circle cx="7" cy="179.5" r="1.3" fill="#4a3a30"/>
<circle cx="10.5" cy="178.2" r="0.8" fill="#7a4a3a"/>
<circle cx="12.5" cy="178.8" r="1.1" fill="#4a3a30"/>
<circle cx="15.8" cy="177.4" r="1.2" fill="#5a4a40"/>
<circle cx="18.6" cy="177" r="0.8" fill="#c05030"/>
<circle cx="3" cy="183" r="0.8" fill="#4a3a30"/>
<path d="M18.5,79 L20.5,76.5" stroke="#222" stroke-width="1"/>
<path d="M1.5,82.5 L3,81" stroke="#222" stroke-width="0.8"/>
<circle cx="133.5" cy="116.8" r="0.65" fill="#555"/>
<circle cx="130.9" cy="125.7" r="0.65" fill="#555"/>
<circle cx="125.2" cy="150" r="0.65" fill="#555"/>
<circle cx="119.5" cy="158.1" r="0.65" fill="#555"/>
<circle cx="106.5" cy="165.5" r="0.65" fill="#555"/>
<circle cx="140.5" cy="77" r="0.65" fill="#555"/>
<circle cx="146" cy="82" r="0.65" fill="#555"/>
<circle cx="50.6" cy="30.2" r="0.55" fill="#444"/>
<circle cx="55.5" cy="27.8" r="0.55" fill="#444"/>
<circle cx="60.4" cy="25.3" r="0.55" fill="#444"/>
<circle cx="64" cy="23.8" r="0.55" fill="#444"/>
<circle cx="68.2" cy="22.4" r="0.55" fill="#444"/>
<circle cx="77.9" cy="18.5" r="0.55" fill="#444"/>
<circle cx="81.8" cy="19.5" r="0.55" fill="#444"/>
<circle cx="86.7" cy="16.6" r="0.55" fill="#444"/>
<circle cx="89" cy="15" r="0.55" fill="#444"/>
<circle cx="91.5" cy="13.6" r="0.55" fill="#444"/>
<circle cx="95.4" cy="5.8" r="0.55" fill="#444"/>
<circle cx="97.4" cy="3.9" r="0.55" fill="#444"/>
</g>
<rect x="0.5" y="0.5" width="153.2" height="186.5" fill="none" stroke="#8a8a8a" stroke-width="1.2"/>
<path d="M10.2,0.5 H29.8 M10.2,187.0 H29.8" stroke="#222" stroke-width="1.3"/>
<path d="M48.5,0.5 H68 M48.5,187.0 H68" stroke="#222" stroke-width="1.3"/>
<path d="M86.8,0.5 H106.3 M86.8,187.0 H106.3" stroke="#222" stroke-width="1.3"/>
<path d="M125.1,0.5 H145.4 M125.1,187.0 H145.4" stroke="#222" stroke-width="1.3"/>
<path d="M0.5,0 V26.7 M153.7,0 V26.7" stroke="#222" stroke-width="1.3"/>
<path d="M0.5,52.2 V75.7 M153.7,52.2 V75.7" stroke="#222" stroke-width="1.3"/>
<path d="M0.5,99.2 V121.7 M153.7,99.2 V121.7" stroke="#222" stroke-width="1.3"/>
<path d="M0.5,144.7 V167.7 M153.7,144.7 V167.7" stroke="#222" stroke-width="1.3"/>
<text transform="translate(9.0,20.4) scale(1.078,1)" class="ttl">Jun</text>
<text x="30.2" y="201.5" class="lon">130E</text>
<text x="68.2" y="201.5" class="lon">134E</text>
<text x="106.2" y="201.5" class="lon">138E</text>
<text x="144.2" y="201.5" class="lon">142E</text>
</g><g transform="translate(29.50,225.50)">
<g clip-path="url(#clp)">
<g filter="url(#soft)">
<path d="M-5.0,-5.0 L160.0,-5.0 L160.0,195.0 L-5.0,195.0 Z" fill="#7ba0f0"/>
<path d="M129.7,-10.0 L129.7,0.2 L129.0,7.0 L128.3,12.7 L126.1,19.8 L122.6,25.5 L118.3,31.2 L114.1,36.5 L111.5,41.0 L108.5,45.5 L103.0,53.3 L94.8,61.5 L86.7,69.5 L79.5,77.5 L72.6,84.8 L66.1,88.9 L63.0,90.2 L58.9,91.0 L55.5,90.6 L53.0,89.5 L52.4,86.8 L51.6,84.4 L50.2,86.2 L48.8,87.6" fill="none" stroke="#98e8f5" stroke-width="34" stroke-linejoin="round" stroke-linecap="round" filter="url(#s30_67)"/>
<path d="M48.8,87.6 L48.2,85.5 L47.2,83.6 L45.5,86.2 L42.5,88.6 L37.7,92.1 L33.6,95.4 L29.5,99.4 L27.1,104.0 L26.3,107.5 L23.8,112.4 L19.0,116.4 L12.5,120.5 L6.8,123.7 L5.2,127.8 L6.8,131.0 L10.8,133.4 L14.9,139.1 L18.1,146.4 L21.4,152.9 L23.8,159.4 L24.6,165.8 L24.2,171.0 L22.2,174.0 L17.3,175.6 L10.8,177.2 L4.4,178.8 L1.1,180.4 L-10.0,181.0" fill="none" stroke="#98e8f5" stroke-width="48" stroke-linejoin="round" stroke-linecap="round" filter="url(#s30_68)"/>
<path d="M129.7,-10.0 L129.7,0.2 L129.0,7.0 L128.3,12.7 L126.1,19.8 L122.6,25.5 L118.3,31.2 L114.1,36.5 L111.5,41.0 L108.5,45.5 L103.0,53.3 L94.8,61.5 L86.7,69.5 L79.5,77.5 L72.6,84.8 L66.1,88.9 L63.0,90.2 L58.9,91.0 L55.5,90.6 L53.0,89.5 L52.4,86.8 L51.6,84.4 L50.2,86.2 L48.8,87.6" fill="none" stroke="#98e8f5" stroke-width="22" stroke-linejoin="round" stroke-linecap="round" filter="url(#b15)"/>
<path d="M48.8,87.6 L48.2,85.5 L47.2,83.6 L45.5,86.2 L42.5,88.6 L37.7,92.1 L33.6,95.4 L29.5,99.4 L27.1,104.0 L26.3,107.5 L23.8,112.4 L19.0,116.4 L12.5,120.5 L6.8,123.7 L5.2,127.8 L6.8,131.0 L10.8,133.4 L14.9,139.1 L18.1,146.4 L21.4,152.9 L23.8,159.4 L24.6,165.8 L24.2,171.0 L22.2,174.0 L17.3,175.6 L10.8,177.2 L4.4,178.8 L1.1,180.4 L-10.0,181.0" fill="none" stroke="#98e8f5" stroke-width="30" stroke-linejoin="round" stroke-linecap="round" filter="url(#b20)"/>
<path d="M118.0,30.0 L146.0,28.0 L146.0,62.0 L136.0,64.0 L126.0,52.0 Z" fill="#98e8f5" filter="url(#b20)"/>
<path d="M18.0,148.0 L42.0,146.0 L58.0,165.0 L56.0,192.0 L18.0,192.0 Z" fill="#98e8f5" filter="url(#b25)"/>
<path d="M30.0,100.0 L80.0,95.0 L85.0,105.0 L40.0,112.0 Z" fill="#98e8f5" filter="url(#s40_60)"/>
<path d="M138.1,112.5 L136.0,111.3 L134.6,108.5 L128.9,109.2 L127.7,110.3 L125.2,116.8 L124.4,123.3 L124.4,128.2 L121.9,134.7 L119.5,141.2 L115.4,146.1 L109.7,147.7 L103.2,149.3 L98.4,150.9 L97.2,150.0 L95.6,149.8 L95.0,151.6 L95.9,153.4 L94.3,157.4 L90.2,160.7 L87.0,165.6 L83.7,168.8 L78.5,168.5 L72.9,169.1 L64.0,170.2 L56.2,170.8 L50.6,175.8 L43.9,181.4 L37.2,186.4 L36.0,192.0" fill="none" stroke="#98e8f5" stroke-width="8" stroke-linejoin="round" stroke-linecap="round" filter="url(#b8)"/>
<path d="M124.0,-3.0 L147.0,-3.0 L147.0,40.0 L140.0,38.0 L128.0,32.0 L115.0,36.0 Z" fill="#30a020" filter="url(#b14)"/>
<path d="M127.0,-3.0 L147.0,-3.0 L146.0,22.0 L138.0,30.0 L126.0,22.0 Z" fill="#6ab810" filter="url(#s50_61)"/>
<ellipse cx="136" cy="25" rx="8" ry="7" fill="#2e5a35" filter="url(#b15)"/>
<path d="M97.0,52.0 L113.0,48.0 L113.0,62.0 L100.0,64.0 Z" fill="#2e5a35" filter="url(#s50_64)"/>
<path d="M48.8,87.6 L48.2,85.5 L47.2,83.6 L45.5,86.2 L42.5,88.6 L37.7,92.1 L33.6,95.4 L29.5,99.4 L27.1,104.0 L26.3,107.5 L23.8,112.4 L19.0,116.4 L12.5,120.5 L6.8,123.7 L5.2,127.8 L6.8,131.0 L10.8,133.4 L14.9,139.1 L18.1,146.4 L21.4,152.9 L23.8,159.4 L24.6,165.8 L24.2,171.0 L22.2,174.0 L17.3,175.6 L10.8,177.2 L4.4,178.8 L1.1,180.4 L-10.0,181.0" fill="none" stroke="#30a020" stroke-width="18" stroke-linejoin="round" stroke-linecap="round" filter="url(#s45_63)"/>
<path d="M48.8,87.6 L48.2,85.5 L47.2,83.6 L45.5,86.2 L42.5,88.6 L37.7,92.1 L33.6,95.4 L29.5,99.4 L27.1,104.0 L26.3,107.5 L23.8,112.4 L19.0,116.4 L12.5,120.5 L6.8,123.7 L5.2,127.8 L6.8,131.0 L10.8,133.4 L14.9,139.1 L18.1,146.4 L21.4,152.9 L23.8,159.4 L24.6,165.8 L24.2,171.0 L22.2,174.0 L17.3,175.6 L10.8,177.2 L4.4,178.8 L1.1,180.4 L-10.0,181.0" fill="none" stroke="#2e5a35" stroke-width="14" stroke-linejoin="round" stroke-linecap="round" filter="url(#s30_66)"/>
<path d="M128.0,91.0 L160.0,91.0 L160.0,195.0 L85.0,195.0 L95.0,182.0 L112.0,176.0 L126.0,168.0 L129.0,150.0 L131.0,130.0 L130.0,112.0 L129.0,104.0 Z" fill="#98e8f5" filter="url(#b14)"/>
<path d="M126.0,90.0 L160.0,90.0 L160.0,150.0 L140.0,150.0 Z" fill="#2e5a35" filter="url(#s60_65)"/>
<path d="M126.0,90.0 L160.0,90.0 L160.0,150.0 L140.0,150.0 Z" fill="#30a020" filter="url(#s25_69)"/>
<path d="M85.0,195.0 L95.0,184.0 L110.0,178.0 L125.0,174.0 L135.0,166.0 L160.0,150.0 L160.0,195.0 Z" fill="#7ba0f0" filter="url(#b14)"/>
<path d="M110.0,195.0 L130.0,184.0 L145.0,174.0 L160.0,165.0 L160.0,195.0 Z" fill="#652d88" filter="url(#b14)"/>
<path d="M147.0,8.0 L160.0,8.0 L160.0,38.0 L147.0,38.0 Z" fill="#6ab810" filter="url(#b14)"/>
<path d="M136.0,42.0 L160.0,42.0 L160.0,72.0 L136.0,72.0 Z" fill="#30a020" filter="url(#b14)"/>
<path d="M136.0,42.0 L160.0,42.0 L160.0,72.0 L136.0,72.0 Z" fill="#6ab810" filter="url(#s40_70)"/>
<path d="M129.7,-10.0 L129.7,0.2 L129.0,7.0 L128.3,12.7 L126.1,19.8 L122.6,25.5 L118.3,31.2 L114.1,36.5 L111.5,41.0 L108.5,45.5 L103.0,53.3 L94.8,61.5 L86.7,69.5 L79.5,77.5 L72.6,84.8 L66.1,88.9 L63.0,90.2 L58.9,91.0 L55.5,90.6 L53.0,89.5 L52.4,86.8 L51.6,84.4 L50.2,86.2 L48.8,87.6" fill="none" stroke="#2e5a35" stroke-width="6" stroke-linejoin="round" stroke-linecap="round" filter="url(#s60_62)"/>
<path d="M129.7,-10.0 L129.7,0.2 L129.0,7.0 L128.3,12.7 L126.1,19.8 L122.6,25.5 L118.3,31.2 L114.1,36.5 L111.5,41.0 L108.5,45.5 L103.0,53.3 L94.8,61.5 L86.7,69.5 L79.5,77.5 L72.6,84.8 L66.1,88.9 L63.0,90.2 L58.9,91.0 L55.5,90.6 L53.0,89.5 L52.4,86.8 L51.6,84.4 L50.2,86.2 L48.8,87.6" fill="none" stroke="#30a020" stroke-width="4" stroke-linejoin="round" stroke-linecap="round" filter="url(#b8)"/>
<path d="M129.7,-10.0 L129.7,0.2 L129.0,7.0 L128.3,12.7 L126.1,19.8 L122.6,25.5 L118.3,31.2 L114.1,36.5 L111.5,41.0 L108.5,45.5 L103.0,53.3 L94.8,61.5 L86.7,69.5 L79.5,77.5 L72.6,84.8 L66.1,88.9 L63.0,90.2 L58.9,91.0 L55.5,90.6 L53.0,89.5 L52.4,86.8 L51.6,84.4 L50.2,86.2 L48.8,87.6" fill="none" stroke="#ffff00" stroke-width="1.4" stroke-linejoin="round" stroke-linecap="round" filter="url(#b8)"/>
<path d="M48.8,87.6 L48.2,85.5 L47.2,83.6 L45.5,86.2 L42.5,88.6 L37.7,92.1 L33.6,95.4 L29.5,99.4 L27.1,104.0 L26.3,107.5 L23.8,112.4 L19.0,116.4 L12.5,120.5 L6.8,123.7 L5.2,127.8 L6.8,131.0 L10.8,133.4 L14.9,139.1 L18.1,146.4 L21.4,152.9 L23.8,159.4 L24.6,165.8 L24.2,171.0 L22.2,174.0 L17.3,175.6 L10.8,177.2 L4.4,178.8 L1.1,180.4 L-10.0,181.0" fill="none" stroke="#30a020" stroke-width="8" stroke-linejoin="round" stroke-linecap="round" filter="url(#b8)"/>
<path d="M48.8,87.6 L48.2,85.5 L47.2,83.6 L45.5,86.2 L42.5,88.6 L37.7,92.1 L33.6,95.4 L29.5,99.4 L27.1,104.0 L26.3,107.5 L23.8,112.4 L19.0,116.4 L12.5,120.5 L6.8,123.7 L5.2,127.8 L6.8,131.0 L10.8,133.4 L14.9,139.1 L18.1,146.4 L21.4,152.9 L23.8,159.4 L24.6,165.8 L24.2,171.0 L22.2,174.0 L17.3,175.6 L10.8,177.2 L4.4,178.8 L1.1,180.4 L-10.0,181.0" fill="none" stroke="#6ab810" stroke-width="4" stroke-linejoin="round" stroke-linecap="round" filter="url(#b8)"/>
<path d="M48.8,87.6 L48.2,85.5 L47.2,83.6 L45.5,86.2 L42.5,88.6 L37.7,92.1 L33.6,95.4 L29.5,99.4 L27.1,104.0 L26.3,107.5 L23.8,112.4 L19.0,116.4 L12.5,120.5 L6.8,123.7 L5.2,127.8 L6.8,131.0 L10.8,133.4 L14.9,139.1 L18.1,146.4 L21.4,152.9 L23.8,159.4 L24.6,165.8 L24.2,171.0 L22.2,174.0 L17.3,175.6 L10.8,177.2 L4.4,178.8 L1.1,180.4 L-10.0,181.0" fill="none" stroke="#ffff00" stroke-width="1.6" stroke-linejoin="round" stroke-linecap="round" filter="url(#b8)"/>
<path d="M144.7,-5.0 L144.7,7.0 L144.0,14.1 L143.3,17.0 L144.7,21.2 L144.0,26.9 L144.0,34.0 L144.7,39.7 L146.1,44.0 L147.5,45.4 L149.7,44.0 L151.8,43.2 L153.2,42.5 L160.0,42.5" fill="none" stroke="#30a020" stroke-width="6" stroke-linejoin="round" stroke-linecap="round" filter="url(#b8)"/>
<path d="M144.7,-5.0 L144.7,7.0 L144.0,14.1 L143.3,17.0 L144.7,21.2 L144.0,26.9 L144.0,34.0 L144.7,39.7 L146.1,44.0 L147.5,45.4 L149.7,44.0 L151.8,43.2 L153.2,42.5 L160.0,42.5" fill="none" stroke="#ffff00" stroke-width="2" stroke-linejoin="round" stroke-linecap="round" filter="url(#b8)"/>
<path d="M160.0,14.1 L153.2,14.1 L151.1,17.0 L149.7,22.6 L149.7,28.3 L150.4,32.6 L152.5,34.7 L160.0,35.4" fill="none" stroke="#f08000" stroke-width="2" stroke-linejoin="round" stroke-linecap="round" filter="url(#b8)"/>
<path d="M138.1,112.5 L136.0,111.3 L134.6,108.5 L128.9,109.2 L127.7,110.3 L125.2,116.8 L124.4,123.3 L124.4,128.2 L121.9,134.7 L119.5,141.2 L115.4,146.1 L109.7,147.7 L103.2,149.3 L98.4,150.9 L97.2,150.0 L95.6,149.8 L95.0,151.6 L95.9,153.4 L94.3,157.4 L90.2,160.7 L87.0,165.6 L83.7,168.8 L78.5,168.5 L72.9,169.1 L64.0,170.2 L56.2,170.8 L50.6,175.8 L43.9,181.4 L37.2,186.4 L36.0,192.0" fill="none" stroke="#30a020" stroke-width="5.0" stroke-linejoin="round" stroke-linecap="round" filter="url(#b8)"/>
<path d="M138.1,112.5 L136.0,111.3 L134.6,108.5 L128.9,109.2 L127.7,110.3 L125.2,116.8 L124.4,123.3 L124.4,128.2 L121.9,134.7 L119.5,141.2 L115.4,146.1 L109.7,147.7 L103.2,149.3 L98.4,150.9 L97.2,150.0 L95.6,149.8 L95.0,151.6 L95.9,153.4 L94.3,157.4 L90.2,160.7 L87.0,165.6 L83.7,168.8 L78.5,168.5 L72.9,169.1 L64.0,170.2 L56.2,170.8 L50.6,175.8 L43.9,181.4 L37.2,186.4 L36.0,192.0" fill="none" stroke="#6ab810" stroke-width="2.4" stroke-linejoin="round" stroke-linecap="round" filter="url(#b8)"/>
<path d="M138.1,112.5 L136.0,111.3 L134.6,108.5 L128.9,109.2 L127.7,110.3 L125.2,116.8 L124.4,123.3 L124.4,128.2 L121.9,134.7 L119.5,141.2 L115.4,146.1 L109.7,147.7 L103.2,149.3 L98.4,150.9 L97.2,150.0 L95.6,149.8 L95.0,151.6 L95.9,153.4 L94.3,157.4 L90.2,160.7 L87.0,165.6 L83.7,168.8 L78.5,168.5 L72.9,169.1 L64.0,170.2 L56.2,170.8 L50.6,175.8 L43.9,181.4 L37.2,186.4 L36.0,192.0" fill="none" stroke="#ffff00" stroke-width="1.4" stroke-linejoin="round" stroke-linecap="round" filter="url(#b8)"/>
<path d="M138.1,112.5 L142.2,113.6 L143.0,120.1 L143.2,128.0 L143.0,136.3 L142.2,139.5 L137.3,142.8 L134.9,144.4 L133.3,149.3 L132.5,157.4 L130.9,163.9 L131.8,167.1 L130.5,169.8 L128.7,172.5 L126.0,175.1 L123.3,174.2 L122.4,172.5 L120.6,174.2 L118.0,174.2 L116.2,176.0 L114.4,179.6 L112.6,176.0 L109.9,176.9 L106.4,179.6 L102.8,179.6 L100.1,181.4 L96.6,182.3 L93.9,183.2 L91.2,185.0 L88.5,186.8 L88.0,192.0" fill="none" stroke="#30a020" stroke-width="6" stroke-linejoin="round" stroke-linecap="round" filter="url(#b8)"/>
<path d="M138.1,112.5 L142.2,113.6 L143.0,120.1 L143.2,128.0 L143.0,136.3 L142.2,139.5 L137.3,142.8 L134.9,144.4 L133.3,149.3 L132.5,157.4 L130.9,163.9 L131.8,167.1 L130.5,169.8 L128.7,172.5 L126.0,175.1 L123.3,174.2 L122.4,172.5 L120.6,174.2 L118.0,174.2 L116.2,176.0 L114.4,179.6 L112.6,176.0 L109.9,176.9 L106.4,179.6 L102.8,179.6 L100.1,181.4 L96.6,182.3 L93.9,183.2 L91.2,185.0 L88.5,186.8 L88.0,192.0" fill="none" stroke="#ffff00" stroke-width="3.0" stroke-linejoin="round" stroke-linecap="round" filter="url(#b8)"/>
<path d="M138.1,112.5 L142.2,113.6 L143.0,120.1 L143.2,128.0 L143.0,136.3 L142.2,139.5 L137.3,142.8 L134.9,144.4 L133.3,149.3 L132.5,157.4 L130.9,163.9 L131.8,167.1 L130.5,169.8 L128.7,172.5 L126.0,175.1 L123.3,174.2 L122.4,172.5 L120.6,174.2 L118.0,174.2 L116.2,176.0 L114.4,179.6 L112.6,176.0 L109.9,176.9 L106.4,179.6 L102.8,179.6 L100.1,181.4 L96.6,182.3 L93.9,183.2 L91.2,185.0 L88.5,186.8 L88.0,192.0" fill="none" stroke="#f08000" stroke-width="1.6" stroke-linejoin="round" stroke-linecap="round" filter="url(#b8)"/>
<path d="M160.0,68.1 L153.2,68.1 L150.4,66.7 L147.5,63.8 L144.7,59.6 L142.6,58.9 L141.0,60.2 L140.3,65.9 L138.9,73.0 L136.7,78.6 L135.3,81.5 L134.6,84.3 L131.0,85.0 L128.2,85.0 L128.9,88.6 L125.4,91.4 L123.9,95.7 L125.4,100.0 L124.6,104.2 L127.5,105.6" fill="none" stroke="#30a020" stroke-width="6" stroke-linejoin="round" stroke-linecap="round" filter="url(#b8)"/>
<ellipse cx="6" cy="127" rx="2.5" ry="3.5" fill="#f04018"/>
<path d="M-5.0,177.0 L10.0,176.0 L22.0,174.0 L28.0,180.0 L26.0,195.0 L-5.0,195.0 Z" fill="#6ab810" filter="url(#b14)"/>
<path d="M44,89.5 L47.2,83 L49,88.5 L51.6,83.8 L53.8,90.5 L48,91.5 Z" fill="#ffe000"/>
<path d="M46.5,86 L47.2,83 L48.2,86 Z M51,86 L51.6,83.8 L52.5,86.5 Z" fill="#f08000"/>
</g>
<path d="M-10.0,-10.0 L129.7,-10.0 L129.7,0.2 L129.0,7.0 L128.3,12.7 L126.1,19.8 L122.6,25.5 L118.3,31.2 L114.1,36.5 L111.5,41.0 L108.5,45.5 L103.0,53.3 L94.8,61.5 L86.7,69.5 L79.5,77.5 L72.6,84.8 L66.1,88.9 L63.0,90.2 L58.9,91.0 L55.5,90.6 L53.0,89.5 L52.4,86.8 L51.6,84.4 L50.2,86.2 L48.8,87.6 L48.2,85.5 L47.2,83.6 L45.5,86.2 L42.5,88.6 L37.7,92.1 L33.6,95.4 L29.5,99.4 L27.1,104.0 L26.3,107.5 L23.8,112.4 L19.0,116.4 L12.5,120.5 L6.8,123.7 L5.2,127.8 L6.8,131.0 L10.8,133.4 L14.9,139.1 L18.1,146.4 L21.4,152.9 L23.8,159.4 L24.6,165.8 L24.2,171.0 L22.2,174.0 L17.3,175.6 L10.8,177.2 L4.4,178.8 L1.1,180.4 L-10.0,181.0 Z M144.7,-10.0 L164.0,-10.0 L164.0,14.1 L153.2,14.1 L151.1,17.0 L149.7,22.6 L149.7,28.3 L150.4,32.6 L152.5,34.7 L164.0,35.4 L164.0,42.5 L153.2,42.5 L151.8,43.2 L149.7,44.0 L147.5,45.4 L146.1,44.0 L144.7,39.7 L144.0,34.0 L144.0,26.9 L144.7,21.2 L143.3,17.0 L144.0,14.1 L144.7,7.0 Z M141.0,60.2 L142.6,58.9 L144.7,59.6 L147.5,63.8 L150.4,66.7 L153.2,68.1 L164.0,68.1 L164.0,98.5 L153.0,98.5 L148.8,95.7 L143.1,92.9 L137.4,92.1 L131.8,92.1 L128.9,93.6 L130.3,95.7 L133.2,97.1 L134.6,100.0 L132.5,101.4 L130.3,104.2 L127.5,105.6 L124.6,104.2 L125.4,100.0 L123.9,95.7 L125.4,91.4 L128.9,88.6 L128.2,85.0 L131.0,85.0 L134.6,84.3 L135.3,81.5 L136.7,78.6 L138.9,73.0 L140.3,65.9 Z M127.7,110.3 L128.9,109.2 L134.6,108.5 L136.0,111.3 L138.1,112.5 L142.2,113.6 L143.0,120.1 L143.2,128.0 L143.0,136.3 L142.2,139.5 L137.3,142.8 L134.9,144.4 L133.3,149.3 L132.5,157.4 L130.9,163.9 L131.8,167.1 L130.5,169.8 L128.7,172.5 L126.0,175.1 L123.3,174.2 L122.4,172.5 L120.6,174.2 L118.0,174.2 L116.2,176.0 L114.4,179.6 L112.6,176.0 L109.9,176.9 L106.4,179.6 L102.8,179.6 L100.1,181.4 L96.6,182.3 L93.9,183.2 L91.2,185.0 L88.5,186.8 L88.0,197.0 L36.0,197.0 L37.2,186.4 L43.9,181.4 L50.6,175.8 L56.2,170.8 L64.0,170.2 L72.9,169.1 L78.5,168.5 L83.7,168.8 L87.0,165.6 L90.2,160.7 L94.3,157.4 L95.9,153.4 L95.0,151.6 L95.6,149.8 L97.2,150.0 L98.4,150.9 L103.2,149.3 L109.7,147.7 L115.4,146.1 L119.5,141.2 L121.9,134.7 L124.4,128.2 L124.4,123.3 L125.2,116.8 Z" fill="#dcdcdc" stroke="#444" stroke-width="0.5"/>
<ellipse cx="52.5" cy="186" rx="2.6" ry="1.6" fill="#ffd800" stroke="#3a2a20" stroke-width="0.45"/>
<ellipse cx="57.5" cy="185" rx="2" ry="1.4" fill="#f0a800" stroke="#3a2a20" stroke-width="0.45"/>
<ellipse cx="62.5" cy="184.3" rx="2.4" ry="1.7" fill="#ffe000" stroke="#3a2a20" stroke-width="0.45"/>
<ellipse cx="68" cy="183" rx="2.6" ry="2" fill="#f0a800" stroke="#3a2a20" stroke-width="0.45"/>
<ellipse cx="73" cy="181.8" rx="2.4" ry="1.9" fill="#ffd800" stroke="#3a2a20" stroke-width="0.45"/>
<ellipse cx="78" cy="181.3" rx="2.2" ry="1.7" fill="#f08000" stroke="#3a2a20" stroke-width="0.45"/>
<ellipse cx="76.5" cy="185.6" rx="1.8" ry="1.4" fill="#ffff00" stroke="#3a2a20" stroke-width="0.45"/>
<path d="M93,177.8 L95.5,177.2 L97.8,178.8 L98.2,181.2 L95.8,181.8 L93.6,181 Z" fill="#f08000" stroke="#3a2a20" stroke-width="0.4"/>
<ellipse cx="95.8" cy="179.6" rx="1.1" ry="0.9" fill="#652d88"/>
<path d="M121.6,170.4 L123.8,169.6 L124.8,172 L123.4,174 L122,173.2 Z" fill="#f04018" stroke="#3a2a20" stroke-width="0.4"/>
<path d="M50,59.8 C52,58.2 56,58.4 57.2,60.8 C58.2,63 56.2,64.8 55.8,66.6 C55.3,68.6 53.2,69.8 51.6,68.8 C50.4,67.8 51.6,65.6 50,64.6 C48.4,63.4 48.4,61 50,59.8 Z" fill="#dcdcdc" stroke="#222" stroke-width="0.75"/>
<ellipse cx="109.6" cy="143.7" rx="1.8" ry="2.6" fill="#dcdcdc" stroke="#333" stroke-width="0.5"/>
<circle cx="59.5" cy="164" r="1.2" fill="#333"/>
<ellipse cx="22.6" cy="182.5" rx="1.3" ry="2" fill="#cfcfcf" stroke="#333" stroke-width="0.5"/>
<circle cx="1.5" cy="181.5" r="1.2" fill="#5a3a2a"/>
<circle cx="4.5" cy="179.8" r="0.9" fill="#c04020"/>
<circle cx="7" cy="179.5" r="1.3" fill="#4a3a30"/>
<circle cx="10.5" cy="178.2" r="0.8" fill="#7a4a3a"/>
<circle cx="12.5" cy="178.8" r="1.1" fill="#4a3a30"/>
<circle cx="15.8" cy="177.4" r="1.2" fill="#5a4a40"/>
<circle cx="18.6" cy="177" r="0.8" fill="#c05030"/>
<circle cx="3" cy="183" r="0.8" fill="#4a3a30"/>
<path d="M18.5,79 L20.5,76.5" stroke="#222" stroke-width="1"/>
<path d="M1.5,82.5 L3,81" stroke="#222" stroke-width="0.8"/>
<circle cx="133.5" cy="116.8" r="0.65" fill="#555"/>
<circle cx="130.9" cy="125.7" r="0.65" fill="#555"/>
<circle cx="125.2" cy="150" r="0.65" fill="#555"/>
<circle cx="119.5" cy="158.1" r="0.65" fill="#555"/>
<circle cx="106.5" cy="165.5" r="0.65" fill="#555"/>
<circle cx="140.5" cy="77" r="0.65" fill="#555"/>
<circle cx="146" cy="82" r="0.65" fill="#555"/>
<circle cx="50.6" cy="30.2" r="0.55" fill="#444"/>
<circle cx="55.5" cy="27.8" r="0.55" fill="#444"/>
<circle cx="60.4" cy="25.3" r="0.55" fill="#444"/>
<circle cx="64" cy="23.8" r="0.55" fill="#444"/>
<circle cx="68.2" cy="22.4" r="0.55" fill="#444"/>
<circle cx="77.9" cy="18.5" r="0.55" fill="#444"/>
<circle cx="81.8" cy="19.5" r="0.55" fill="#444"/>
<circle cx="86.7" cy="16.6" r="0.55" fill="#444"/>
<circle cx="89" cy="15" r="0.55" fill="#444"/>
<circle cx="91.5" cy="13.6" r="0.55" fill="#444"/>
<circle cx="95.4" cy="5.8" r="0.55" fill="#444"/>
<circle cx="97.4" cy="3.9" r="0.55" fill="#444"/>
</g>
<rect x="0.5" y="0.5" width="153.2" height="186.5" fill="none" stroke="#8a8a8a" stroke-width="1.2"/>
<path d="M10.2,0.5 H29.8 M10.2,187.0 H29.8" stroke="#222" stroke-width="1.3"/>
<path d="M48.5,0.5 H68 M48.5,187.0 H68" stroke="#222" stroke-width="1.3"/>
<path d="M86.8,0.5 H106.3 M86.8,187.0 H106.3" stroke="#222" stroke-width="1.3"/>
<path d="M125.1,0.5 H145.4 M125.1,187.0 H145.4" stroke="#222" stroke-width="1.3"/>
<path d="M0.5,0 V26.7 M153.7,0 V26.7" stroke="#222" stroke-width="1.3"/>
<path d="M0.5,52.2 V75.7 M153.7,52.2 V75.7" stroke="#222" stroke-width="1.3"/>
<path d="M0.5,99.2 V121.7 M153.7,99.2 V121.7" stroke="#222" stroke-width="1.3"/>
<path d="M0.5,144.7 V167.7 M153.7,144.7 V167.7" stroke="#222" stroke-width="1.3"/>
<text transform="translate(9.0,20.4) scale(1.078,1)" class="ttl">Jul</text>
<text x="30.2" y="201.5" class="lon">130E</text>
<text x="68.2" y="201.5" class="lon">134E</text>
<text x="106.2" y="201.5" class="lon">138E</text>
<text x="144.2" y="201.5" class="lon">142E</text>
</g><g transform="translate(192.50,225.50)">
<g clip-path="url(#clp)">
<g filter="url(#soft)">
<path d="M-5.0,-5.0 L160.0,-5.0 L160.0,195.0 L-5.0,195.0 Z" fill="#7ba0f0"/>
<path d="M86.0,97.0 L100.0,93.0 L114.0,96.0 L112.0,110.0 L95.0,111.0 Z" fill="#5058e0" filter="url(#s42_71)"/>
<path d="M72.0,157.0 L84.0,157.0 L84.0,164.0 L72.0,164.0 Z" fill="#5058e0" filter="url(#s40_72)"/>
<path d="M129.7,-10.0 L129.7,0.2 L129.0,7.0 L128.3,12.7 L126.1,19.8 L122.6,25.5 L118.3,31.2 L114.1,36.5 L111.5,41.0 L108.5,45.5 L103.0,53.3 L94.8,61.5 L86.7,69.5 L79.5,77.5 L72.6,84.8 L66.1,88.9 L63.0,90.2 L58.9,91.0 L55.5,90.6 L53.0,89.5 L52.4,86.8 L51.6,84.4 L50.2,86.2 L48.8,87.6" fill="none" stroke="#98e8f5" stroke-width="28" stroke-linejoin="round" stroke-linecap="round" filter="url(#s30_77)"/>
<path d="M129.7,-10.0 L129.7,0.2 L129.0,7.0 L128.3,12.7 L126.1,19.8 L122.6,25.5 L118.3,31.2 L114.1,36.5 L111.5,41.0 L108.5,45.5 L103.0,53.3 L94.8,61.5 L86.7,69.5 L79.5,77.5 L72.6,84.8 L66.1,88.9 L63.0,90.2 L58.9,91.0 L55.5,90.6 L53.0,89.5 L52.4,86.8 L51.6,84.4 L50.2,86.2 L48.8,87.6" fill="none" stroke="#98e8f5" stroke-width="18" stroke-linejoin="round" stroke-linecap="round" filter="url(#b15)"/>
<path d="M8.0,100.0 L34.0,100.0 L40.0,115.0 L44.0,135.0 L48.0,155.0 L54.0,170.0 L52.0,192.0 L8.0,192.0 Z" fill="#98e8f5" filter="url(#b20)"/>
<path d="M38.0,110.0 L48.0,125.0 L55.0,150.0 L60.0,175.0 L55.0,192.0 L45.0,192.0 L40.0,150.0 Z" fill="#98e8f5" filter="url(#s35_78)"/>
<path d="M138.1,112.5 L136.0,111.3 L134.6,108.5 L128.9,109.2 L127.7,110.3 L125.2,116.8 L124.4,123.3 L124.4,128.2 L121.9,134.7 L119.5,141.2 L115.4,146.1 L109.7,147.7 L103.2,149.3 L98.4,150.9 L97.2,150.0 L95.6,149.8 L95.0,151.6 L95.9,153.4 L94.3,157.4 L90.2,160.7 L87.0,165.6 L83.7,168.8 L78.5,168.5 L72.9,169.1 L64.0,170.2 L56.2,170.8 L50.6,175.8 L43.9,181.4 L37.2,186.4 L36.0,192.0" fill="none" stroke="#98e8f5" stroke-width="8" stroke-linejoin="round" stroke-linecap="round" filter="url(#b8)"/>
<path d="M48.8,87.6 L48.2,85.5 L47.2,83.6 L45.5,86.2 L42.5,88.6 L37.7,92.1 L33.6,95.4 L29.5,99.4 L27.1,104.0 L26.3,107.5 L23.8,112.4 L19.0,116.4 L12.5,120.5 L6.8,123.7 L5.2,127.8 L6.8,131.0 L10.8,133.4 L14.9,139.1 L18.1,146.4 L21.4,152.9 L23.8,159.4 L24.6,165.8 L24.2,171.0 L22.2,174.0 L17.3,175.6 L10.8,177.2 L4.4,178.8 L1.1,180.4 L-10.0,181.0" fill="none" stroke="#30a020" stroke-width="24" stroke-linejoin="round" stroke-linecap="round" filter="url(#s50_74)"/>
<path d="M18.0,145.0 L36.0,145.0 L44.0,160.0 L42.0,178.0 L32.0,186.0 L18.0,186.0 Z" fill="#2e5a35" filter="url(#s55_73)"/>
<path d="M124.0,-3.0 L147.0,-3.0 L147.0,40.0 L140.0,38.0 L128.0,32.0 L115.0,36.0 Z" fill="#30a020" filter="url(#b14)"/>
<path d="M127.0,-3.0 L147.0,-3.0 L146.0,22.0 L138.0,30.0 L126.0,22.0 Z" fill="#6ab810" filter="url(#s40_75)"/>
<ellipse cx="137" cy="25" rx="7" ry="7" fill="#2e5a35" filter="url(#b15)"/>
<path d="M128.0,91.0 L160.0,91.0 L160.0,195.0 L85.0,195.0 L95.0,182.0 L112.0,176.0 L126.0,168.0 L129.0,150.0 L131.0,130.0 L130.0,112.0 L129.0,104.0 Z" fill="#98e8f5" filter="url(#b14)"/>
<path d="M126.0,90.0 L160.0,90.0 L160.0,145.0 L140.0,145.0 Z" fill="#2e5a35" filter="url(#s70_76)"/>
<path d="M126.0,90.0 L160.0,90.0 L160.0,145.0 L140.0,145.0 Z" fill="#30a020" filter="url(#s20_79)"/>
<path d="M85.0,195.0 L95.0,184.0 L110.0,178.0 L125.0,174.0 L135.0,166.0 L160.0,150.0 L160.0,195.0 Z" fill="#7ba0f0" filter="url(#b14)"/>
<path d="M110.0,195.0 L130.0,184.0 L145.0,174.0 L160.0,165.0 L160.0,195.0 Z" fill="#652d88" filter="url(#b14)"/>
<path d="M147.0,8.0 L160.0,8.0 L160.0,38.0 L147.0,38.0 Z" fill="#6ab810" filter="url(#b14)"/>
<path d="M136.0,42.0 L160.0,42.0 L160.0,72.0 L136.0,72.0 Z" fill="#30a020" filter="url(#b14)"/>
<path d="M136.0,42.0 L160.0,42.0 L160.0,72.0 L136.0,72.0 Z" fill="#6ab810" filter="url(#s40_80)"/>
<path d="M129.7,-10.0 L129.7,0.2 L129.0,7.0 L128.3,12.7 L126.1,19.8 L122.6,25.5 L118.3,31.2 L114.1,36.5 L111.5,41.0 L108.5,45.5 L103.0,53.3 L94.8,61.5 L86.7,69.5 L79.5,77.5 L72.6,84.8 L66.1,88.9 L63.0,90.2 L58.9,91.0 L55.5,90.6 L53.0,89.5 L52.4,86.8 L51.6,84.4 L50.2,86.2 L48.8,87.6" fill="none" stroke="#2e5a35" stroke-width="7.0" stroke-linejoin="round" stroke-linecap="round" filter="url(#s60_81)"/>
<path d="M129.7,-10.0 L129.7,0.2 L129.0,7.0 L128.3,12.7 L126.1,19.8 L122.6,25.5 L118.3,31.2 L114.1,36.5 L111.5,41.0 L108.5,45.5 L103.0,53.3 L94.8,61.5 L86.7,69.5 L79.5,77.5 L72.6,84.8 L66.1,88.9 L63.0,90.2 L58.9,91.0 L55.5,90.6 L53.0,89.5 L52.4,86.8 L51.6,84.4 L50.2,86.2 L48.8,87.6" fill="none" stroke="#30a020" stroke-width="4" stroke-linejoin="round" stroke-linecap="round" filter="url(#b8)"/>
<path d="M129.7,-10.0 L129.7,0.2 L129.0,7.0 L128.3,12.7 L126.1,19.8 L122.6,25.5 L118.3,31.2 L114.1,36.5 L111.5,41.0 L108.5,45.5 L103.0,53.3 L94.8,61.5 L86.7,69.5 L79.5,77.5 L72.6,84.8 L66.1,88.9 L63.0,90.2 L58.9,91.0 L55.5,90.6 L53.0,89.5 L52.4,86.8 L51.6,84.4 L50.2,86.2 L48.8,87.6" fill="none" stroke="#ffff00" stroke-width="1.4" stroke-linejoin="round" stroke-linecap="round" filter="url(#b8)"/>
<path d="M48.8,87.6 L48.2,85.5 L47.2,83.6 L45.5,86.2 L42.5,88.6 L37.7,92.1 L33.6,95.4 L29.5,99.4 L27.1,104.0 L26.3,107.5 L23.8,112.4 L19.0,116.4 L12.5,120.5 L6.8,123.7 L5.2,127.8 L6.8,131.0 L10.8,133.4 L14.9,139.1 L18.1,146.4 L21.4,152.9 L23.8,159.4 L24.6,165.8 L24.2,171.0 L22.2,174.0 L17.3,175.6 L10.8,177.2 L4.4,178.8 L1.1,180.4 L-10.0,181.0" fill="none" stroke="#30a020" stroke-width="8" stroke-linejoin="round" stroke-linecap="round" filter="url(#b8)"/>
<path d="M48.8,87.6 L48.2,85.5 L47.2,83.6 L45.5,86.2 L42.5,88.6 L37.7,92.1 L33.6,95.4 L29.5,99.4 L27.1,104.0 L26.3,107.5 L23.8,112.4 L19.0,116.4 L12.5,120.5 L6.8,123.7 L5.2,127.8 L6.8,131.0 L10.8,133.4 L14.9,139.1 L18.1,146.4 L21.4,152.9 L23.8,159.4 L24.6,165.8 L24.2,171.0 L22.2,174.0 L17.3,175.6 L10.8,177.2 L4.4,178.8 L1.1,180.4 L-10.0,181.0" fill="none" stroke="#6ab810" stroke-width="4" stroke-linejoin="round" stroke-linecap="round" filter="url(#b8)"/>
<path d="M48.8,87.6 L48.2,85.5 L47.2,83.6 L45.5,86.2 L42.5,88.6 L37.7,92.1 L33.6,95.4 L29.5,99.4 L27.1,104.0 L26.3,107.5 L23.8,112.4 L19.0,116.4 L12.5,120.5 L6.8,123.7 L5.2,127.8 L6.8,131.0 L10.8,133.4 L14.9,139.1 L18.1,146.4 L21.4,152.9 L23.8,159.4 L24.6,165.8 L24.2,171.0 L22.2,174.0 L17.3,175.6 L10.8,177.2 L4.4,178.8 L1.1,180.4 L-10.0,181.0" fill="none" stroke="#ffff00" stroke-width="1.6" stroke-linejoin="round" stroke-linecap="round" filter="url(#b8)"/>
<path d="M144.7,-5.0 L144.7,7.0 L144.0,14.1 L143.3,17.0 L144.7,21.2 L144.0,26.9 L144.0,34.0 L144.7,39.7 L146.1,44.0 L147.5,45.4 L149.7,44.0 L151.8,43.2 L153.2,42.5 L160.0,42.5" fill="none" stroke="#30a020" stroke-width="6" stroke-linejoin="round" stroke-linecap="round" filter="url(#b8)"/>
<path d="M144.7,-5.0 L144.7,7.0 L144.0,14.1 L143.3,17.0 L144.7,21.2 L144.0,26.9 L144.0,34.0 L144.7,39.7 L146.1,44.0 L147.5,45.4 L149.7,44.0 L151.8,43.2 L153.2,42.5 L160.0,42.5" fill="none" stroke="#ffff00" stroke-width="2" stroke-linejoin="round" stroke-linecap="round" filter="url(#b8)"/>
<path d="M160.0,14.1 L153.2,14.1 L151.1,17.0 L149.7,22.6 L149.7,28.3 L150.4,32.6 L152.5,34.7 L160.0,35.4" fill="none" stroke="#f08000" stroke-width="2" stroke-linejoin="round" stroke-linecap="round" filter="url(#b8)"/>
<path d="M138.1,112.5 L136.0,111.3 L134.6,108.5 L128.9,109.2 L127.7,110.3 L125.2,116.8 L124.4,123.3 L124.4,128.2 L121.9,134.7 L119.5,141.2 L115.4,146.1 L109.7,147.7 L103.2,149.3 L98.4,150.9 L97.2,150.0 L95.6,149.8 L95.0,151.6 L95.9,153.4 L94.3,157.4 L90.2,160.7 L87.0,165.6 L83.7,168.8 L78.5,168.5 L72.9,169.1 L64.0,170.2 L56.2,170.8 L50.6,175.8 L43.9,181.4 L37.2,186.4 L36.0,192.0" fill="none" stroke="#30a020" stroke-width="5.0" stroke-linejoin="round" stroke-linecap="round" filter="url(#b8)"/>
<path d="M138.1,112.5 L136.0,111.3 L134.6,108.5 L128.9,109.2 L127.7,110.3 L125.2,116.8 L124.4,123.3 L124.4,128.2 L121.9,134.7 L119.5,141.2 L115.4,146.1 L109.7,147.7 L103.2,149.3 L98.4,150.9 L97.2,150.0 L95.6,149.8 L95.0,151.6 L95.9,153.4 L94.3,157.4 L90.2,160.7 L87.0,165.6 L83.7,168.8 L78.5,168.5 L72.9,169.1 L64.0,170.2 L56.2,170.8 L50.6,175.8 L43.9,181.4 L37.2,186.4 L36.0,192.0" fill="none" stroke="#6ab810" stroke-width="2.4" stroke-linejoin="round" stroke-linecap="round" filter="url(#b8)"/>
<path d="M138.1,112.5 L136.0,111.3 L134.6,108.5 L128.9,109.2 L127.7,110.3 L125.2,116.8 L124.4,123.3 L124.4,128.2 L121.9,134.7 L119.5,141.2 L115.4,146.1 L109.7,147.7 L103.2,149.3 L98.4,150.9 L97.2,150.0 L95.6,149.8 L95.0,151.6 L95.9,153.4 L94.3,157.4 L90.2,160.7 L87.0,165.6 L83.7,168.8 L78.5,168.5 L72.9,169.1 L64.0,170.2 L56.2,170.8 L50.6,175.8 L43.9,181.4 L37.2,186.4 L36.0,192.0" fill="none" stroke="#ffff00" stroke-width="1.4" stroke-linejoin="round" stroke-linecap="round" filter="url(#b8)"/>
<path d="M138.1,112.5 L142.2,113.6 L143.0,120.1 L143.2,128.0 L143.0,136.3 L142.2,139.5 L137.3,142.8 L134.9,144.4 L133.3,149.3 L132.5,157.4 L130.9,163.9 L131.8,167.1 L130.5,169.8 L128.7,172.5 L126.0,175.1 L123.3,174.2 L122.4,172.5 L120.6,174.2 L118.0,174.2 L116.2,176.0 L114.4,179.6 L112.6,176.0 L109.9,176.9 L106.4,179.6 L102.8,179.6 L100.1,181.4 L96.6,182.3 L93.9,183.2 L91.2,185.0 L88.5,186.8 L88.0,192.0" fill="none" stroke="#30a020" stroke-width="6" stroke-linejoin="round" stroke-linecap="round" filter="url(#b8)"/>
<path d="M138.1,112.5 L142.2,113.6 L143.0,120.1 L143.2,128.0 L143.0,136.3 L142.2,139.5 L137.3,142.8 L134.9,144.4 L133.3,149.3 L132.5,157.4 L130.9,163.9 L131.8,167.1 L130.5,169.8 L128.7,172.5 L126.0,175.1 L123.3,174.2 L122.4,172.5 L120.6,174.2 L118.0,174.2 L116.2,176.0 L114.4,179.6 L112.6,176.0 L109.9,176.9 L106.4,179.6 L102.8,179.6 L100.1,181.4 L96.6,182.3 L93.9,183.2 L91.2,185.0 L88.5,186.8 L88.0,192.0" fill="none" stroke="#ffff00" stroke-width="3.0" stroke-linejoin="round" stroke-linecap="round" filter="url(#b8)"/>
<path d="M138.1,112.5 L142.2,113.6 L143.0,120.1 L143.2,128.0 L143.0,136.3 L142.2,139.5 L137.3,142.8 L134.9,144.4 L133.3,149.3 L132.5,157.4 L130.9,163.9 L131.8,167.1 L130.5,169.8 L128.7,172.5 L126.0,175.1 L123.3,174.2 L122.4,172.5 L120.6,174.2 L118.0,174.2 L116.2,176.0 L114.4,179.6 L112.6,176.0 L109.9,176.9 L106.4,179.6 L102.8,179.6 L100.1,181.4 L96.6,182.3 L93.9,183.2 L91.2,185.0 L88.5,186.8 L88.0,192.0" fill="none" stroke="#f08000" stroke-width="1.6" stroke-linejoin="round" stroke-linecap="round" filter="url(#b8)"/>
<path d="M160.0,68.1 L153.2,68.1 L150.4,66.7 L147.5,63.8 L144.7,59.6 L142.6,58.9 L141.0,60.2 L140.3,65.9 L138.9,73.0 L136.7,78.6 L135.3,81.5 L134.6,84.3 L131.0,85.0 L128.2,85.0 L128.9,88.6 L125.4,91.4 L123.9,95.7 L125.4,100.0 L124.6,104.2 L127.5,105.6" fill="none" stroke="#30a020" stroke-width="6" stroke-linejoin="round" stroke-linecap="round" filter="url(#b8)"/>
<ellipse cx="6" cy="127" rx="2.5" ry="3.5" fill="#f04018"/>
<path d="M-5.0,177.0 L10.0,176.0 L22.0,174.0 L28.0,180.0 L26.0,195.0 L-5.0,195.0 Z" fill="#6ab810" filter="url(#b14)"/>
<path d="M44,89.5 L47.2,83 L49,88.5 L51.6,83.8 L53.8,90.5 L48,91.5 Z" fill="#ffe000"/>
<path d="M46.5,86 L47.2,83 L48.2,86 Z M51,86 L51.6,83.8 L52.5,86.5 Z" fill="#f08000"/>
</g>
<path d="M-10.0,-10.0 L129.7,-10.0 L129.7,0.2 L129.0,7.0 L128.3,12.7 L126.1,19.8 L122.6,25.5 L118.3,31.2 L114.1,36.5 L111.5,41.0 L108.5,45.5 L103.0,53.3 L94.8,61.5 L86.7,69.5 L79.5,77.5 L72.6,84.8 L66.1,88.9 L63.0,90.2 L58.9,91.0 L55.5,90.6 L53.0,89.5 L52.4,86.8 L51.6,84.4 L50.2,86.2 L48.8,87.6 L48.2,85.5 L47.2,83.6 L45.5,86.2 L42.5,88.6 L37.7,92.1 L33.6,95.4 L29.5,99.4 L27.1,104.0 L26.3,107.5 L23.8,112.4 L19.0,116.4 L12.5,120.5 L6.8,123.7 L5.2,127.8 L6.8,131.0 L10.8,133.4 L14.9,139.1 L18.1,146.4 L21.4,152.9 L23.8,159.4 L24.6,165.8 L24.2,171.0 L22.2,174.0 L17.3,175.6 L10.8,177.2 L4.4,178.8 L1.1,180.4 L-10.0,181.0 Z M144.7,-10.0 L164.0,-10.0 L164.0,14.1 L153.2,14.1 L151.1,17.0 L149.7,22.6 L149.7,28.3 L150.4,32.6 L152.5,34.7 L164.0,35.4 L164.0,42.5 L153.2,42.5 L151.8,43.2 L149.7,44.0 L147.5,45.4 L146.1,44.0 L144.7,39.7 L144.0,34.0 L144.0,26.9 L144.7,21.2 L143.3,17.0 L144.0,14.1 L144.7,7.0 Z M141.0,60.2 L142.6,58.9 L144.7,59.6 L147.5,63.8 L150.4,66.7 L153.2,68.1 L164.0,68.1 L164.0,98.5 L153.0,98.5 L148.8,95.7 L143.1,92.9 L137.4,92.1 L131.8,92.1 L128.9,93.6 L130.3,95.7 L133.2,97.1 L134.6,100.0 L132.5,101.4 L130.3,104.2 L127.5,105.6 L124.6,104.2 L125.4,100.0 L123.9,95.7 L125.4,91.4 L128.9,88.6 L128.2,85.0 L131.0,85.0 L134.6,84.3 L135.3,81.5 L136.7,78.6 L138.9,73.0 L140.3,65.9 Z M127.7,110.3 L128.9,109.2 L134.6,108.5 L136.0,111.3 L138.1,112.5 L142.2,113.6 L143.0,120.1 L143.2,128.0 L143.0,136.3 L142.2,139.5 L137.3,142.8 L134.9,144.4 L133.3,149.3 L132.5,157.4 L130.9,163.9 L131.8,167.1 L130.5,169.8 L128.7,172.5 L126.0,175.1 L123.3,174.2 L122.4,172.5 L120.6,174.2 L118.0,174.2 L116.2,176.0 L114.4,179.6 L112.6,176.0 L109.9,176.9 L106.4,179.6 L102.8,179.6 L100.1,181.4 L96.6,182.3 L93.9,183.2 L91.2,185.0 L88.5,186.8 L88.0,197.0 L36.0,197.0 L37.2,186.4 L43.9,181.4 L50.6,175.8 L56.2,170.8 L64.0,170.2 L72.9,169.1 L78.5,168.5 L83.7,168.8 L87.0,165.6 L90.2,160.7 L94.3,157.4 L95.9,153.4 L95.0,151.6 L95.6,149.8 L97.2,150.0 L98.4,150.9 L103.2,149.3 L109.7,147.7 L115.4,146.1 L119.5,141.2 L121.9,134.7 L124.4,128.2 L124.4,123.3 L125.2,116.8 Z" fill="#dcdcdc" stroke="#444" stroke-width="0.5"/>
<ellipse cx="52.5" cy="186" rx="2.6" ry="1.6" fill="#ffd800" stroke="#3a2a20" stroke-width="0.45"/>
<ellipse cx="57.5" cy="185" rx="2" ry="1.4" fill="#f0a800" stroke="#3a2a20" stroke-width="0.45"/>
<ellipse cx="62.5" cy="184.3" rx="2.4" ry="1.7" fill="#ffe000" stroke="#3a2a20" stroke-width="0.45"/>
<ellipse cx="68" cy="183" rx="2.6" ry="2" fill="#f0a800" stroke="#3a2a20" stroke-width="0.45"/>
<ellipse cx="73" cy="181.8" rx="2.4" ry="1.9" fill="#ffd800" stroke="#3a2a20" stroke-width="0.45"/>
<ellipse cx="78" cy="181.3" rx="2.2" ry="1.7" fill="#f08000" stroke="#3a2a20" stroke-width="0.45"/>
<ellipse cx="76.5" cy="185.6" rx="1.8" ry="1.4" fill="#ffff00" stroke="#3a2a20" stroke-width="0.45"/>
<path d="M93,177.8 L95.5,177.2 L97.8,178.8 L98.2,181.2 L95.8,181.8 L93.6,181 Z" fill="#f08000" stroke="#3a2a20" stroke-width="0.4"/>
<ellipse cx="95.8" cy="179.6" rx="1.1" ry="0.9" fill="#652d88"/>
<path d="M121.6,170.4 L123.8,169.6 L124.8,172 L123.4,174 L122,173.2 Z" fill="#f04018" stroke="#3a2a20" stroke-width="0.4"/>
<path d="M50,59.8 C52,58.2 56,58.4 57.2,60.8 C58.2,63 56.2,64.8 55.8,66.6 C55.3,68.6 53.2,69.8 51.6,68.8 C50.4,67.8 51.6,65.6 50,64.6 C48.4,63.4 48.4,61 50,59.8 Z" fill="#dcdcdc" stroke="#222" stroke-width="0.75"/>
<ellipse cx="109.6" cy="143.7" rx="1.8" ry="2.6" fill="#dcdcdc" stroke="#333" stroke-width="0.5"/>
<circle cx="59.5" cy="164" r="1.2" fill="#333"/>
<ellipse cx="22.6" cy="182.5" rx="1.3" ry="2" fill="#cfcfcf" stroke="#333" stroke-width="0.5"/>
<circle cx="1.5" cy="181.5" r="1.2" fill="#5a3a2a"/>
<circle cx="4.5" cy="179.8" r="0.9" fill="#c04020"/>
<circle cx="7" cy="179.5" r="1.3" fill="#4a3a30"/>
<circle cx="10.5" cy="178.2" r="0.8" fill="#7a4a3a"/>
<circle cx="12.5" cy="178.8" r="1.1" fill="#4a3a30"/>
<circle cx="15.8" cy="177.4" r="1.2" fill="#5a4a40"/>
<circle cx="18.6" cy="177" r="0.8" fill="#c05030"/>
<circle cx="3" cy="183" r="0.8" fill="#4a3a30"/>
<path d="M18.5,79 L20.5,76.5" stroke="#222" stroke-width="1"/>
<path d="M1.5,82.5 L3,81" stroke="#222" stroke-width="0.8"/>
<circle cx="133.5" cy="116.8" r="0.65" fill="#555"/>
<circle cx="130.9" cy="125.7" r="0.65" fill="#555"/>
<circle cx="125.2" cy="150" r="0.65" fill="#555"/>
<circle cx="119.5" cy="158.1" r="0.65" fill="#555"/>
<circle cx="106.5" cy="165.5" r="0.65" fill="#555"/>
<circle cx="140.5" cy="77" r="0.65" fill="#555"/>
<circle cx="146" cy="82" r="0.65" fill="#555"/>
<circle cx="50.6" cy="30.2" r="0.55" fill="#444"/>
<circle cx="55.5" cy="27.8" r="0.55" fill="#444"/>
<circle cx="60.4" cy="25.3" r="0.55" fill="#444"/>
<circle cx="64" cy="23.8" r="0.55" fill="#444"/>
<circle cx="68.2" cy="22.4" r="0.55" fill="#444"/>
<circle cx="77.9" cy="18.5" r="0.55" fill="#444"/>
<circle cx="81.8" cy="19.5" r="0.55" fill="#444"/>
<circle cx="86.7" cy="16.6" r="0.55" fill="#444"/>
<circle cx="89" cy="15" r="0.55" fill="#444"/>
<circle cx="91.5" cy="13.6" r="0.55" fill="#444"/>
<circle cx="95.4" cy="5.8" r="0.55" fill="#444"/>
<circle cx="97.4" cy="3.9" r="0.55" fill="#444"/>
</g>
<rect x="0.5" y="0.5" width="153.2" height="186.5" fill="none" stroke="#8a8a8a" stroke-width="1.2"/>
<path d="M10.2,0.5 H29.8 M10.2,187.0 H29.8" stroke="#222" stroke-width="1.3"/>
<path d="M48.5,0.5 H68 M48.5,187.0 H68" stroke="#222" stroke-width="1.3"/>
<path d="M86.8,0.5 H106.3 M86.8,187.0 H106.3" stroke="#222" stroke-width="1.3"/>
<path d="M125.1,0.5 H145.4 M125.1,187.0 H145.4" stroke="#222" stroke-width="1.3"/>
<path d="M0.5,0 V26.7 M153.7,0 V26.7" stroke="#222" stroke-width="1.3"/>
<path d="M0.5,52.2 V75.7 M153.7,52.2 V75.7" stroke="#222" stroke-width="1.3"/>
<path d="M0.5,99.2 V121.7 M153.7,99.2 V121.7" stroke="#222" stroke-width="1.3"/>
<path d="M0.5,144.7 V167.7 M153.7,144.7 V167.7" stroke="#222" stroke-width="1.3"/>
<text transform="translate(9.0,20.4) scale(1.078,1)" class="ttl">Aug</text>
<text x="30.2" y="201.5" class="lon">130E</text>
<text x="68.2" y="201.5" class="lon">134E</text>
<text x="106.2" y="201.5" class="lon">138E</text>
<text x="144.2" y="201.5" class="lon">142E</text>
</g><g transform="translate(355.50,225.50)">
<g clip-path="url(#clp)">
<g filter="url(#soft)">
<path d="M-5.0,-5.0 L160.0,-5.0 L160.0,195.0 L-5.0,195.0 Z" fill="#7ba0f0"/>
<path d="M129.7,-10.0 L129.7,0.2 L129.0,7.0 L128.3,12.7 L126.1,19.8 L122.6,25.5 L118.3,31.2 L114.1,36.5 L111.5,41.0 L108.5,45.5 L103.0,53.3 L94.8,61.5 L86.7,69.5 L79.5,77.5 L72.6,84.8 L66.1,88.9 L63.0,90.2 L58.9,91.0 L55.5,90.6 L53.0,89.5 L52.4,86.8 L51.6,84.4 L50.2,86.2 L48.8,87.6" fill="none" stroke="#98e8f5" stroke-width="30" stroke-linejoin="round" stroke-linecap="round" filter="url(#s30_87)"/>
<path d="M129.7,-10.0 L129.7,0.2 L129.0,7.0 L128.3,12.7 L126.1,19.8 L122.6,25.5 L118.3,31.2 L114.1,36.5 L111.5,41.0 L108.5,45.5 L103.0,53.3 L94.8,61.5 L86.7,69.5 L79.5,77.5 L72.6,84.8 L66.1,88.9 L63.0,90.2 L58.9,91.0 L55.5,90.6 L53.0,89.5 L52.4,86.8 L51.6,84.4 L50.2,86.2 L48.8,87.6" fill="none" stroke="#98e8f5" stroke-width="18" stroke-linejoin="round" stroke-linecap="round" filter="url(#b15)"/>
<path d="M15.0,100.0 L45.0,95.0 L62.0,100.0 L72.0,110.0 L66.0,122.0 L72.0,136.0 L78.0,150.0 L74.0,168.0 L60.0,170.0 L52.0,150.0 L40.0,125.0 Z" fill="#98e8f5" filter="url(#b18)"/>
<path d="M80.0,118.0 L96.0,114.0 L98.0,132.0 L82.0,134.0 Z" fill="#98e8f5" filter="url(#s45_81)"/>
<path d="M60.0,100.0 L95.0,92.0 L100.0,106.0 L72.0,112.0 Z" fill="#98e8f5" filter="url(#s30_88)"/>
<path d="M5.0,112.0 L30.0,110.0 L45.0,120.0 L58.0,135.0 L62.0,160.0 L57.0,180.0 L30.0,190.0 L5.0,190.0 Z" fill="#2e5a35" filter="url(#b18)"/>
<path d="M5.0,112.0 L30.0,110.0 L45.0,120.0 L58.0,135.0 L62.0,160.0 L57.0,180.0 L30.0,190.0 L5.0,190.0 Z" fill="#3a8a2a" filter="url(#s25_91)"/>
<path d="M48.8,87.6 L48.2,85.5 L47.2,83.6 L45.5,86.2 L42.5,88.6 L37.7,92.1 L33.6,95.4 L29.5,99.4 L27.1,104.0 L26.3,107.5 L23.8,112.4 L19.0,116.4 L12.5,120.5 L6.8,123.7 L5.2,127.8 L6.8,131.0 L10.8,133.4 L14.9,139.1 L18.1,146.4 L21.4,152.9 L23.8,159.4 L24.6,165.8 L24.2,171.0 L22.2,174.0 L17.3,175.6 L10.8,177.2 L4.4,178.8 L1.1,180.4 L-10.0,181.0" fill="none" stroke="#30a020" stroke-width="20" stroke-linejoin="round" stroke-linecap="round" filter="url(#s50_82)"/>
<path d="M48.8,87.6 L48.2,85.5 L47.2,83.6 L45.5,86.2 L42.5,88.6 L37.7,92.1 L33.6,95.4 L29.5,99.4 L27.1,104.0 L26.3,107.5 L23.8,112.4 L19.0,116.4 L12.5,120.5 L6.8,123.7 L5.2,127.8 L6.8,131.0 L10.8,133.4 L14.9,139.1 L18.1,146.4 L21.4,152.9 L23.8,159.4 L24.6,165.8 L24.2,171.0 L22.2,174.0 L17.3,175.6 L10.8,177.2 L4.4,178.8 L1.1,180.4 L-10.0,181.0" fill="none" stroke="#6ab810" stroke-width="12" stroke-linejoin="round" stroke-linecap="round" filter="url(#s50_89)"/>
<path d="M138.1,112.5 L136.0,111.3 L134.6,108.5 L128.9,109.2 L127.7,110.3 L125.2,116.8 L124.4,123.3 L124.4,128.2 L121.9,134.7 L119.5,141.2 L115.4,146.1 L109.7,147.7 L103.2,149.3 L98.4,150.9 L97.2,150.0 L95.6,149.8 L95.0,151.6 L95.9,153.4 L94.3,157.4 L90.2,160.7 L87.0,165.6 L83.7,168.8 L78.5,168.5 L72.9,169.1 L64.0,170.2 L56.2,170.8 L50.6,175.8 L43.9,181.4 L37.2,186.4 L36.0,192.0" fill="none" stroke="#98e8f5" stroke-width="12" stroke-linejoin="round" stroke-linecap="round" filter="url(#b8)"/>
<path d="M124.0,-3.0 L147.0,-3.0 L147.0,40.0 L140.0,38.0 L128.0,32.0 L115.0,36.0 Z" fill="#30a020" filter="url(#b14)"/>
<path d="M127.0,-3.0 L147.0,-3.0 L146.0,22.0 L138.0,30.0 L126.0,22.0 Z" fill="#6ab810" filter="url(#s30_90)"/>
<ellipse cx="137" cy="26" rx="8" ry="10" fill="#2e5a35" filter="url(#b15)"/>
<path d="M128.0,91.0 L160.0,91.0 L160.0,195.0 L85.0,195.0 L95.0,182.0 L112.0,176.0 L126.0,168.0 L129.0,150.0 L131.0,130.0 L130.0,112.0 L129.0,104.0 Z" fill="#98e8f5" filter="url(#b14)"/>
<path d="M126.0,90.0 L160.0,90.0 L160.0,150.0 L140.0,150.0 Z" fill="#2e5a35" filter="url(#s75_83)"/>
<path d="M85.0,195.0 L95.0,184.0 L110.0,178.0 L125.0,174.0 L135.0,166.0 L160.0,150.0 L160.0,195.0 Z" fill="#7ba0f0" filter="url(#b14)"/>
<path d="M110.0,195.0 L130.0,184.0 L145.0,174.0 L160.0,165.0 L160.0,195.0 Z" fill="#652d88" filter="url(#b14)"/>
<path d="M147.0,8.0 L160.0,8.0 L160.0,38.0 L147.0,38.0 Z" fill="#6ab810" filter="url(#b14)"/>
<path d="M136.0,42.0 L160.0,42.0 L160.0,72.0 L136.0,72.0 Z" fill="#30a020" filter="url(#b14)"/>
<path d="M136.0,42.0 L160.0,42.0 L160.0,72.0 L136.0,72.0 Z" fill="#6ab810" filter="url(#s40_84)"/>
<path d="M129.7,-10.0 L129.7,0.2 L129.0,7.0 L128.3,12.7 L126.1,19.8 L122.6,25.5 L118.3,31.2 L114.1,36.5 L111.5,41.0 L108.5,45.5 L103.0,53.3 L94.8,61.5 L86.7,69.5 L79.5,77.5 L72.6,84.8 L66.1,88.9 L63.0,90.2 L58.9,91.0 L55.5,90.6 L53.0,89.5 L52.4,86.8 L51.6,84.4 L50.2,86.2 L48.8,87.6" fill="none" stroke="#2e5a35" stroke-width="10" stroke-linejoin="round" stroke-linecap="round" filter="url(#s70_85)"/>
<path d="M129.7,-10.0 L129.7,0.2 L129.0,7.0 L128.3,12.7 L126.1,19.8 L122.6,25.5 L118.3,31.2 L114.1,36.5 L111.5,41.0 L108.5,45.5 L103.0,53.3 L94.8,61.5 L86.7,69.5 L79.5,77.5 L72.6,84.8 L66.1,88.9 L63.0,90.2 L58.9,91.0 L55.5,90.6 L53.0,89.5 L52.4,86.8 L51.6,84.4 L50.2,86.2 L48.8,87.6" fill="none" stroke="#30a020" stroke-width="5.0" stroke-linejoin="round" stroke-linecap="round" filter="url(#b8)"/>
<path d="M129.7,-10.0 L129.7,0.2 L129.0,7.0 L128.3,12.7 L126.1,19.8 L122.6,25.5 L118.3,31.2 L114.1,36.5 L111.5,41.0 L108.5,45.5 L103.0,53.3 L94.8,61.5 L86.7,69.5 L79.5,77.5 L72.6,84.8 L66.1,88.9 L63.0,90.2 L58.9,91.0 L55.5,90.6 L53.0,89.5 L52.4,86.8 L51.6,84.4 L50.2,86.2 L48.8,87.6" fill="none" stroke="#ffff00" stroke-width="1.6" stroke-linejoin="round" stroke-linecap="round" filter="url(#b8)"/>
<path d="M48.8,87.6 L48.2,85.5 L47.2,83.6 L45.5,86.2 L42.5,88.6 L37.7,92.1 L33.6,95.4 L29.5,99.4 L27.1,104.0 L26.3,107.5 L23.8,112.4 L19.0,116.4 L12.5,120.5 L6.8,123.7 L5.2,127.8 L6.8,131.0 L10.8,133.4 L14.9,139.1 L18.1,146.4 L21.4,152.9 L23.8,159.4 L24.6,165.8 L24.2,171.0 L22.2,174.0 L17.3,175.6 L10.8,177.2 L4.4,178.8 L1.1,180.4 L-10.0,181.0" fill="none" stroke="#b0e000" stroke-width="6" stroke-linejoin="round" stroke-linecap="round" filter="url(#b8)"/>
<path d="M48.8,87.6 L48.2,85.5 L47.2,83.6 L45.5,86.2 L42.5,88.6 L37.7,92.1 L33.6,95.4 L29.5,99.4 L27.1,104.0 L26.3,107.5 L23.8,112.4 L19.0,116.4 L12.5,120.5 L6.8,123.7 L5.2,127.8 L6.8,131.0 L10.8,133.4 L14.9,139.1 L18.1,146.4 L21.4,152.9 L23.8,159.4 L24.6,165.8 L24.2,171.0 L22.2,174.0 L17.3,175.6 L10.8,177.2 L4.4,178.8 L1.1,180.4 L-10.0,181.0" fill="none" stroke="#ffff00" stroke-width="2.4" stroke-linejoin="round" stroke-linecap="round" filter="url(#b8)"/>
<path d="M144.7,-5.0 L144.7,7.0 L144.0,14.1 L143.3,17.0 L144.7,21.2 L144.0,26.9 L144.0,34.0 L144.7,39.7 L146.1,44.0 L147.5,45.4 L149.7,44.0 L151.8,43.2 L153.2,42.5 L160.0,42.5" fill="none" stroke="#30a020" stroke-width="6" stroke-linejoin="round" stroke-linecap="round" filter="url(#b8)"/>
<path d="M144.7,-5.0 L144.7,7.0 L144.0,14.1 L143.3,17.0 L144.7,21.2 L144.0,26.9 L144.0,34.0 L144.7,39.7 L146.1,44.0 L147.5,45.4 L149.7,44.0 L151.8,43.2 L153.2,42.5 L160.0,42.5" fill="none" stroke="#ffff00" stroke-width="2" stroke-linejoin="round" stroke-linecap="round" filter="url(#b8)"/>
<path d="M160.0,14.1 L153.2,14.1 L151.1,17.0 L149.7,22.6 L149.7,28.3 L150.4,32.6 L152.5,34.7 L160.0,35.4" fill="none" stroke="#f08000" stroke-width="2" stroke-linejoin="round" stroke-linecap="round" filter="url(#b8)"/>
<path d="M138.1,112.5 L136.0,111.3 L134.6,108.5 L128.9,109.2 L127.7,110.3 L125.2,116.8 L124.4,123.3 L124.4,128.2 L121.9,134.7 L119.5,141.2 L115.4,146.1 L109.7,147.7 L103.2,149.3 L98.4,150.9 L97.2,150.0 L95.6,149.8 L95.0,151.6 L95.9,153.4 L94.3,157.4 L90.2,160.7 L87.0,165.6 L83.7,168.8 L78.5,168.5 L72.9,169.1 L64.0,170.2 L56.2,170.8 L50.6,175.8 L43.9,181.4 L37.2,186.4 L36.0,192.0" fill="none" stroke="#30a020" stroke-width="5.0" stroke-linejoin="round" stroke-linecap="round" filter="url(#b8)"/>
<path d="M138.1,112.5 L136.0,111.3 L134.6,108.5 L128.9,109.2 L127.7,110.3 L125.2,116.8 L124.4,123.3 L124.4,128.2 L121.9,134.7 L119.5,141.2 L115.4,146.1 L109.7,147.7 L103.2,149.3 L98.4,150.9 L97.2,150.0 L95.6,149.8 L95.0,151.6 L95.9,153.4 L94.3,157.4 L90.2,160.7 L87.0,165.6 L83.7,168.8 L78.5,168.5 L72.9,169.1 L64.0,170.2 L56.2,170.8 L50.6,175.8 L43.9,181.4 L37.2,186.4 L36.0,192.0" fill="none" stroke="#ffff00" stroke-width="2" stroke-linejoin="round" stroke-linecap="round" filter="url(#b8)"/>
<path d="M138.1,112.5 L142.2,113.6 L143.0,120.1 L143.2,128.0 L143.0,136.3 L142.2,139.5 L137.3,142.8 L134.9,144.4 L133.3,149.3 L132.5,157.4 L130.9,163.9 L131.8,167.1 L130.5,169.8 L128.7,172.5 L126.0,175.1 L123.3,174.2 L122.4,172.5 L120.6,174.2 L118.0,174.2 L116.2,176.0 L114.4,179.6 L112.6,176.0 L109.9,176.9 L106.4,179.6 L102.8,179.6 L100.1,181.4 L96.6,182.3 L93.9,183.2 L91.2,185.0 L88.5,186.8 L88.0,192.0" fill="none" stroke="#30a020" stroke-width="6" stroke-linejoin="round" stroke-linecap="round" filter="url(#b8)"/>
<path d="M138.1,112.5 L142.2,113.6 L143.0,120.1 L143.2,128.0 L143.0,136.3 L142.2,139.5 L137.3,142.8 L134.9,144.4 L133.3,149.3 L132.5,157.4 L130.9,163.9 L131.8,167.1 L130.5,169.8 L128.7,172.5 L126.0,175.1 L123.3,174.2 L122.4,172.5 L120.6,174.2 L118.0,174.2 L116.2,176.0 L114.4,179.6 L112.6,176.0 L109.9,176.9 L106.4,179.6 L102.8,179.6 L100.1,181.4 L96.6,182.3 L93.9,183.2 L91.2,185.0 L88.5,186.8 L88.0,192.0" fill="none" stroke="#ffff00" stroke-width="3.0" stroke-linejoin="round" stroke-linecap="round" filter="url(#b8)"/>
<path d="M160.0,68.1 L153.2,68.1 L150.4,66.7 L147.5,63.8 L144.7,59.6 L142.6,58.9 L141.0,60.2 L140.3,65.9 L138.9,73.0 L136.7,78.6 L135.3,81.5 L134.6,84.3 L131.0,85.0 L128.2,85.0 L128.9,88.6 L125.4,91.4 L123.9,95.7 L125.4,100.0 L124.6,104.2 L127.5,105.6" fill="none" stroke="#30a020" stroke-width="6" stroke-linejoin="round" stroke-linecap="round" filter="url(#b8)"/>
<ellipse cx="6" cy="127" rx="2.5" ry="3.5" fill="#f04018"/>
<path d="M-5.0,177.0 L10.0,176.0 L22.0,174.0 L28.0,180.0 L26.0,195.0 L-5.0,195.0 Z" fill="#6ab810" filter="url(#b14)"/>
<path d="M44,89.5 L47.2,83 L49,88.5 L51.6,83.8 L53.8,90.5 L48,91.5 Z" fill="#ffe000"/>
<path d="M46.5,86 L47.2,83 L48.2,86 Z M51,86 L51.6,83.8 L52.5,86.5 Z" fill="#f08000"/>
</g>
<path d="M-10.0,-10.0 L129.7,-10.0 L129.7,0.2 L129.0,7.0 L128.3,12.7 L126.1,19.8 L122.6,25.5 L118.3,31.2 L114.1,36.5 L111.5,41.0 L108.5,45.5 L103.0,53.3 L94.8,61.5 L86.7,69.5 L79.5,77.5 L72.6,84.8 L66.1,88.9 L63.0,90.2 L58.9,91.0 L55.5,90.6 L53.0,89.5 L52.4,86.8 L51.6,84.4 L50.2,86.2 L48.8,87.6 L48.2,85.5 L47.2,83.6 L45.5,86.2 L42.5,88.6 L37.7,92.1 L33.6,95.4 L29.5,99.4 L27.1,104.0 L26.3,107.5 L23.8,112.4 L19.0,116.4 L12.5,120.5 L6.8,123.7 L5.2,127.8 L6.8,131.0 L10.8,133.4 L14.9,139.1 L18.1,146.4 L21.4,152.9 L23.8,159.4 L24.6,165.8 L24.2,171.0 L22.2,174.0 L17.3,175.6 L10.8,177.2 L4.4,178.8 L1.1,180.4 L-10.0,181.0 Z M144.7,-10.0 L164.0,-10.0 L164.0,14.1 L153.2,14.1 L151.1,17.0 L149.7,22.6 L149.7,28.3 L150.4,32.6 L152.5,34.7 L164.0,35.4 L164.0,42.5 L153.2,42.5 L151.8,43.2 L149.7,44.0 L147.5,45.4 L146.1,44.0 L144.7,39.7 L144.0,34.0 L144.0,26.9 L144.7,21.2 L143.3,17.0 L144.0,14.1 L144.7,7.0 Z M141.0,60.2 L142.6,58.9 L144.7,59.6 L147.5,63.8 L150.4,66.7 L153.2,68.1 L164.0,68.1 L164.0,98.5 L153.0,98.5 L148.8,95.7 L143.1,92.9 L137.4,92.1 L131.8,92.1 L128.9,93.6 L130.3,95.7 L133.2,97.1 L134.6,100.0 L132.5,101.4 L130.3,104.2 L127.5,105.6 L124.6,104.2 L125.4,100.0 L123.9,95.7 L125.4,91.4 L128.9,88.6 L128.2,85.0 L131.0,85.0 L134.6,84.3 L135.3,81.5 L136.7,78.6 L138.9,73.0 L140.3,65.9 Z M127.7,110.3 L128.9,109.2 L134.6,108.5 L136.0,111.3 L138.1,112.5 L142.2,113.6 L143.0,120.1 L143.2,128.0 L143.0,136.3 L142.2,139.5 L137.3,142.8 L134.9,144.4 L133.3,149.3 L132.5,157.4 L130.9,163.9 L131.8,167.1 L130.5,169.8 L128.7,172.5 L126.0,175.1 L123.3,174.2 L122.4,172.5 L120.6,174.2 L118.0,174.2 L116.2,176.0 L114.4,179.6 L112.6,176.0 L109.9,176.9 L106.4,179.6 L102.8,179.6 L100.1,181.4 L96.6,182.3 L93.9,183.2 L91.2,185.0 L88.5,186.8 L88.0,197.0 L36.0,197.0 L37.2,186.4 L43.9,181.4 L50.6,175.8 L56.2,170.8 L64.0,170.2 L72.9,169.1 L78.5,168.5 L83.7,168.8 L87.0,165.6 L90.2,160.7 L94.3,157.4 L95.9,153.4 L95.0,151.6 L95.6,149.8 L97.2,150.0 L98.4,150.9 L103.2,149.3 L109.7,147.7 L115.4,146.1 L119.5,141.2 L121.9,134.7 L124.4,128.2 L124.4,123.3 L125.2,116.8 Z" fill="#dcdcdc" stroke="#444" stroke-width="0.5"/>
<ellipse cx="52.5" cy="186" rx="2.6" ry="1.6" fill="#ffd800" stroke="#3a2a20" stroke-width="0.45"/>
<ellipse cx="57.5" cy="185" rx="2" ry="1.4" fill="#f0a800" stroke="#3a2a20" stroke-width="0.45"/>
<ellipse cx="62.5" cy="184.3" rx="2.4" ry="1.7" fill="#ffe000" stroke="#3a2a20" stroke-width="0.45"/>
<ellipse cx="68" cy="183" rx="2.6" ry="2" fill="#f0a800" stroke="#3a2a20" stroke-width="0.45"/>
<ellipse cx="73" cy="181.8" rx="2.4" ry="1.9" fill="#ffd800" stroke="#3a2a20" stroke-width="0.45"/>
<ellipse cx="78" cy="181.3" rx="2.2" ry="1.7" fill="#f08000" stroke="#3a2a20" stroke-width="0.45"/>
<ellipse cx="76.5" cy="185.6" rx="1.8" ry="1.4" fill="#ffff00" stroke="#3a2a20" stroke-width="0.45"/>
<path d="M93,177.8 L95.5,177.2 L97.8,178.8 L98.2,181.2 L95.8,181.8 L93.6,181 Z" fill="#f08000" stroke="#3a2a20" stroke-width="0.4"/>
<ellipse cx="95.8" cy="179.6" rx="1.1" ry="0.9" fill="#652d88"/>
<path d="M121.6,170.4 L123.8,169.6 L124.8,172 L123.4,174 L122,173.2 Z" fill="#f04018" stroke="#3a2a20" stroke-width="0.4"/>
<path d="M50,59.8 C52,58.2 56,58.4 57.2,60.8 C58.2,63 56.2,64.8 55.8,66.6 C55.3,68.6 53.2,69.8 51.6,68.8 C50.4,67.8 51.6,65.6 50,64.6 C48.4,63.4 48.4,61 50,59.8 Z" fill="#dcdcdc" stroke="#222" stroke-width="0.75"/>
<ellipse cx="109.6" cy="143.7" rx="1.8" ry="2.6" fill="#dcdcdc" stroke="#333" stroke-width="0.5"/>
<circle cx="59.5" cy="164" r="1.2" fill="#333"/>
<ellipse cx="22.6" cy="182.5" rx="1.3" ry="2" fill="#cfcfcf" stroke="#333" stroke-width="0.5"/>
<circle cx="1.5" cy="181.5" r="1.2" fill="#5a3a2a"/>
<circle cx="4.5" cy="179.8" r="0.9" fill="#c04020"/>
<circle cx="7" cy="179.5" r="1.3" fill="#4a3a30"/>
<circle cx="10.5" cy="178.2" r="0.8" fill="#7a4a3a"/>
<circle cx="12.5" cy="178.8" r="1.1" fill="#4a3a30"/>
<circle cx="15.8" cy="177.4" r="1.2" fill="#5a4a40"/>
<circle cx="18.6" cy="177" r="0.8" fill="#c05030"/>
<circle cx="3" cy="183" r="0.8" fill="#4a3a30"/>
<path d="M18.5,79 L20.5,76.5" stroke="#222" stroke-width="1"/>
<path d="M1.5,82.5 L3,81" stroke="#222" stroke-width="0.8"/>
<circle cx="133.5" cy="116.8" r="0.65" fill="#555"/>
<circle cx="130.9" cy="125.7" r="0.65" fill="#555"/>
<circle cx="125.2" cy="150" r="0.65" fill="#555"/>
<circle cx="119.5" cy="158.1" r="0.65" fill="#555"/>
<circle cx="106.5" cy="165.5" r="0.65" fill="#555"/>
<circle cx="140.5" cy="77" r="0.65" fill="#555"/>
<circle cx="146" cy="82" r="0.65" fill="#555"/>
<circle cx="50.6" cy="30.2" r="0.55" fill="#444"/>
<circle cx="55.5" cy="27.8" r="0.55" fill="#444"/>
<circle cx="60.4" cy="25.3" r="0.55" fill="#444"/>
<circle cx="64" cy="23.8" r="0.55" fill="#444"/>
<circle cx="68.2" cy="22.4" r="0.55" fill="#444"/>
<circle cx="77.9" cy="18.5" r="0.55" fill="#444"/>
<circle cx="81.8" cy="19.5" r="0.55" fill="#444"/>
<circle cx="86.7" cy="16.6" r="0.55" fill="#444"/>
<circle cx="89" cy="15" r="0.55" fill="#444"/>
<circle cx="91.5" cy="13.6" r="0.55" fill="#444"/>
<circle cx="95.4" cy="5.8" r="0.55" fill="#444"/>
<circle cx="97.4" cy="3.9" r="0.55" fill="#444"/>
</g>
<rect x="0.5" y="0.5" width="153.2" height="186.5" fill="none" stroke="#8a8a8a" stroke-width="1.2"/>
<path d="M10.2,0.5 H29.8 M10.2,187.0 H29.8" stroke="#222" stroke-width="1.3"/>
<path d="M48.5,0.5 H68 M48.5,187.0 H68" stroke="#222" stroke-width="1.3"/>
<path d="M86.8,0.5 H106.3 M86.8,187.0 H106.3" stroke="#222" stroke-width="1.3"/>
<path d="M125.1,0.5 H145.4 M125.1,187.0 H145.4" stroke="#222" stroke-width="1.3"/>
<path d="M0.5,0 V26.7 M153.7,0 V26.7" stroke="#222" stroke-width="1.3"/>
<path d="M0.5,52.2 V75.7 M153.7,52.2 V75.7" stroke="#222" stroke-width="1.3"/>
<path d="M0.5,99.2 V121.7 M153.7,99.2 V121.7" stroke="#222" stroke-width="1.3"/>
<path d="M0.5,144.7 V167.7 M153.7,144.7 V167.7" stroke="#222" stroke-width="1.3"/>
<text transform="translate(9.0,20.4) scale(1.078,1)" class="ttl">Sep</text>
<text x="30.2" y="201.5" class="lon">130E</text>
<text x="68.2" y="201.5" class="lon">134E</text>
<text x="106.2" y="201.5" class="lon">138E</text>
<text x="144.2" y="201.5" class="lon">142E</text>
</g><g transform="translate(518.50,225.50)">
<g clip-path="url(#clp)">
<g filter="url(#soft)">
<path d="M-5.0,-5.0 L160.0,-5.0 L160.0,195.0 L-5.0,195.0 Z" fill="#3a8a2a"/>
<path d="M-5.0,-5.0 L160.0,-5.0 L160.0,195.0 L-5.0,195.0 Z" fill="#30a020" filter="url(#s40_93)"/>
<path d="M-5.0,95.0 L50.0,95.0 L55.0,130.0 L50.0,195.0 L-5.0,195.0 Z" fill="#30a020" filter="url(#s40_91)"/>
<path d="M38.0,100.0 L60.0,92.0 L85.0,75.0 L100.0,55.0 L112.0,38.0 L135.0,30.0 L142.0,60.0 L136.0,100.0 L125.0,130.0 L118.0,165.0 L90.0,176.0 L60.0,172.0 L42.0,160.0 L38.0,130.0 Z" fill="#2e5a35" filter="url(#b25)"/>
<path d="M38.0,100.0 L60.0,92.0 L85.0,75.0 L100.0,55.0 L112.0,38.0 L135.0,30.0 L142.0,60.0 L136.0,100.0 L125.0,130.0 L118.0,165.0 L90.0,176.0 L60.0,172.0 L42.0,160.0 L38.0,130.0 Z" fill="#3a8a2a" filter="url(#s20_94)"/>
<path d="M57.0,114.0 L65.0,101.0 L78.0,92.0 L88.0,84.0 L100.0,76.0 L111.0,68.0 L120.0,61.0 L126.0,57.0 L133.0,62.0 L133.0,70.0 L131.7,91.6 L122.0,107.0 L118.0,122.0 L110.7,141.0 L99.0,152.0 L88.0,149.0 L76.0,137.0 L68.0,126.0 Z" fill="#98e8f5" filter="url(#s94_92)"/>
<path d="M66.0,125.0 L110.0,118.0 L112.0,140.0 L100.0,154.0 L85.0,150.0 Z" fill="#2e5a35" filter="url(#s35_95)"/>
<path d="M124.0,-3.0 L147.0,-3.0 L147.0,40.0 L140.0,38.0 L128.0,32.0 L115.0,36.0 Z" fill="#6ab810" filter="url(#b14)"/>
<path d="M127.0,-3.0 L147.0,-3.0 L146.0,22.0 L138.0,30.0 L126.0,22.0 Z" fill="#b0e000" filter="url(#s30_96)"/>
<path d="M147.0,8.0 L160.0,8.0 L160.0,38.0 L147.0,38.0 Z" fill="#f08000" filter="url(#b14)"/>
<path d="M136.0,42.0 L160.0,42.0 L160.0,72.0 L136.0,72.0 Z" fill="#ffff00" filter="url(#b14)"/>
<path d="M136.0,42.0 L160.0,42.0 L160.0,72.0 L136.0,72.0 Z" fill="#6ab810" filter="url(#s40_97)"/>
<path d="M128.0,91.0 L160.0,91.0 L160.0,195.0 L85.0,195.0 L95.0,182.0 L112.0,176.0 L126.0,168.0 L129.0,150.0 L131.0,130.0 L130.0,112.0 L129.0,104.0 Z" fill="#30a020" filter="url(#b14)"/>
<path d="M128.0,91.0 L160.0,91.0 L160.0,195.0 L85.0,195.0 L95.0,182.0 L112.0,176.0 L126.0,168.0 L129.0,150.0 L131.0,130.0 L130.0,112.0 L129.0,104.0 Z" fill="#3a8a2a" filter="url(#s30_98)"/>
<path d="M85.0,195.0 L95.0,184.0 L110.0,178.0 L125.0,174.0 L135.0,166.0 L160.0,150.0 L160.0,195.0 Z" fill="#98e8f5" filter="url(#b14)"/>
<path d="M110.0,195.0 L130.0,184.0 L145.0,174.0 L160.0,165.0 L160.0,195.0 Z" fill="#7ba0f0" filter="url(#b14)"/>
<path d="M129.7,-10.0 L129.7,0.2 L129.0,7.0 L128.3,12.7 L126.1,19.8 L122.6,25.5 L118.3,31.2 L114.1,36.5 L111.5,41.0 L108.5,45.5 L103.0,53.3 L94.8,61.5 L86.7,69.5 L79.5,77.5 L72.6,84.8 L66.1,88.9 L63.0,90.2 L58.9,91.0 L55.5,90.6 L53.0,89.5 L52.4,86.8 L51.6,84.4 L50.2,86.2 L48.8,87.6" fill="none" stroke="#30a020" stroke-width="20" stroke-linejoin="round" stroke-linecap="round" filter="url(#b8)"/>
<path d="M129.7,-10.0 L129.7,0.2 L129.0,7.0 L128.3,12.7 L126.1,19.8 L122.6,25.5 L118.3,31.2 L114.1,36.5 L111.5,41.0 L108.5,45.5 L103.0,53.3 L94.8,61.5 L86.7,69.5 L79.5,77.5 L72.6,84.8 L66.1,88.9 L63.0,90.2 L58.9,91.0 L55.5,90.6 L53.0,89.5 L52.4,86.8 L51.6,84.4 L50.2,86.2 L48.8,87.6" fill="none" stroke="#6ab810" stroke-width="10" stroke-linejoin="round" stroke-linecap="round" filter="url(#b8)"/>
<path d="M129.7,-10.0 L129.7,0.2 L129.0,7.0 L128.3,12.7 L126.1,19.8 L122.6,25.5 L118.3,31.2 L114.1,36.5 L111.5,41.0 L108.5,45.5 L103.0,53.3 L94.8,61.5 L86.7,69.5 L79.5,77.5 L72.6,84.8 L66.1,88.9 L63.0,90.2 L58.9,91.0 L55.5,90.6 L53.0,89.5 L52.4,86.8 L51.6,84.4 L50.2,86.2 L48.8,87.6" fill="none" stroke="#ffff00" stroke-width="3.0" stroke-linejoin="round" stroke-linecap="round" filter="url(#b8)"/>
<path d="M129.7,-10.0 L129.7,0.2 L129.0,7.0 L128.3,12.7 L126.1,19.8 L122.6,25.5 L118.3,31.2 L114.1,36.5 L111.5,41.0 L108.5,45.5 L103.0,53.3 L94.8,61.5 L86.7,69.5 L79.5,77.5 L72.6,84.8 L66.1,88.9 L63.0,90.2 L58.9,91.0 L55.5,90.6 L53.0,89.5 L52.4,86.8 L51.6,84.4 L50.2,86.2 L48.8,87.6" fill="none" stroke="#f08000" stroke-width="1.2" stroke-linejoin="round" stroke-linecap="round" filter="url(#b8)"/>
<path d="M48.8,87.6 L48.2,85.5 L47.2,83.6 L45.5,86.2 L42.5,88.6 L37.7,92.1 L33.6,95.4 L29.5,99.4 L27.1,104.0 L26.3,107.5 L23.8,112.4 L19.0,116.4 L12.5,120.5 L6.8,123.7 L5.2,127.8 L6.8,131.0 L10.8,133.4 L14.9,139.1 L18.1,146.4 L21.4,152.9 L23.8,159.4 L24.6,165.8 L24.2,171.0 L22.2,174.0 L17.3,175.6 L10.8,177.2 L4.4,178.8 L1.1,180.4 L-10.0,181.0" fill="none" stroke="#30a020" stroke-width="20" stroke-linejoin="round" stroke-linecap="round" filter="url(#b8)"/>
<path d="M48.8,87.6 L48.2,85.5 L47.2,83.6 L45.5,86.2 L42.5,88.6 L37.7,92.1 L33.6,95.4 L29.5,99.4 L27.1,104.0 L26.3,107.5 L23.8,112.4 L19.0,116.4 L12.5,120.5 L6.8,123.7 L5.2,127.8 L6.8,131.0 L10.8,133.4 L14.9,139.1 L18.1,146.4 L21.4,152.9 L23.8,159.4 L24.6,165.8 L24.2,171.0 L22.2,174.0 L17.3,175.6 L10.8,177.2 L4.4,178.8 L1.1,180.4 L-10.0,181.0" fill="none" stroke="#6ab810" stroke-width="14" stroke-linejoin="round" stroke-linecap="round" filter="url(#b8)"/>
<path d="M48.8,87.6 L48.2,85.5 L47.2,83.6 L45.5,86.2 L42.5,88.6 L37.7,92.1 L33.6,95.4 L29.5,99.4 L27.1,104.0 L26.3,107.5 L23.8,112.4 L19.0,116.4 L12.5,120.5 L6.8,123.7 L5.2,127.8 L6.8,131.0 L10.8,133.4 L14.9,139.1 L18.1,146.4 L21.4,152.9 L23.8,159.4 L24.6,165.8 L24.2,171.0 L22.2,174.0 L17.3,175.6 L10.8,177.2 L4.4,178.8 L1.1,180.4 L-10.0,181.0" fill="none" stroke="#ffff00" stroke-width="6" stroke-linejoin="round" stroke-linecap="round" filter="url(#b8)"/>
<path d="M138.1,112.5 L136.0,111.3 L134.6,108.5 L128.9,109.2 L127.7,110.3 L125.2,116.8 L124.4,123.3 L124.4,128.2 L121.9,134.7 L119.5,141.2 L115.4,146.1 L109.7,147.7 L103.2,149.3 L98.4,150.9 L97.2,150.0 L95.6,149.8 L95.0,151.6 L95.9,153.4 L94.3,157.4 L90.2,160.7 L87.0,165.6 L83.7,168.8 L78.5,168.5 L72.9,169.1 L64.0,170.2 L56.2,170.8 L50.6,175.8 L43.9,181.4 L37.2,186.4 L36.0,192.0" fill="none" stroke="#30a020" stroke-width="6" stroke-linejoin="round" stroke-linecap="round" filter="url(#b8)"/>
<path d="M138.1,112.5 L136.0,111.3 L134.6,108.5 L128.9,109.2 L127.7,110.3 L125.2,116.8 L124.4,123.3 L124.4,128.2 L121.9,134.7 L119.5,141.2 L115.4,146.1 L109.7,147.7 L103.2,149.3 L98.4,150.9 L97.2,150.0 L95.6,149.8 L95.0,151.6 L95.9,153.4 L94.3,157.4 L90.2,160.7 L87.0,165.6 L83.7,168.8 L78.5,168.5 L72.9,169.1 L64.0,170.2 L56.2,170.8 L50.6,175.8 L43.9,181.4 L37.2,186.4 L36.0,192.0" fill="none" stroke="#ffff00" stroke-width="2.4" stroke-linejoin="round" stroke-linecap="round" filter="url(#b8)"/>
<path d="M138.1,112.5 L142.2,113.6 L143.0,120.1 L143.2,128.0 L143.0,136.3 L142.2,139.5 L137.3,142.8 L134.9,144.4 L133.3,149.3 L132.5,157.4 L130.9,163.9 L131.8,167.1 L130.5,169.8 L128.7,172.5 L126.0,175.1 L123.3,174.2 L122.4,172.5 L120.6,174.2 L118.0,174.2 L116.2,176.0 L114.4,179.6 L112.6,176.0 L109.9,176.9 L106.4,179.6 L102.8,179.6 L100.1,181.4 L96.6,182.3 L93.9,183.2 L91.2,185.0 L88.5,186.8 L88.0,192.0" fill="none" stroke="#6ab810" stroke-width="6" stroke-linejoin="round" stroke-linecap="round" filter="url(#b8)"/>
<path d="M138.1,112.5 L142.2,113.6 L143.0,120.1 L143.2,128.0 L143.0,136.3 L142.2,139.5 L137.3,142.8 L134.9,144.4 L133.3,149.3 L132.5,157.4 L130.9,163.9 L131.8,167.1 L130.5,169.8 L128.7,172.5 L126.0,175.1 L123.3,174.2 L122.4,172.5 L120.6,174.2 L118.0,174.2 L116.2,176.0 L114.4,179.6 L112.6,176.0 L109.9,176.9 L106.4,179.6 L102.8,179.6 L100.1,181.4 L96.6,182.3 L93.9,183.2 L91.2,185.0 L88.5,186.8 L88.0,192.0" fill="none" stroke="#ffff00" stroke-width="3.0" stroke-linejoin="round" stroke-linecap="round" filter="url(#b8)"/>
<path d="M144.7,-5.0 L144.7,7.0 L144.0,14.1 L143.3,17.0 L144.7,21.2 L144.0,26.9 L144.0,34.0 L144.7,39.7 L146.1,44.0 L147.5,45.4 L149.7,44.0 L151.8,43.2 L153.2,42.5 L160.0,42.5" fill="none" stroke="#ffff00" stroke-width="4" stroke-linejoin="round" stroke-linecap="round" filter="url(#b8)"/>
<path d="M160.0,14.1 L153.2,14.1 L151.1,17.0 L149.7,22.6 L149.7,28.3 L150.4,32.6 L152.5,34.7 L160.0,35.4" fill="none" stroke="#f08000" stroke-width="2" stroke-linejoin="round" stroke-linecap="round" filter="url(#b8)"/>
<ellipse cx="6" cy="127" rx="2.5" ry="3.5" fill="#f04018"/>
<path d="M-5.0,177.0 L10.0,176.0 L22.0,174.0 L28.0,180.0 L26.0,195.0 L-5.0,195.0 Z" fill="#ffff00" filter="url(#b14)"/>
<path d="M44,89.5 L47.2,83 L49,88.5 L51.6,83.8 L53.8,90.5 L48,91.5 Z" fill="#ffe000"/>
<path d="M46.5,86 L47.2,83 L48.2,86 Z M51,86 L51.6,83.8 L52.5,86.5 Z" fill="#f08000"/>
</g>
<path d="M-10.0,-10.0 L129.7,-10.0 L129.7,0.2 L129.0,7.0 L128.3,12.7 L126.1,19.8 L122.6,25.5 L118.3,31.2 L114.1,36.5 L111.5,41.0 L108.5,45.5 L103.0,53.3 L94.8,61.5 L86.7,69.5 L79.5,77.5 L72.6,84.8 L66.1,88.9 L63.0,90.2 L58.9,91.0 L55.5,90.6 L53.0,89.5 L52.4,86.8 L51.6,84.4 L50.2,86.2 L48.8,87.6 L48.2,85.5 L47.2,83.6 L45.5,86.2 L42.5,88.6 L37.7,92.1 L33.6,95.4 L29.5,99.4 L27.1,104.0 L26.3,107.5 L23.8,112.4 L19.0,116.4 L12.5,120.5 L6.8,123.7 L5.2,127.8 L6.8,131.0 L10.8,133.4 L14.9,139.1 L18.1,146.4 L21.4,152.9 L23.8,159.4 L24.6,165.8 L24.2,171.0 L22.2,174.0 L17.3,175.6 L10.8,177.2 L4.4,178.8 L1.1,180.4 L-10.0,181.0 Z M144.7,-10.0 L164.0,-10.0 L164.0,14.1 L153.2,14.1 L151.1,17.0 L149.7,22.6 L149.7,28.3 L150.4,32.6 L152.5,34.7 L164.0,35.4 L164.0,42.5 L153.2,42.5 L151.8,43.2 L149.7,44.0 L147.5,45.4 L146.1,44.0 L144.7,39.7 L144.0,34.0 L144.0,26.9 L144.7,21.2 L143.3,17.0 L144.0,14.1 L144.7,7.0 Z M141.0,60.2 L142.6,58.9 L144.7,59.6 L147.5,63.8 L150.4,66.7 L153.2,68.1 L164.0,68.1 L164.0,98.5 L153.0,98.5 L148.8,95.7 L143.1,92.9 L137.4,92.1 L131.8,92.1 L128.9,93.6 L130.3,95.7 L133.2,97.1 L134.6,100.0 L132.5,101.4 L130.3,104.2 L127.5,105.6 L124.6,104.2 L125.4,100.0 L123.9,95.7 L125.4,91.4 L128.9,88.6 L128.2,85.0 L131.0,85.0 L134.6,84.3 L135.3,81.5 L136.7,78.6 L138.9,73.0 L140.3,65.9 Z M127.7,110.3 L128.9,109.2 L134.6,108.5 L136.0,111.3 L138.1,112.5 L142.2,113.6 L143.0,120.1 L143.2,128.0 L143.0,136.3 L142.2,139.5 L137.3,142.8 L134.9,144.4 L133.3,149.3 L132.5,157.4 L130.9,163.9 L131.8,167.1 L130.5,169.8 L128.7,172.5 L126.0,175.1 L123.3,174.2 L122.4,172.5 L120.6,174.2 L118.0,174.2 L116.2,176.0 L114.4,179.6 L112.6,176.0 L109.9,176.9 L106.4,179.6 L102.8,179.6 L100.1,181.4 L96.6,182.3 L93.9,183.2 L91.2,185.0 L88.5,186.8 L88.0,197.0 L36.0,197.0 L37.2,186.4 L43.9,181.4 L50.6,175.8 L56.2,170.8 L64.0,170.2 L72.9,169.1 L78.5,168.5 L83.7,168.8 L87.0,165.6 L90.2,160.7 L94.3,157.4 L95.9,153.4 L95.0,151.6 L95.6,149.8 L97.2,150.0 L98.4,150.9 L103.2,149.3 L109.7,147.7 L115.4,146.1 L119.5,141.2 L121.9,134.7 L124.4,128.2 L124.4,123.3 L125.2,116.8 Z" fill="#dcdcdc" stroke="#444" stroke-width="0.5"/>
<ellipse cx="52.5" cy="186" rx="2.6" ry="1.6" fill="#ffd800" stroke="#3a2a20" stroke-width="0.45"/>
<ellipse cx="57.5" cy="185" rx="2" ry="1.4" fill="#f0a800" stroke="#3a2a20" stroke-width="0.45"/>
<ellipse cx="62.5" cy="184.3" rx="2.4" ry="1.7" fill="#ffe000" stroke="#3a2a20" stroke-width="0.45"/>
<ellipse cx="68" cy="183" rx="2.6" ry="2" fill="#f0a800" stroke="#3a2a20" stroke-width="0.45"/>
<ellipse cx="73" cy="181.8" rx="2.4" ry="1.9" fill="#ffd800" stroke="#3a2a20" stroke-width="0.45"/>
<ellipse cx="78" cy="181.3" rx="2.2" ry="1.7" fill="#f08000" stroke="#3a2a20" stroke-width="0.45"/>
<ellipse cx="76.5" cy="185.6" rx="1.8" ry="1.4" fill="#ffff00" stroke="#3a2a20" stroke-width="0.45"/>
<path d="M93,177.8 L95.5,177.2 L97.8,178.8 L98.2,181.2 L95.8,181.8 L93.6,181 Z" fill="#f08000" stroke="#3a2a20" stroke-width="0.4"/>
<ellipse cx="95.8" cy="179.6" rx="1.1" ry="0.9" fill="#652d88"/>
<path d="M121.6,170.4 L123.8,169.6 L124.8,172 L123.4,174 L122,173.2 Z" fill="#f04018" stroke="#3a2a20" stroke-width="0.4"/>
<path d="M50,59.8 C52,58.2 56,58.4 57.2,60.8 C58.2,63 56.2,64.8 55.8,66.6 C55.3,68.6 53.2,69.8 51.6,68.8 C50.4,67.8 51.6,65.6 50,64.6 C48.4,63.4 48.4,61 50,59.8 Z" fill="#dcdcdc" stroke="#222" stroke-width="0.75"/>
<ellipse cx="109.6" cy="143.7" rx="1.8" ry="2.6" fill="#dcdcdc" stroke="#333" stroke-width="0.5"/>
<circle cx="59.5" cy="164" r="1.2" fill="#333"/>
<ellipse cx="22.6" cy="182.5" rx="1.3" ry="2" fill="#cfcfcf" stroke="#333" stroke-width="0.5"/>
<circle cx="1.5" cy="181.5" r="1.2" fill="#5a3a2a"/>
<circle cx="4.5" cy="179.8" r="0.9" fill="#c04020"/>
<circle cx="7" cy="179.5" r="1.3" fill="#4a3a30"/>
<circle cx="10.5" cy="178.2" r="0.8" fill="#7a4a3a"/>
<circle cx="12.5" cy="178.8" r="1.1" fill="#4a3a30"/>
<circle cx="15.8" cy="177.4" r="1.2" fill="#5a4a40"/>
<circle cx="18.6" cy="177" r="0.8" fill="#c05030"/>
<circle cx="3" cy="183" r="0.8" fill="#4a3a30"/>
<path d="M18.5,79 L20.5,76.5" stroke="#222" stroke-width="1"/>
<path d="M1.5,82.5 L3,81" stroke="#222" stroke-width="0.8"/>
<circle cx="133.5" cy="116.8" r="0.65" fill="#555"/>
<circle cx="130.9" cy="125.7" r="0.65" fill="#555"/>
<circle cx="125.2" cy="150" r="0.65" fill="#555"/>
<circle cx="119.5" cy="158.1" r="0.65" fill="#555"/>
<circle cx="106.5" cy="165.5" r="0.65" fill="#555"/>
<circle cx="140.5" cy="77" r="0.65" fill="#555"/>
<circle cx="146" cy="82" r="0.65" fill="#555"/>
<circle cx="50.6" cy="30.2" r="0.55" fill="#444"/>
<circle cx="55.5" cy="27.8" r="0.55" fill="#444"/>
<circle cx="60.4" cy="25.3" r="0.55" fill="#444"/>
<circle cx="64" cy="23.8" r="0.55" fill="#444"/>
<circle cx="68.2" cy="22.4" r="0.55" fill="#444"/>
<circle cx="77.9" cy="18.5" r="0.55" fill="#444"/>
<circle cx="81.8" cy="19.5" r="0.55" fill="#444"/>
<circle cx="86.7" cy="16.6" r="0.55" fill="#444"/>
<circle cx="89" cy="15" r="0.55" fill="#444"/>
<circle cx="91.5" cy="13.6" r="0.55" fill="#444"/>
<circle cx="95.4" cy="5.8" r="0.55" fill="#444"/>
<circle cx="97.4" cy="3.9" r="0.55" fill="#444"/>
</g>
<rect x="0.5" y="0.5" width="153.2" height="186.5" fill="none" stroke="#8a8a8a" stroke-width="1.2"/>
<path d="M10.2,0.5 H29.8 M10.2,187.0 H29.8" stroke="#222" stroke-width="1.3"/>
<path d="M48.5,0.5 H68 M48.5,187.0 H68" stroke="#222" stroke-width="1.3"/>
<path d="M86.8,0.5 H106.3 M86.8,187.0 H106.3" stroke="#222" stroke-width="1.3"/>
<path d="M125.1,0.5 H145.4 M125.1,187.0 H145.4" stroke="#222" stroke-width="1.3"/>
<path d="M0.5,0 V26.7 M153.7,0 V26.7" stroke="#222" stroke-width="1.3"/>
<path d="M0.5,52.2 V75.7 M153.7,52.2 V75.7" stroke="#222" stroke-width="1.3"/>
<path d="M0.5,99.2 V121.7 M153.7,99.2 V121.7" stroke="#222" stroke-width="1.3"/>
<path d="M0.5,144.7 V167.7 M153.7,144.7 V167.7" stroke="#222" stroke-width="1.3"/>
<text transform="translate(9.0,20.4) scale(1.078,1)" class="ttl">Oct</text>
<text x="30.2" y="201.5" class="lon">130E</text>
<text x="68.2" y="201.5" class="lon">134E</text>
<text x="106.2" y="201.5" class="lon">138E</text>
<text x="144.2" y="201.5" class="lon">142E</text>
</g><g transform="translate(681.50,225.50)">
<g clip-path="url(#clp)">
<g filter="url(#soft)">
<path d="M-5.0,-5.0 L160.0,-5.0 L160.0,195.0 L-5.0,195.0 Z" fill="#40a81a"/>
<path d="M-5.0,-5.0 L160.0,-5.0 L160.0,195.0 L-5.0,195.0 Z" fill="#6ab810" filter="url(#s35_101)"/>
<path d="M-5.0,-5.0 L160.0,-5.0 L160.0,195.0 L-5.0,195.0 Z" fill="#b0e000" filter="url(#s8_102)"/>
<path d="M5.0,105.0 L40.0,105.0 L40.0,175.0 L5.0,175.0 Z" fill="#b0e000" filter="url(#s40_103)"/>
<path d="M60.0,140.0 L110.0,140.0 L110.0,175.0 L60.0,175.0 Z" fill="#3a8a2a" filter="url(#s35_104)"/>
<path d="M125.0,50.0 L140.0,50.0 L140.0,92.0 L125.0,92.0 Z" fill="#3a8a2a" filter="url(#s40_105)"/>
<path d="M124.0,-3.0 L147.0,-3.0 L147.0,40.0 L140.0,38.0 L128.0,32.0 L115.0,36.0 Z" fill="#b0e000" filter="url(#b14)"/>
<path d="M127.0,-3.0 L147.0,-3.0 L146.0,22.0 L138.0,30.0 L126.0,22.0 Z" fill="#ffff00" filter="url(#s50_106)"/>
<path d="M147.0,8.0 L160.0,8.0 L160.0,38.0 L147.0,38.0 Z" fill="#f0a800" filter="url(#b14)"/>
<path d="M136.0,42.0 L160.0,42.0 L160.0,72.0 L136.0,72.0 Z" fill="#ffff00" filter="url(#b14)"/>
<path d="M136.0,42.0 L160.0,42.0 L160.0,72.0 L136.0,72.0 Z" fill="#b0e000" filter="url(#s40_107)"/>
<path d="M128.0,91.0 L160.0,91.0 L160.0,195.0 L85.0,195.0 L95.0,182.0 L112.0,176.0 L126.0,168.0 L129.0,150.0 L131.0,130.0 L130.0,112.0 L129.0,104.0 Z" fill="#30a020" filter="url(#b14)"/>
<path d="M128.0,91.0 L160.0,91.0 L160.0,195.0 L85.0,195.0 L95.0,182.0 L112.0,176.0 L126.0,168.0 L129.0,150.0 L131.0,130.0 L130.0,112.0 L129.0,104.0 Z" fill="#3a8a2a" filter="url(#s30_108)"/>
<path d="M85.0,195.0 L95.0,184.0 L110.0,178.0 L125.0,174.0 L135.0,166.0 L160.0,150.0 L160.0,195.0 Z" fill="#98e8f5" filter="url(#b20)"/>
<path d="M110.0,195.0 L130.0,184.0 L145.0,174.0 L160.0,165.0 L160.0,195.0 Z" fill="#7ba0f0" filter="url(#b25)"/>
<path d="M129.7,-10.0 L129.7,0.2 L129.0,7.0 L128.3,12.7 L126.1,19.8 L122.6,25.5 L118.3,31.2 L114.1,36.5 L111.5,41.0 L108.5,45.5 L103.0,53.3 L94.8,61.5 L86.7,69.5 L79.5,77.5 L72.6,84.8 L66.1,88.9 L63.0,90.2 L58.9,91.0 L55.5,90.6 L53.0,89.5 L52.4,86.8 L51.6,84.4 L50.2,86.2 L48.8,87.6" fill="none" stroke="#b0e000" stroke-width="8" stroke-linejoin="round" stroke-linecap="round" filter="url(#b8)"/>
<path d="M129.7,-10.0 L129.7,0.2 L129.0,7.0 L128.3,12.7 L126.1,19.8 L122.6,25.5 L118.3,31.2 L114.1,36.5 L111.5,41.0 L108.5,45.5 L103.0,53.3 L94.8,61.5 L86.7,69.5 L79.5,77.5 L72.6,84.8 L66.1,88.9 L63.0,90.2 L58.9,91.0 L55.5,90.6 L53.0,89.5 L52.4,86.8 L51.6,84.4 L50.2,86.2 L48.8,87.6" fill="none" stroke="#ffff00" stroke-width="3.0" stroke-linejoin="round" stroke-linecap="round" filter="url(#b8)"/>
<path d="M129.7,-10.0 L129.7,0.2 L129.0,7.0 L128.3,12.7 L126.1,19.8 L122.6,25.5 L118.3,31.2 L114.1,36.5 L111.5,41.0 L108.5,45.5 L103.0,53.3 L94.8,61.5 L86.7,69.5 L79.5,77.5 L72.6,84.8 L66.1,88.9 L63.0,90.2 L58.9,91.0 L55.5,90.6 L53.0,89.5 L52.4,86.8 L51.6,84.4 L50.2,86.2 L48.8,87.6" fill="none" stroke="#f0a800" stroke-width="1.2" stroke-linejoin="round" stroke-linecap="round" filter="url(#b8)"/>
<path d="M48.8,87.6 L48.2,85.5 L47.2,83.6 L45.5,86.2 L42.5,88.6 L37.7,92.1 L33.6,95.4 L29.5,99.4 L27.1,104.0 L26.3,107.5 L23.8,112.4 L19.0,116.4 L12.5,120.5 L6.8,123.7 L5.2,127.8 L6.8,131.0 L10.8,133.4 L14.9,139.1 L18.1,146.4 L21.4,152.9 L23.8,159.4 L24.6,165.8 L24.2,171.0 L22.2,174.0 L17.3,175.6 L10.8,177.2 L4.4,178.8 L1.1,180.4 L-10.0,181.0" fill="none" stroke="#b0e000" stroke-width="14" stroke-linejoin="round" stroke-linecap="round" filter="url(#b8)"/>
<path d="M48.8,87.6 L48.2,85.5 L47.2,83.6 L45.5,86.2 L42.5,88.6 L37.7,92.1 L33.6,95.4 L29.5,99.4 L27.1,104.0 L26.3,107.5 L23.8,112.4 L19.0,116.4 L12.5,120.5 L6.8,123.7 L5.2,127.8 L6.8,131.0 L10.8,133.4 L14.9,139.1 L18.1,146.4 L21.4,152.9 L23.8,159.4 L24.6,165.8 L24.2,171.0 L22.2,174.0 L17.3,175.6 L10.8,177.2 L4.4,178.8 L1.1,180.4 L-10.0,181.0" fill="none" stroke="#ffff00" stroke-width="6" stroke-linejoin="round" stroke-linecap="round" filter="url(#b8)"/>
<path d="M48.8,87.6 L48.2,85.5 L47.2,83.6 L45.5,86.2 L42.5,88.6 L37.7,92.1 L33.6,95.4 L29.5,99.4 L27.1,104.0 L26.3,107.5 L23.8,112.4 L19.0,116.4 L12.5,120.5 L6.8,123.7 L5.2,127.8 L6.8,131.0 L10.8,133.4 L14.9,139.1 L18.1,146.4 L21.4,152.9 L23.8,159.4 L24.6,165.8 L24.2,171.0 L22.2,174.0 L17.3,175.6 L10.8,177.2 L4.4,178.8 L1.1,180.4 L-10.0,181.0" fill="none" stroke="#f0a800" stroke-width="2" stroke-linejoin="round" stroke-linecap="round" filter="url(#b8)"/>
<path d="M138.1,112.5 L142.2,113.6 L143.0,120.1 L143.2,128.0 L143.0,136.3 L142.2,139.5 L137.3,142.8 L134.9,144.4 L133.3,149.3 L132.5,157.4 L130.9,163.9 L131.8,167.1 L130.5,169.8 L128.7,172.5 L126.0,175.1 L123.3,174.2 L122.4,172.5 L120.6,174.2 L118.0,174.2 L116.2,176.0 L114.4,179.6 L112.6,176.0 L109.9,176.9 L106.4,179.6 L102.8,179.6 L100.1,181.4 L96.6,182.3 L93.9,183.2 L91.2,185.0 L88.5,186.8 L88.0,192.0" fill="none" stroke="#ffff00" stroke-width="4" stroke-linejoin="round" stroke-linecap="round" filter="url(#b8)"/>
<path d="M138.1,112.5 L142.2,113.6 L143.0,120.1 L143.2,128.0 L143.0,136.3 L142.2,139.5 L137.3,142.8 L134.9,144.4 L133.3,149.3 L132.5,157.4 L130.9,163.9 L131.8,167.1 L130.5,169.8 L128.7,172.5 L126.0,175.1 L123.3,174.2 L122.4,172.5 L120.6,174.2 L118.0,174.2 L116.2,176.0 L114.4,179.6 L112.6,176.0 L109.9,176.9 L106.4,179.6 L102.8,179.6 L100.1,181.4 L96.6,182.3 L93.9,183.2 L91.2,185.0 L88.5,186.8 L88.0,192.0" fill="none" stroke="#f0a800" stroke-width="1.6" stroke-linejoin="round" stroke-linecap="round" filter="url(#b8)"/>
<path d="M138.1,112.5 L136.0,111.3 L134.6,108.5 L128.9,109.2 L127.7,110.3 L125.2,116.8 L124.4,123.3 L124.4,128.2 L121.9,134.7 L119.5,141.2 L115.4,146.1 L109.7,147.7 L103.2,149.3 L98.4,150.9 L97.2,150.0 L95.6,149.8 L95.0,151.6 L95.9,153.4 L94.3,157.4 L90.2,160.7 L87.0,165.6 L83.7,168.8 L78.5,168.5 L72.9,169.1 L64.0,170.2 L56.2,170.8 L50.6,175.8 L43.9,181.4 L37.2,186.4 L36.0,192.0" fill="none" stroke="#ffff00" stroke-width="2" stroke-linejoin="round" stroke-linecap="round" filter="url(#b8)"/>
<path d="M160.0,14.1 L153.2,14.1 L151.1,17.0 L149.7,22.6 L149.7,28.3 L150.4,32.6 L152.5,34.7 L160.0,35.4" fill="none" stroke="#f08000" stroke-width="2" stroke-linejoin="round" stroke-linecap="round" filter="url(#b8)"/>
<ellipse cx="6" cy="127" rx="3" ry="4" fill="#f08000"/>
<path d="M-5.0,177.0 L10.0,176.0 L22.0,174.0 L28.0,180.0 L26.0,195.0 L-5.0,195.0 Z" fill="#ffff00" filter="url(#b14)"/>
<path d="M44,89.5 L47.2,83 L49,88.5 L51.6,83.8 L53.8,90.5 L48,91.5 Z" fill="#ffe000"/>
<path d="M46.5,86 L47.2,83 L48.2,86 Z M51,86 L51.6,83.8 L52.5,86.5 Z" fill="#f08000"/>
</g>
<path d="M-10.0,-10.0 L129.7,-10.0 L129.7,0.2 L129.0,7.0 L128.3,12.7 L126.1,19.8 L122.6,25.5 L118.3,31.2 L114.1,36.5 L111.5,41.0 L108.5,45.5 L103.0,53.3 L94.8,61.5 L86.7,69.5 L79.5,77.5 L72.6,84.8 L66.1,88.9 L63.0,90.2 L58.9,91.0 L55.5,90.6 L53.0,89.5 L52.4,86.8 L51.6,84.4 L50.2,86.2 L48.8,87.6 L48.2,85.5 L47.2,83.6 L45.5,86.2 L42.5,88.6 L37.7,92.1 L33.6,95.4 L29.5,99.4 L27.1,104.0 L26.3,107.5 L23.8,112.4 L19.0,116.4 L12.5,120.5 L6.8,123.7 L5.2,127.8 L6.8,131.0 L10.8,133.4 L14.9,139.1 L18.1,146.4 L21.4,152.9 L23.8,159.4 L24.6,165.8 L24.2,171.0 L22.2,174.0 L17.3,175.6 L10.8,177.2 L4.4,178.8 L1.1,180.4 L-10.0,181.0 Z M144.7,-10.0 L164.0,-10.0 L164.0,14.1 L153.2,14.1 L151.1,17.0 L149.7,22.6 L149.7,28.3 L150.4,32.6 L152.5,34.7 L164.0,35.4 L164.0,42.5 L153.2,42.5 L151.8,43.2 L149.7,44.0 L147.5,45.4 L146.1,44.0 L144.7,39.7 L144.0,34.0 L144.0,26.9 L144.7,21.2 L143.3,17.0 L144.0,14.1 L144.7,7.0 Z M141.0,60.2 L142.6,58.9 L144.7,59.6 L147.5,63.8 L150.4,66.7 L153.2,68.1 L164.0,68.1 L164.0,98.5 L153.0,98.5 L148.8,95.7 L143.1,92.9 L137.4,92.1 L131.8,92.1 L128.9,93.6 L130.3,95.7 L133.2,97.1 L134.6,100.0 L132.5,101.4 L130.3,104.2 L127.5,105.6 L124.6,104.2 L125.4,100.0 L123.9,95.7 L125.4,91.4 L128.9,88.6 L128.2,85.0 L131.0,85.0 L134.6,84.3 L135.3,81.5 L136.7,78.6 L138.9,73.0 L140.3,65.9 Z M127.7,110.3 L128.9,109.2 L134.6,108.5 L136.0,111.3 L138.1,112.5 L142.2,113.6 L143.0,120.1 L143.2,128.0 L143.0,136.3 L142.2,139.5 L137.3,142.8 L134.9,144.4 L133.3,149.3 L132.5,157.4 L130.9,163.9 L131.8,167.1 L130.5,169.8 L128.7,172.5 L126.0,175.1 L123.3,174.2 L122.4,172.5 L120.6,174.2 L118.0,174.2 L116.2,176.0 L114.4,179.6 L112.6,176.0 L109.9,176.9 L106.4,179.6 L102.8,179.6 L100.1,181.4 L96.6,182.3 L93.9,183.2 L91.2,185.0 L88.5,186.8 L88.0,197.0 L36.0,197.0 L37.2,186.4 L43.9,181.4 L50.6,175.8 L56.2,170.8 L64.0,170.2 L72.9,169.1 L78.5,168.5 L83.7,168.8 L87.0,165.6 L90.2,160.7 L94.3,157.4 L95.9,153.4 L95.0,151.6 L95.6,149.8 L97.2,150.0 L98.4,150.9 L103.2,149.3 L109.7,147.7 L115.4,146.1 L119.5,141.2 L121.9,134.7 L124.4,128.2 L124.4,123.3 L125.2,116.8 Z" fill="#dcdcdc" stroke="#444" stroke-width="0.5"/>
<ellipse cx="52.5" cy="186" rx="2.6" ry="1.6" fill="#ffd800" stroke="#3a2a20" stroke-width="0.45"/>
<ellipse cx="57.5" cy="185" rx="2" ry="1.4" fill="#f0a800" stroke="#3a2a20" stroke-width="0.45"/>
<ellipse cx="62.5" cy="184.3" rx="2.4" ry="1.7" fill="#ffe000" stroke="#3a2a20" stroke-width="0.45"/>
<ellipse cx="68" cy="183" rx="2.6" ry="2" fill="#f0a800" stroke="#3a2a20" stroke-width="0.45"/>
<ellipse cx="73" cy="181.8" rx="2.4" ry="1.9" fill="#ffd800" stroke="#3a2a20" stroke-width="0.45"/>
<ellipse cx="78" cy="181.3" rx="2.2" ry="1.7" fill="#f08000" stroke="#3a2a20" stroke-width="0.45"/>
<ellipse cx="76.5" cy="185.6" rx="1.8" ry="1.4" fill="#ffff00" stroke="#3a2a20" stroke-width="0.45"/>
<path d="M93,177.8 L95.5,177.2 L97.8,178.8 L98.2,181.2 L95.8,181.8 L93.6,181 Z" fill="#f08000" stroke="#3a2a20" stroke-width="0.4"/>
<ellipse cx="95.8" cy="179.6" rx="1.1" ry="0.9" fill="#652d88"/>
<path d="M121.6,170.4 L123.8,169.6 L124.8,172 L123.4,174 L122,173.2 Z" fill="#f04018" stroke="#3a2a20" stroke-width="0.4"/>
<path d="M50,59.8 C52,58.2 56,58.4 57.2,60.8 C58.2,63 56.2,64.8 55.8,66.6 C55.3,68.6 53.2,69.8 51.6,68.8 C50.4,67.8 51.6,65.6 50,64.6 C48.4,63.4 48.4,61 50,59.8 Z" fill="#dcdcdc" stroke="#222" stroke-width="0.75"/>
<ellipse cx="109.6" cy="143.7" rx="1.8" ry="2.6" fill="#dcdcdc" stroke="#333" stroke-width="0.5"/>
<circle cx="59.5" cy="164" r="1.2" fill="#333"/>
<ellipse cx="22.6" cy="182.5" rx="1.3" ry="2" fill="#cfcfcf" stroke="#333" stroke-width="0.5"/>
<circle cx="1.5" cy="181.5" r="1.2" fill="#5a3a2a"/>
<circle cx="4.5" cy="179.8" r="0.9" fill="#c04020"/>
<circle cx="7" cy="179.5" r="1.3" fill="#4a3a30"/>
<circle cx="10.5" cy="178.2" r="0.8" fill="#7a4a3a"/>
<circle cx="12.5" cy="178.8" r="1.1" fill="#4a3a30"/>
<circle cx="15.8" cy="177.4" r="1.2" fill="#5a4a40"/>
<circle cx="18.6" cy="177" r="0.8" fill="#c05030"/>
<circle cx="3" cy="183" r="0.8" fill="#4a3a30"/>
<path d="M18.5,79 L20.5,76.5" stroke="#222" stroke-width="1"/>
<path d="M1.5,82.5 L3,81" stroke="#222" stroke-width="0.8"/>
<circle cx="133.5" cy="116.8" r="0.65" fill="#555"/>
<circle cx="130.9" cy="125.7" r="0.65" fill="#555"/>
<circle cx="125.2" cy="150" r="0.65" fill="#555"/>
<circle cx="119.5" cy="158.1" r="0.65" fill="#555"/>
<circle cx="106.5" cy="165.5" r="0.65" fill="#555"/>
<circle cx="140.5" cy="77" r="0.65" fill="#555"/>
<circle cx="146" cy="82" r="0.65" fill="#555"/>
<circle cx="50.6" cy="30.2" r="0.55" fill="#444"/>
<circle cx="55.5" cy="27.8" r="0.55" fill="#444"/>
<circle cx="60.4" cy="25.3" r="0.55" fill="#444"/>
<circle cx="64" cy="23.8" r="0.55" fill="#444"/>
<circle cx="68.2" cy="22.4" r="0.55" fill="#444"/>
<circle cx="77.9" cy="18.5" r="0.55" fill="#444"/>
<circle cx="81.8" cy="19.5" r="0.55" fill="#444"/>
<circle cx="86.7" cy="16.6" r="0.55" fill="#444"/>
<circle cx="89" cy="15" r="0.55" fill="#444"/>
<circle cx="91.5" cy="13.6" r="0.55" fill="#444"/>
<circle cx="95.4" cy="5.8" r="0.55" fill="#444"/>
<circle cx="97.4" cy="3.9" r="0.55" fill="#444"/>
</g>
<rect x="0.5" y="0.5" width="153.2" height="186.5" fill="none" stroke="#8a8a8a" stroke-width="1.2"/>
<path d="M10.2,0.5 H29.8 M10.2,187.0 H29.8" stroke="#222" stroke-width="1.3"/>
<path d="M48.5,0.5 H68 M48.5,187.0 H68" stroke="#222" stroke-width="1.3"/>
<path d="M86.8,0.5 H106.3 M86.8,187.0 H106.3" stroke="#222" stroke-width="1.3"/>
<path d="M125.1,0.5 H145.4 M125.1,187.0 H145.4" stroke="#222" stroke-width="1.3"/>
<path d="M0.5,0 V26.7 M153.7,0 V26.7" stroke="#222" stroke-width="1.3"/>
<path d="M0.5,52.2 V75.7 M153.7,52.2 V75.7" stroke="#222" stroke-width="1.3"/>
<path d="M0.5,99.2 V121.7 M153.7,99.2 V121.7" stroke="#222" stroke-width="1.3"/>
<path d="M0.5,144.7 V167.7 M153.7,144.7 V167.7" stroke="#222" stroke-width="1.3"/>
<text transform="translate(9.0,20.4) scale(1.078,1)" class="ttl">Nov</text>
<text x="30.2" y="201.5" class="lon">130E</text>
<text x="68.2" y="201.5" class="lon">134E</text>
<text x="106.2" y="201.5" class="lon">138E</text>
<text x="144.2" y="201.5" class="lon">142E</text>
</g><g transform="translate(844.50,225.50)">
<g clip-path="url(#clp)">
<g filter="url(#soft)">
<path d="M-5.0,-5.0 L160.0,-5.0 L160.0,195.0 L-5.0,195.0 Z" fill="#30a020"/>
<path d="M-5.0,-5.0 L160.0,-5.0 L160.0,195.0 L-5.0,195.0 Z" fill="#3a8a2a" filter="url(#s35_111)"/>
<path d="M-5.0,-5.0 L160.0,-5.0 L160.0,195.0 L-5.0,195.0 Z" fill="#6ab810" filter="url(#s15_112)"/>
<path d="M25.0,115.0 L75.0,112.0 L75.0,150.0 L30.0,150.0 Z" fill="#b0e000" filter="url(#s25_113)"/>
<path d="M30.0,120.0 L70.0,120.0 L70.0,148.0 L30.0,148.0 Z" fill="#ffff00" filter="url(#s7_121)"/>
<path d="M30.0,125.0 L70.0,125.0 L70.0,148.0 L30.0,148.0 Z" fill="#f0a800" filter="url(#s4_114)"/>
<path d="M48.0,150.0 L70.0,143.0 L95.0,140.0 L100.0,160.0 L95.0,175.0 L60.0,178.0 L45.0,170.0 Z" fill="#98e8f5" filter="url(#s42_115)"/>
<path d="M95.0,118.0 L122.0,112.0 L122.0,150.0 L105.0,162.0 L95.0,160.0 Z" fill="#98e8f5" filter="url(#s35_116)"/>
<path d="M15.0,160.0 L55.0,160.0 L50.0,192.0 L15.0,192.0 Z" fill="#2e5a35" filter="url(#s55_117)"/>
<path d="M124.0,30.0 L142.0,30.0 L140.0,96.0 L124.0,96.0 Z" fill="#98e8f5" filter="url(#s35_118)"/>
<path d="M124.0,30.0 L142.0,30.0 L140.0,96.0 L124.0,96.0 Z" fill="#2e5a35" filter="url(#s40_119)"/>
<path d="M120.0,-5.0 L150.0,-5.0 L150.0,45.0 L144.0,45.0 L140.0,34.0 L128.0,28.0 L119.0,29.0 Z" fill="#ffffff" filter="url(#b14)"/>
<ellipse cx="134" cy="30" rx="8" ry="3.5" fill="#2e5a35" filter="url(#b10)"/>
<path d="M148.0,-3.0 L160.0,-3.0 L160.0,40.0 L148.0,40.0 Z" fill="#ffffff" filter="url(#b14)"/>
<path d="M136.0,42.0 L160.0,42.0 L160.0,72.0 L136.0,72.0 Z" fill="#ffff00" filter="url(#b14)"/>
<path d="M136.0,42.0 L160.0,42.0 L160.0,72.0 L136.0,72.0 Z" fill="#6ab810" filter="url(#s40_122)"/>
<path d="M128.0,91.0 L160.0,91.0 L160.0,195.0 L85.0,195.0 L95.0,182.0 L112.0,176.0 L126.0,168.0 L129.0,150.0 L131.0,130.0 L130.0,112.0 L129.0,104.0 Z" fill="#2e5a35" filter="url(#b14)"/>
<path d="M128.0,91.0 L160.0,91.0 L160.0,195.0 L85.0,195.0 L95.0,182.0 L112.0,176.0 L126.0,168.0 L129.0,150.0 L131.0,130.0 L130.0,112.0 L129.0,104.0 Z" fill="#98e8f5" filter="url(#s40_120)"/>
<path d="M85.0,195.0 L95.0,184.0 L110.0,178.0 L125.0,174.0 L135.0,166.0 L160.0,150.0 L160.0,195.0 Z" fill="#98e8f5" filter="url(#b14)"/>
<path d="M110.0,195.0 L130.0,184.0 L145.0,174.0 L160.0,165.0 L160.0,195.0 Z" fill="#7ba0f0" filter="url(#b14)"/>
<path d="M129.7,-10.0 L129.7,0.2 L129.0,7.0 L128.3,12.7 L126.1,19.8 L122.6,25.5 L118.3,31.2 L114.1,36.5 L111.5,41.0 L108.5,45.5 L103.0,53.3 L94.8,61.5 L86.7,69.5 L79.5,77.5 L72.6,84.8 L66.1,88.9 L63.0,90.2 L58.9,91.0 L55.5,90.6 L53.0,89.5 L52.4,86.8 L51.6,84.4 L50.2,86.2 L48.8,87.6" fill="none" stroke="#6ab810" stroke-width="6" stroke-linejoin="round" stroke-linecap="round" filter="url(#b8)"/>
<path d="M129.7,-10.0 L129.7,0.2 L129.0,7.0 L128.3,12.7 L126.1,19.8 L122.6,25.5 L118.3,31.2 L114.1,36.5 L111.5,41.0 L108.5,45.5 L103.0,53.3 L94.8,61.5 L86.7,69.5 L79.5,77.5 L72.6,84.8 L66.1,88.9 L63.0,90.2 L58.9,91.0 L55.5,90.6 L53.0,89.5 L52.4,86.8 L51.6,84.4 L50.2,86.2 L48.8,87.6" fill="none" stroke="#ffff00" stroke-width="2" stroke-linejoin="round" stroke-linecap="round" filter="url(#b8)"/>
<path d="M48.8,87.6 L48.2,85.5 L47.2,83.6 L45.5,86.2 L42.5,88.6 L37.7,92.1 L33.6,95.4 L29.5,99.4 L27.1,104.0 L26.3,107.5 L23.8,112.4 L19.0,116.4 L12.5,120.5 L6.8,123.7 L5.2,127.8 L6.8,131.0 L10.8,133.4 L14.9,139.1 L18.1,146.4 L21.4,152.9 L23.8,159.4 L24.6,165.8 L24.2,171.0 L22.2,174.0 L17.3,175.6 L10.8,177.2 L4.4,178.8 L1.1,180.4 L-10.0,181.0" fill="none" stroke="#6ab810" stroke-width="12" stroke-linejoin="round" stroke-linecap="round" filter="url(#b8)"/>
<path d="M48.8,87.6 L48.2,85.5 L47.2,83.6 L45.5,86.2 L42.5,88.6 L37.7,92.1 L33.6,95.4 L29.5,99.4 L27.1,104.0 L26.3,107.5 L23.8,112.4 L19.0,116.4 L12.5,120.5 L6.8,123.7 L5.2,127.8 L6.8,131.0 L10.8,133.4 L14.9,139.1 L18.1,146.4 L21.4,152.9 L23.8,159.4 L24.6,165.8 L24.2,171.0 L22.2,174.0 L17.3,175.6 L10.8,177.2 L4.4,178.8 L1.1,180.4 L-10.0,181.0" fill="none" stroke="#ffff00" stroke-width="6" stroke-linejoin="round" stroke-linecap="round" filter="url(#b8)"/>
<path d="M48.8,87.6 L48.2,85.5 L47.2,83.6 L45.5,86.2 L42.5,88.6 L37.7,92.1 L33.6,95.4 L29.5,99.4 L27.1,104.0 L26.3,107.5 L23.8,112.4 L19.0,116.4 L12.5,120.5 L6.8,123.7 L5.2,127.8 L6.8,131.0 L10.8,133.4 L14.9,139.1 L18.1,146.4 L21.4,152.9 L23.8,159.4 L24.6,165.8 L24.2,171.0 L22.2,174.0 L17.3,175.6 L10.8,177.2 L4.4,178.8 L1.1,180.4 L-10.0,181.0" fill="none" stroke="#f0a800" stroke-width="2" stroke-linejoin="round" stroke-linecap="round" filter="url(#b8)"/>
<path d="M138.1,112.5 L142.2,113.6 L143.0,120.1 L143.2,128.0 L143.0,136.3 L142.2,139.5 L137.3,142.8 L134.9,144.4 L133.3,149.3 L132.5,157.4 L130.9,163.9 L131.8,167.1 L130.5,169.8 L128.7,172.5 L126.0,175.1 L123.3,174.2 L122.4,172.5 L120.6,174.2 L118.0,174.2 L116.2,176.0 L114.4,179.6 L112.6,176.0 L109.9,176.9 L106.4,179.6 L102.8,179.6 L100.1,181.4 L96.6,182.3 L93.9,183.2 L91.2,185.0 L88.5,186.8 L88.0,192.0" fill="none" stroke="#ffff00" stroke-width="4" stroke-linejoin="round" stroke-linecap="round" filter="url(#b8)"/>
<path d="M138.1,112.5 L136.0,111.3 L134.6,108.5 L128.9,109.2 L127.7,110.3 L125.2,116.8 L124.4,123.3 L124.4,128.2 L121.9,134.7 L119.5,141.2 L115.4,146.1 L109.7,147.7 L103.2,149.3 L98.4,150.9 L97.2,150.0 L95.6,149.8 L95.0,151.6 L95.9,153.4 L94.3,157.4 L90.2,160.7 L87.0,165.6 L83.7,168.8 L78.5,168.5 L72.9,169.1 L64.0,170.2 L56.2,170.8 L50.6,175.8 L43.9,181.4 L37.2,186.4 L36.0,192.0" fill="none" stroke="#ffff00" stroke-width="2" stroke-linejoin="round" stroke-linecap="round" filter="url(#b8)"/>
<ellipse cx="6" cy="127" rx="3" ry="4" fill="#f08000"/>
<path d="M-5.0,177.0 L10.0,176.0 L22.0,174.0 L28.0,180.0 L26.0,195.0 L-5.0,195.0 Z" fill="#ffff00" filter="url(#b14)"/>
<path d="M44,89.5 L47.2,83 L49,88.5 L51.6,83.8 L53.8,90.5 L48,91.5 Z" fill="#ffe000"/>
<path d="M46.5,86 L47.2,83 L48.2,86 Z M51,86 L51.6,83.8 L52.5,86.5 Z" fill="#f08000"/>
</g>
<path d="M-10.0,-10.0 L129.7,-10.0 L129.7,0.2 L129.0,7.0 L128.3,12.7 L126.1,19.8 L122.6,25.5 L118.3,31.2 L114.1,36.5 L111.5,41.0 L108.5,45.5 L103.0,53.3 L94.8,61.5 L86.7,69.5 L79.5,77.5 L72.6,84.8 L66.1,88.9 L63.0,90.2 L58.9,91.0 L55.5,90.6 L53.0,89.5 L52.4,86.8 L51.6,84.4 L50.2,86.2 L48.8,87.6 L48.2,85.5 L47.2,83.6 L45.5,86.2 L42.5,88.6 L37.7,92.1 L33.6,95.4 L29.5,99.4 L27.1,104.0 L26.3,107.5 L23.8,112.4 L19.0,116.4 L12.5,120.5 L6.8,123.7 L5.2,127.8 L6.8,131.0 L10.8,133.4 L14.9,139.1 L18.1,146.4 L21.4,152.9 L23.8,159.4 L24.6,165.8 L24.2,171.0 L22.2,174.0 L17.3,175.6 L10.8,177.2 L4.4,178.8 L1.1,180.4 L-10.0,181.0 Z M144.7,-10.0 L164.0,-10.0 L164.0,14.1 L153.2,14.1 L151.1,17.0 L149.7,22.6 L149.7,28.3 L150.4,32.6 L152.5,34.7 L164.0,35.4 L164.0,42.5 L153.2,42.5 L151.8,43.2 L149.7,44.0 L147.5,45.4 L146.1,44.0 L144.7,39.7 L144.0,34.0 L144.0,26.9 L144.7,21.2 L143.3,17.0 L144.0,14.1 L144.7,7.0 Z M141.0,60.2 L142.6,58.9 L144.7,59.6 L147.5,63.8 L150.4,66.7 L153.2,68.1 L164.0,68.1 L164.0,98.5 L153.0,98.5 L148.8,95.7 L143.1,92.9 L137.4,92.1 L131.8,92.1 L128.9,93.6 L130.3,95.7 L133.2,97.1 L134.6,100.0 L132.5,101.4 L130.3,104.2 L127.5,105.6 L124.6,104.2 L125.4,100.0 L123.9,95.7 L125.4,91.4 L128.9,88.6 L128.2,85.0 L131.0,85.0 L134.6,84.3 L135.3,81.5 L136.7,78.6 L138.9,73.0 L140.3,65.9 Z M127.7,110.3 L128.9,109.2 L134.6,108.5 L136.0,111.3 L138.1,112.5 L142.2,113.6 L143.0,120.1 L143.2,128.0 L143.0,136.3 L142.2,139.5 L137.3,142.8 L134.9,144.4 L133.3,149.3 L132.5,157.4 L130.9,163.9 L131.8,167.1 L130.5,169.8 L128.7,172.5 L126.0,175.1 L123.3,174.2 L122.4,172.5 L120.6,174.2 L118.0,174.2 L116.2,176.0 L114.4,179.6 L112.6,176.0 L109.9,176.9 L106.4,179.6 L102.8,179.6 L100.1,181.4 L96.6,182.3 L93.9,183.2 L91.2,185.0 L88.5,186.8 L88.0,197.0 L36.0,197.0 L37.2,186.4 L43.9,181.4 L50.6,175.8 L56.2,170.8 L64.0,170.2 L72.9,169.1 L78.5,168.5 L83.7,168.8 L87.0,165.6 L90.2,160.7 L94.3,157.4 L95.9,153.4 L95.0,151.6 L95.6,149.8 L97.2,150.0 L98.4,150.9 L103.2,149.3 L109.7,147.7 L115.4,146.1 L119.5,141.2 L121.9,134.7 L124.4,128.2 L124.4,123.3 L125.2,116.8 Z" fill="#dcdcdc" stroke="#444" stroke-width="0.5"/>
<ellipse cx="52.5" cy="186" rx="2.6" ry="1.6" fill="#ffd800" stroke="#3a2a20" stroke-width="0.45"/>
<ellipse cx="57.5" cy="185" rx="2" ry="1.4" fill="#f0a800" stroke="#3a2a20" stroke-width="0.45"/>
<ellipse cx="62.5" cy="184.3" rx="2.4" ry="1.7" fill="#ffe000" stroke="#3a2a20" stroke-width="0.45"/>
<ellipse cx="68" cy="183" rx="2.6" ry="2" fill="#f0a800" stroke="#3a2a20" stroke-width="0.45"/>
<ellipse cx="73" cy="181.8" rx="2.4" ry="1.9" fill="#ffd800" stroke="#3a2a20" stroke-width="0.45"/>
<ellipse cx="78" cy="181.3" rx="2.2" ry="1.7" fill="#f08000" stroke="#3a2a20" stroke-width="0.45"/>
<ellipse cx="76.5" cy="185.6" rx="1.8" ry="1.4" fill="#ffff00" stroke="#3a2a20" stroke-width="0.45"/>
<path d="M93,177.8 L95.5,177.2 L97.8,178.8 L98.2,181.2 L95.8,181.8 L93.6,181 Z" fill="#f08000" stroke="#3a2a20" stroke-width="0.4"/>
<ellipse cx="95.8" cy="179.6" rx="1.1" ry="0.9" fill="#652d88"/>
<path d="M121.6,170.4 L123.8,169.6 L124.8,172 L123.4,174 L122,173.2 Z" fill="#f04018" stroke="#3a2a20" stroke-width="0.4"/>
<path d="M50,59.8 C52,58.2 56,58.4 57.2,60.8 C58.2,63 56.2,64.8 55.8,66.6 C55.3,68.6 53.2,69.8 51.6,68.8 C50.4,67.8 51.6,65.6 50,64.6 C48.4,63.4 48.4,61 50,59.8 Z" fill="#dcdcdc" stroke="#222" stroke-width="0.75"/>
<ellipse cx="109.6" cy="143.7" rx="1.8" ry="2.6" fill="#dcdcdc" stroke="#333" stroke-width="0.5"/>
<circle cx="59.5" cy="164" r="1.2" fill="#333"/>
<ellipse cx="22.6" cy="182.5" rx="1.3" ry="2" fill="#cfcfcf" stroke="#333" stroke-width="0.5"/>
<circle cx="1.5" cy="181.5" r="1.2" fill="#5a3a2a"/>
<circle cx="4.5" cy="179.8" r="0.9" fill="#c04020"/>
<circle cx="7" cy="179.5" r="1.3" fill="#4a3a30"/>
<circle cx="10.5" cy="178.2" r="0.8" fill="#7a4a3a"/>
<circle cx="12.5" cy="178.8" r="1.1" fill="#4a3a30"/>
<circle cx="15.8" cy="177.4" r="1.2" fill="#5a4a40"/>
<circle cx="18.6" cy="177" r="0.8" fill="#c05030"/>
<circle cx="3" cy="183" r="0.8" fill="#4a3a30"/>
<path d="M18.5,79 L20.5,76.5" stroke="#222" stroke-width="1"/>
<path d="M1.5,82.5 L3,81" stroke="#222" stroke-width="0.8"/>
<circle cx="133.5" cy="116.8" r="0.65" fill="#555"/>
<circle cx="130.9" cy="125.7" r="0.65" fill="#555"/>
<circle cx="125.2" cy="150" r="0.65" fill="#555"/>
<circle cx="119.5" cy="158.1" r="0.65" fill="#555"/>
<circle cx="106.5" cy="165.5" r="0.65" fill="#555"/>
<circle cx="140.5" cy="77" r="0.65" fill="#555"/>
<circle cx="146" cy="82" r="0.65" fill="#555"/>
<circle cx="50.6" cy="30.2" r="0.55" fill="#444"/>
<circle cx="55.5" cy="27.8" r="0.55" fill="#444"/>
<circle cx="60.4" cy="25.3" r="0.55" fill="#444"/>
<circle cx="64" cy="23.8" r="0.55" fill="#444"/>
<circle cx="68.2" cy="22.4" r="0.55" fill="#444"/>
<circle cx="77.9" cy="18.5" r="0.55" fill="#444"/>
<circle cx="81.8" cy="19.5" r="0.55" fill="#444"/>
<circle cx="86.7" cy="16.6" r="0.55" fill="#444"/>
<circle cx="89" cy="15" r="0.55" fill="#444"/>
<circle cx="91.5" cy="13.6" r="0.55" fill="#444"/>
<circle cx="95.4" cy="5.8" r="0.55" fill="#444"/>
<circle cx="97.4" cy="3.9" r="0.55" fill="#444"/>
</g>
<rect x="0.5" y="0.5" width="153.2" height="186.5" fill="none" stroke="#8a8a8a" stroke-width="1.2"/>
<path d="M10.2,0.5 H29.8 M10.2,187.0 H29.8" stroke="#222" stroke-width="1.3"/>
<path d="M48.5,0.5 H68 M48.5,187.0 H68" stroke="#222" stroke-width="1.3"/>
<path d="M86.8,0.5 H106.3 M86.8,187.0 H106.3" stroke="#222" stroke-width="1.3"/>
<path d="M125.1,0.5 H145.4 M125.1,187.0 H145.4" stroke="#222" stroke-width="1.3"/>
<path d="M0.5,0 V26.7 M153.7,0 V26.7" stroke="#222" stroke-width="1.3"/>
<path d="M0.5,52.2 V75.7 M153.7,52.2 V75.7" stroke="#222" stroke-width="1.3"/>
<path d="M0.5,99.2 V121.7 M153.7,99.2 V121.7" stroke="#222" stroke-width="1.3"/>
<path d="M0.5,144.7 V167.7 M153.7,144.7 V167.7" stroke="#222" stroke-width="1.3"/>
<text transform="translate(9.0,20.4) scale(1.078,1)" class="ttl">Dec</text>
<text x="30.2" y="201.5" class="lon">130E</text>
<text x="68.2" y="201.5" class="lon">134E</text>
<text x="106.2" y="201.5" class="lon">138E</text>
<text x="144.2" y="201.5" class="lon">142E</text>
</g>
<text class="lat" transform="translate(22.8,41.0) rotate(-90) scale(0.887,1.15)">48N</text>
<text class="lat" transform="translate(1014.3,40.7) rotate(-90) scale(0.887,1.15)">48N</text>
<text class="lat" transform="translate(22.8,90.3) rotate(-90) scale(0.887,1.15)">44N</text>
<text class="lat" transform="translate(1014.3,90.0) rotate(-90) scale(0.887,1.15)">44N</text>
<text class="lat" transform="translate(22.8,136.5) rotate(-90) scale(0.887,1.15)">40N</text>
<text class="lat" transform="translate(1014.3,136.2) rotate(-90) scale(0.887,1.15)">40N</text>
<text class="lat" transform="translate(22.8,179.9) rotate(-90) scale(0.887,1.15)">36N</text>
<text class="lat" transform="translate(1014.3,179.6) rotate(-90) scale(0.887,1.15)">36N</text>
<text class="lat" transform="translate(22.8,252.2) rotate(-90) scale(0.887,1.15)">48N</text>
<text class="lat" transform="translate(1014.3,251.9) rotate(-90) scale(0.887,1.15)">48N</text>
<text class="lat" transform="translate(22.8,301.5) rotate(-90) scale(0.887,1.15)">44N</text>
<text class="lat" transform="translate(1014.3,301.2) rotate(-90) scale(0.887,1.15)">44N</text>
<text class="lat" transform="translate(22.8,347.7) rotate(-90) scale(0.887,1.15)">40N</text>
<text class="lat" transform="translate(1014.3,347.4) rotate(-90) scale(0.887,1.15)">40N</text>
<text class="lat" transform="translate(22.8,391.1) rotate(-90) scale(0.887,1.15)">36N</text>
<text class="lat" transform="translate(1014.3,390.8) rotate(-90) scale(0.887,1.15)">36N</text>
<rect x="281.3" y="448.6" width="67.8" height="18.3" fill="#b0306e"/>
<rect x="348.8" y="448.6" width="40.6" height="18.3" fill="#e2207f"/>
<rect x="389.1" y="448.6" width="31.5" height="18.3" fill="#652d88"/>
<rect x="420.3" y="448.6" width="22.8" height="18.3" fill="#5c2e90"/>
<rect x="442.8" y="448.6" width="18.3" height="18.3" fill="#5058e0"/>
<rect x="460.8" y="448.6" width="29.4" height="18.3" fill="#7ba0f0"/>
<rect x="489.9" y="448.6" width="20.6" height="18.3" fill="#98e8f5"/>
<rect x="510.2" y="448.6" width="20.4" height="18.3" fill="#2e5a35"/>
<rect x="530.3" y="448.6" width="16.9" height="18.3" fill="#3a8a2a"/>
<rect x="546.9" y="448.6" width="16.8" height="18.3" fill="#30a020"/>
<rect x="563.4" y="448.6" width="18.8" height="18.3" fill="#6ab810"/>
<rect x="581.9" y="448.6" width="22.2" height="18.3" fill="#b0e000"/>
<rect x="603.8" y="448.6" width="20.6" height="18.3" fill="#ffff00"/>
<rect x="624.1" y="448.6" width="27.8" height="18.3" fill="#ffd800"/>
<rect x="651.6" y="448.6" width="24.3" height="18.3" fill="#f0a800"/>
<rect x="675.6" y="448.6" width="33.1" height="18.3" fill="#f08000"/>
<rect x="708.4" y="448.6" width="34.7" height="18.3" fill="#f04018"/>
<rect x="742.8" y="448.6" width="4.4" height="18.3" fill="#ff0000"/>
<text x="283" y="483.6" class="cb">0.01</text>
<text x="437" y="483.6" class="cb">0.10</text>
<text x="590.5" y="483.6" class="cb">1.00</text>
<text x="746.3" y="483.6" class="cb">10.0</text>
<text x="758.5" y="465.3" class="unit">(mg/m<tspan dy="-5" font-size="8.5">3</tspan><tspan dy="5">)</tspan></text>
<rect x="26.3" y="437.2" width="177.7" height="16.3" fill="#fff" stroke="#000" stroke-width="1.4"/>
<rect x="70.3" y="437.2" width="45.7" height="16.3" fill="#000"/>
<rect x="157.8" y="437.2" width="46.2" height="16.3" fill="#000"/>
<text x="207.3" y="451.6" class="km">km</text>
<text x="26.3" y="467.2" class="sb">0</text>
<text x="60.4" y="467.2" class="sb">600</text>
<text x="98.5" y="467.2" class="sb">1200</text>
<text x="145.4" y="467.2" class="sb">1800</text>
<text x="189.3" y="467.2" class="sb">2400</text>
<text transform="translate(249.8,437.7) scale(1.3,1)" class="nn">N</text>
<path d="M249.3,440.7 L238.6,466 L249.3,457.4 Z" fill="#000"/>
<path d="M249.3,441.5 L249.3,457.4 L260.2,465.6 Z" fill="#fff" stroke="#000" stroke-width="1.3" stroke-linejoin="miter"/>
</svg></body></html>
